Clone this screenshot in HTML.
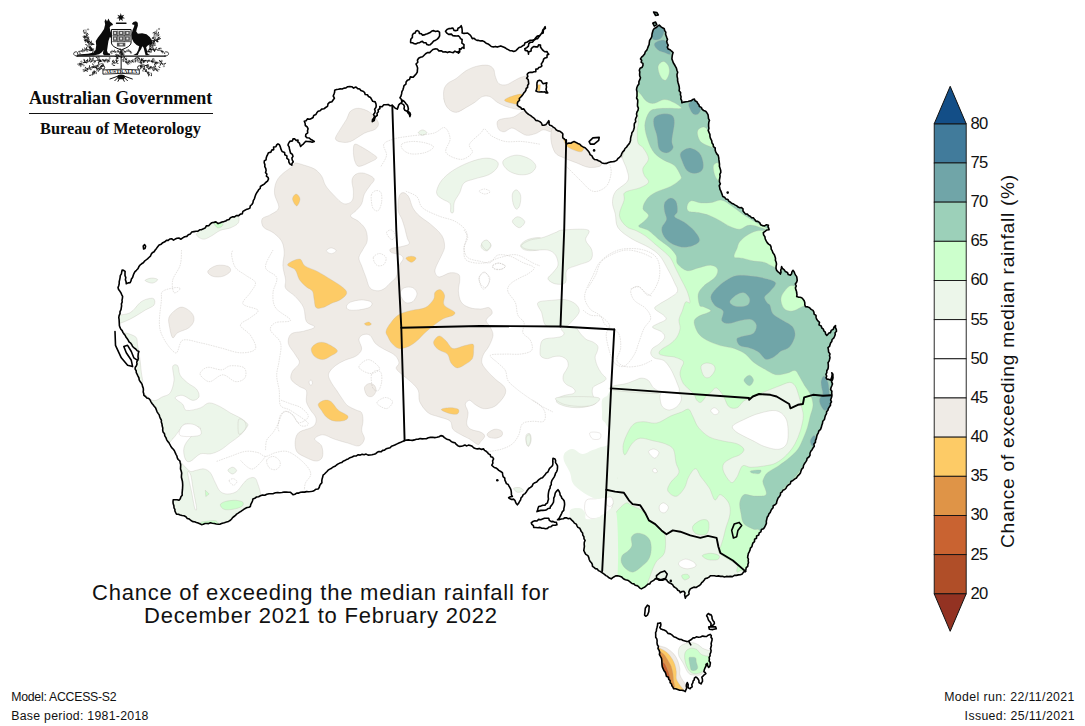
<!DOCTYPE html>
<html lang="en"><head><meta charset="utf-8"><title>Chance of exceeding the median rainfall</title>
<style>
html,body{margin:0;padding:0;background:#fff;}
body{width:1085px;height:726px;position:relative;overflow:hidden;font-family:"Liberation Sans",sans-serif;color:#111;}
.t{position:absolute;white-space:nowrap;line-height:1;color:#111;font-family:"Liberation Sans",sans-serif;}
svg{position:absolute;left:0;top:0;}
</style></head><body>
<svg width="1085" height="726" viewBox="0 0 1085 726">
<defs><clipPath id="land">
<polygon points="157.7,246.7 159.1,245.0 161.2,244.2 162.8,242.7 164.8,241.8 166.4,240.4 168.2,240.4 169.8,239.0 171.6,238.7 173.5,240.1 175.2,239.1 177.0,238.3 178.9,238.0 181.0,239.2 182.7,237.9 184.6,236.8 186.8,236.4 188.3,234.7 190.4,233.9 191.8,232.0 194.0,231.6 196.0,231.2 198.0,231.1 199.7,229.8 201.7,229.6 203.5,228.8 205.3,227.9 206.3,225.9 208.7,225.7 210.1,224.2 211.6,222.8 213.8,222.4 215.9,221.9 218.1,223.6 220.3,222.8 222.0,222.0 223.9,221.6 225.7,221.0 227.2,219.9 229.1,219.4 230.4,217.8 232.3,216.9 234.6,216.9 236.3,215.5 238.7,215.6 240.4,214.1 242.3,213.7 242.9,211.4 244.5,210.5 246.1,209.6 247.9,209.1 249.9,208.1 250.3,205.8 251.9,204.5 252.9,202.8 253.3,200.6 254.4,198.8 255.0,196.7 255.7,194.7 256.7,192.8 257.8,191.3 258.7,189.7 260.2,188.5 260.4,186.5 262.3,185.2 264.2,184.1 265.7,182.5 267.5,181.2 268.5,179.0 268.0,177.3 266.4,176.1 266.9,174.0 265.5,172.7 266.1,170.6 265.8,168.6 264.8,166.7 264.9,164.6 264.2,162.7 264.3,160.9 266.1,159.8 266.2,158.0 266.7,156.4 267.6,154.6 268.5,152.7 271.0,152.1 271.7,150.1 273.7,149.6 273.6,147.0 275.9,146.8 276.6,145.0 278.0,143.9 279.4,144.7 280.0,146.1 280.5,147.6 281.2,149.7 282.1,151.5 284.6,152.4 284.8,154.8 286.9,155.9 286.9,158.4 288.7,159.7 288.9,162.1 289.8,163.9 291.8,165.2 292.0,163.4 293.3,161.8 292.2,159.9 291.9,158.0 293.0,156.4 292.4,154.4 290.5,153.0 290.0,151.0 289.5,149.0 289.1,146.9 288.0,145.1 288.7,143.1 289.8,141.4 292.4,140.9 293.0,138.9 294.8,138.9 296.2,140.6 298.0,140.1 297.9,142.0 299.5,143.2 300.0,144.8 300.6,146.4 301.8,145.2 303.3,144.1 304.4,142.8 305.6,141.4 307.8,141.5 310.0,141.6 312.1,142.2 314.3,141.4 312.6,140.3 310.8,139.5 309.3,138.0 307.1,137.8 305.6,136.4 305.8,134.3 307.7,132.9 307.5,130.7 308.1,128.8 307.2,126.9 305.3,125.5 305.1,123.3 304.3,121.3 306.1,120.7 307.4,118.9 309.7,119.3 311.4,118.5 313.1,117.5 313.7,115.4 315.8,114.6 316.8,112.8 318.1,111.3 320.1,110.7 321.7,109.1 323.9,108.8 325.6,107.5 327.5,106.4 328.0,103.8 329.5,102.4 331.9,101.8 333.1,100.0 334.4,98.2 333.2,96.0 334.0,94.1 334.6,92.2 334.7,90.2 336.5,89.5 338.4,89.3 340.2,88.9 342.2,89.0 344.0,88.1 346.0,87.9 347.7,86.7 349.7,86.5 351.8,86.7 353.6,88.1 356.0,87.0 357.7,88.6 359.7,89.0 360.9,90.6 362.9,91.2 364.5,92.3 365.2,94.5 367.4,94.8 368.5,96.5 370.5,97.5 371.6,99.4 372.7,101.3 375.2,101.9 376.0,104.0 376.2,105.8 375.9,107.6 374.6,109.2 375.2,111.1 374.8,112.8 373.5,114.4 374.5,116.5 373.6,118.2 372.5,119.7 372.3,121.6 374.2,120.5 374.7,118.4 375.6,116.5 377.3,115.3 377.0,113.3 378.4,111.8 378.1,109.9 379.9,108.5 379.8,106.5 382.1,106.7 383.8,104.7 386.1,104.8 388.2,104.5 390.2,105.8 392.3,105.3 393.8,106.8 395.3,108.3 397.3,109.1 398.1,107.1 398.6,105.1 400.0,103.6 401.9,102.4 402.4,100.3 404.0,101.2 405.1,102.5 406.2,103.9 407.4,105.3 408.0,107.1 408.4,109.0 407.7,111.1 409.8,112.6 410.5,114.5 409.9,116.6 409.4,114.4 408.0,112.9 407.0,111.2 404.9,110.3 404.0,108.6 404.4,106.4 403.6,104.6 401.4,103.4 401.8,101.2 401.3,99.3 399.9,97.8 401.0,96.0 401.6,93.9 401.9,91.7 402.9,89.8 403.5,87.8 404.0,85.7 405.9,84.2 406.1,82.0 407.4,80.2 409.5,79.5 410.3,76.9 413.2,77.2 414.6,75.6 416.1,74.0 417.3,72.1 417.4,70.1 417.6,68.1 417.0,66.1 416.0,64.0 417.8,62.2 417.4,60.2 418.6,58.3 420.5,57.3 422.6,56.7 424.1,55.2 425.6,53.7 427.4,52.6 429.7,52.6 431.3,51.0 432.9,49.5 434.9,48.9 437.2,49.0 438.9,50.9 441.2,50.7 443.1,52.0 445.5,51.7 447.5,52.6 449.3,51.8 451.3,52.3 453.2,52.7 454.9,51.1 457.0,52.2 458.8,51.4 458.4,53.3 459.7,52.0 459.7,50.4 459.4,48.7 460.9,49.3 462.3,47.4 464.0,48.3 463.9,46.5 464.0,44.6 461.9,43.2 462.0,41.4 462.1,39.5 460.5,38.6 459.7,37.0 458.4,35.8 456.6,36.0 454.7,35.9 452.9,35.8 451.4,34.1 448.6,34.4 446.9,33.2 445.5,31.2 447.0,29.5 448.8,28.6 451.1,28.4 452.9,28.0 454.0,30.4 455.7,30.6 457.5,30.3 458.0,28.2 460.0,27.2 461.2,25.7 461.8,27.5 462.1,29.3 462.2,31.2 462.1,33.0 464.0,33.4 465.8,33.2 467.6,33.0 469.0,34.2 470.5,35.4 471.4,36.9 472.3,38.6 474.1,38.2 475.5,39.6 477.0,40.4 478.7,40.4 480.6,40.9 482.7,40.9 484.5,41.8 486.1,43.2 488.1,43.9 489.7,45.2 491.3,46.5 493.5,46.9 495.3,46.4 497.2,47.1 499.0,46.4 500.8,45.9 502.7,46.7 504.6,47.5 506.4,48.7 508.2,49.6 509.9,50.7 511.9,50.7 513.7,51.5 515.8,50.7 517.4,49.1 519.0,47.5 521.1,46.9 522.6,45.8 524.3,45.0 525.0,42.8 526.9,42.3 528.5,41.3 530.2,40.3 532.5,40.2 534.4,39.4 535.9,37.6 537.3,36.1 539.6,35.5 541.1,34.0 542.3,32.1 542.8,30.0 544.1,28.4 545.1,26.6 545.4,28.4 543.5,29.6 543.3,31.3 543.2,33.0 541.2,33.8 540.0,35.4 538.8,36.9 537.7,38.6 535.6,39.0 533.9,40.3 532.6,42.1 530.3,42.3 528.8,43.7 528.4,46.2 526.8,47.6 524.8,48.7 525.2,50.4 527.5,50.9 528.3,52.4 528.5,54.2 528.6,52.0 531.1,50.9 531.2,48.7 532.5,47.4 533.9,46.5 535.9,46.9 537.7,46.9 538.6,44.9 540.5,45.0 540.4,46.8 541.3,48.2 542.3,49.6 543.6,50.9 545.0,51.8 546.9,51.5 547.7,53.0 548.8,54.2 547.1,55.0 547.0,57.4 545.1,57.9 543.6,59.2 543.2,61.0 542.3,62.5 541.3,63.9 541.9,65.9 540.5,67.1 538.8,67.6 537.7,69.0 535.9,69.1 535.8,71.6 534.0,71.8 532.2,72.4 530.3,72.2 528.5,72.7 527.2,74.3 527.8,76.5 526.6,78.2 528.2,79.7 528.5,81.9 528.7,83.8 527.6,85.5 527.6,87.4 526.2,88.5 525.9,90.3 525.0,91.7 523.9,92.9 522.9,94.5 521.8,95.9 520.6,97.2 519.3,98.5 519.5,100.4 518.0,101.6 517.4,103.1 517.4,105.4 519.3,106.8 520.8,107.5 521.7,109.1 523.8,108.9 524.8,110.5 526.0,112.1 527.4,113.5 529.0,114.6 530.7,115.7 532.2,116.9 533.6,117.8 534.8,119.0 535.8,120.4 537.7,120.6 539.8,121.6 541.4,123.0 542.3,125.2 544.0,125.1 545.7,124.8 546.9,123.4 547.9,122.0 548.8,120.6 549.2,122.1 548.9,123.8 549.7,125.2 551.7,125.8 553.2,127.1 554.9,128.1 556.1,129.8 557.9,130.9 560.0,131.3 561.7,132.6 562.9,134.0 562.7,136.0 562.8,137.8 564.4,139.0 565.7,140.4 565.9,142.5 567.2,143.8 568.9,143.1 570.8,143.3 572.4,142.3 574.1,141.6 576.0,142.4 577.9,143.5 579.8,144.3 581.3,145.9 583.1,146.9 585.1,147.7 586.6,149.2 588.0,150.8 589.3,152.5 590.1,154.6 592.0,155.9 592.9,157.9 594.5,159.5 596.7,159.7 598.5,160.8 600.4,161.6 602.1,163.0 604.2,163.5 606.4,163.4 608.4,162.5 610.4,161.9 612.6,161.7 614.7,161.4 616.7,160.4 617.8,158.7 619.5,157.3 621.0,155.8 621.7,153.7 622.7,151.9 624.2,150.4 625.0,148.5 626.6,147.2 627.6,145.5 628.9,144.1 629.9,142.3 630.5,140.4 630.6,138.4 631.0,136.5 631.6,134.7 631.9,132.8 633.1,131.1 633.8,129.2 634.3,127.4 634.2,125.3 634.4,123.4 635.7,121.7 635.4,119.6 636.0,117.8 636.9,116.0 636.5,113.9 637.0,112.0 638.0,110.3 638.4,108.2 637.5,106.2 637.5,104.2 637.7,102.1 637.7,100.0 636.6,98.0 637.0,96.0 637.0,93.9 637.0,91.8 636.5,89.8 636.8,87.7 637.6,85.8 638.9,84.0 638.9,81.7 639.8,79.7 640.5,77.7 639.7,75.9 639.6,74.0 639.8,72.0 639.3,70.2 640.1,68.2 642.2,67.2 643.0,65.2 642.9,63.4 641.2,62.3 641.7,60.2 640.5,58.9 641.6,57.1 643.3,55.6 644.6,53.9 645.3,51.7 646.8,50.1 647.6,48.3 648.2,46.4 649.1,44.6 649.3,42.6 649.6,40.4 650.9,38.5 651.8,36.5 652.0,34.3 652.5,32.2 653.1,30.1 654.3,28.4 656.2,27.6 657.6,26.2 659.3,25.1 660.8,26.6 662.5,27.8 664.3,28.8 664.7,30.6 665.8,32.2 665.6,34.2 666.2,35.9 666.8,37.6 667.5,39.4 666.7,41.4 667.2,43.3 668.2,45.1 667.3,47.1 668.1,48.9 670.1,49.7 671.6,51.2 673.1,52.6 672.4,54.7 672.1,56.8 671.9,58.9 672.6,60.8 673.3,62.8 674.4,64.5 675.4,66.3 676.4,68.1 676.9,70.2 677.7,72.2 677.0,74.4 677.1,76.5 677.6,78.6 677.6,80.7 678.1,82.7 678.7,84.7 679.2,86.7 679.4,88.7 679.1,90.8 680.6,92.6 680.4,94.8 681.1,96.7 680.8,98.8 681.7,100.7 681.9,102.8 683.9,102.1 686.0,101.8 688.1,101.5 689.7,101.0 691.4,100.6 692.8,99.5 694.4,99.0 695.0,100.8 696.9,101.7 697.7,103.4 698.9,104.7 699.4,106.5 701.3,107.4 702.2,109.4 703.7,110.5 705.7,111.2 706.9,112.8 708.0,114.6 708.3,116.5 708.5,118.6 709.5,120.3 708.8,122.3 708.6,124.3 708.6,126.3 708.9,128.4 708.2,130.4 709.0,132.4 709.9,134.4 710.0,136.6 710.6,138.7 711.7,140.7 712.0,142.9 713.2,144.5 713.4,146.7 715.2,148.0 715.2,150.2 715.9,152.1 716.8,153.9 718.2,155.4 718.7,157.6 718.9,159.7 719.2,161.9 719.5,164.1 719.4,166.3 720.1,168.4 720.7,170.5 720.8,172.4 719.8,174.3 720.1,176.2 719.8,178.1 719.4,180.0 719.5,182.0 720.4,183.8 719.2,185.7 719.7,187.6 720.0,189.4 720.9,191.1 721.5,192.9 722.2,194.6 722.7,196.4 724.6,197.2 725.8,198.9 727.9,199.5 729.0,201.4 730.6,202.3 732.0,203.5 733.7,204.1 735.3,205.1 736.8,205.9 738.1,207.1 739.7,207.7 741.5,207.6 743.0,208.9 743.0,211.0 744.2,212.4 745.3,213.9 747.3,214.1 748.6,215.6 750.2,216.3 751.6,217.7 753.5,217.9 754.7,219.6 755.9,221.1 757.8,221.4 759.7,222.6 760.7,224.8 762.8,225.7 764.7,225.9 766.5,224.7 768.4,225.2 768.0,226.8 768.7,228.2 769.1,229.7 766.8,230.0 765.1,231.4 763.3,232.7 763.6,234.9 764.9,236.8 765.3,239.0 766.2,240.9 767.2,242.6 768.6,244.1 770.4,245.2 771.1,247.1 771.2,249.1 772.3,250.9 772.9,252.8 774.2,254.4 774.9,256.3 775.5,258.2 775.4,260.3 776.2,262.2 776.5,264.2 776.1,266.3 776.0,268.3 776.6,270.3 777.8,271.6 779.2,272.7 780.4,274.1 781.0,272.2 780.7,270.2 781.3,268.4 781.6,266.5 782.5,268.5 784.3,269.8 785.4,271.6 787.4,272.4 788.3,274.6 790.4,275.3 791.6,273.8 791.9,271.9 792.9,270.3 794.1,271.8 794.8,273.5 795.6,275.1 796.7,276.6 797.0,278.5 797.2,280.4 796.6,282.3 795.3,284.0 796.3,286.0 795.4,287.9 795.8,289.6 796.5,291.3 796.7,293.0 797.0,294.8 796.7,296.6 798.3,297.1 800.0,297.3 801.7,297.7 802.9,299.1 804.2,300.8 804.8,302.7 804.8,304.8 805.5,306.7 807.7,306.9 809.6,307.8 811.1,309.4 813.0,310.4 813.9,312.1 814.1,314.1 816.0,315.4 816.1,317.4 816.7,319.2 817.9,320.9 819.5,322.3 819.0,324.9 821.2,326.0 821.8,328.0 823.4,329.1 823.8,330.9 825.3,332.1 825.6,334.1 826.8,335.5 827.9,334.3 828.9,333.0 830.5,332.6 831.2,330.4 833.3,329.3 834.0,327.1 835.5,325.6 835.4,327.6 836.3,329.4 836.5,331.3 835.1,332.7 835.2,334.8 834.5,336.5 833.7,338.2 832.1,339.5 831.8,341.4 830.7,342.8 830.1,344.6 829.5,346.4 828.0,347.6 828.4,349.8 828.6,352.0 830.0,353.9 829.5,355.6 830.0,357.6 829.6,359.3 829.1,361.1 828.0,362.7 828.3,364.7 828.3,366.8 828.0,368.8 826.8,370.7 826.8,372.7 825.9,374.3 826.7,376.1 826.0,377.7 827.1,379.2 829.0,379.4 830.5,380.2 831.3,378.4 831.8,376.6 832.2,374.7 831.8,372.7 832.9,374.2 832.9,376.0 833.0,377.7 832.5,379.7 831.5,381.6 832.5,383.9 831.8,385.8 831.0,387.7 830.6,389.5 831.9,391.2 831.7,393.0 831.9,394.7 831.8,396.5 831.2,398.2 830.6,399.9 831.5,401.9 830.4,403.5 830.5,405.3 829.4,406.8 828.4,408.4 827.9,410.3 826.6,411.7 826.5,413.7 825.5,415.3 824.9,417.4 824.4,419.5 822.8,421.2 822.5,423.4 821.8,425.3 821.3,427.4 820.6,429.3 818.9,430.8 818.3,432.8 817.3,434.6 816.7,436.6 816.3,438.6 815.5,440.4 815.4,442.4 813.9,444.0 814.3,446.3 813.0,447.9 812.1,449.7 810.8,451.3 810.0,453.2 810.0,455.4 808.9,457.0 807.1,458.4 806.7,460.4 805.6,462.1 804.4,463.8 803.5,465.5 803.2,467.6 801.7,469.1 801.0,471.0 800.4,473.0 799.1,474.7 797.6,476.1 796.4,478.0 794.5,479.1 792.9,480.5 790.9,481.5 790.3,483.9 788.3,485.0 786.8,486.5 786.0,488.2 784.7,489.5 782.9,490.2 782.1,491.8 780.6,492.8 780.4,494.8 779.5,496.5 778.1,498.0 777.4,499.8 776.8,501.6 776.4,503.5 775.1,504.8 773.2,505.7 773.1,507.8 771.8,509.1 770.9,510.7 770.2,512.5 768.9,513.9 768.3,515.7 767.2,517.3 766.8,519.1 766.3,521.2 766.4,523.4 765.5,525.4 764.6,527.2 763.5,528.8 761.4,529.6 760.9,531.8 759.2,532.9 758.8,534.9 756.6,535.9 756.5,538.2 754.6,539.3 754.5,541.6 753.0,542.9 752.3,544.8 751.9,546.7 750.4,548.1 750.0,550.1 749.2,551.8 748.3,553.6 748.0,555.5 747.6,557.3 748.4,559.0 748.2,560.8 748.5,562.6 747.9,564.4 747.8,566.3 746.2,567.7 745.9,569.6 745.5,571.4 743.5,572.1 742.3,573.9 740.4,574.7 738.4,574.9 736.4,575.4 734.4,575.4 732.5,576.6 730.4,576.4 728.4,576.6 726.4,576.4 724.4,577.0 722.4,576.3 720.4,576.4 718.4,575.9 716.4,576.2 714.4,575.7 712.4,575.7 710.4,575.7 709.0,577.1 707.3,578.1 705.3,578.5 704.1,580.2 703.0,581.6 701.7,582.7 700.7,584.3 699.4,585.5 697.8,586.4 696.1,587.5 693.9,587.1 692.1,588.0 690.3,588.9 689.4,590.5 688.8,592.1 689.1,594.0 687.7,595.3 686.1,596.4 685.3,598.2 685.0,596.5 684.6,594.9 685.0,593.0 684.0,591.4 682.0,591.5 680.3,592.7 679.5,591.0 677.8,590.2 676.8,588.7 675.3,587.7 673.6,586.5 672.6,584.6 670.9,583.5 669.0,582.7 667.5,581.4 666.5,579.7 664.5,579.3 662.7,580.2 660.8,580.3 658.9,580.1 657.1,578.9 655.2,578.9 653.9,580.3 652.3,581.1 650.7,582.1 649.8,583.9 647.7,584.3 646.4,585.7 644.9,587.0 643.1,587.9 641.4,588.9 639.8,588.1 638.6,586.7 637.1,585.6 635.2,585.2 633.9,583.9 632.0,583.5 630.6,582.3 629.1,581.2 627.6,580.2 625.4,579.8 623.4,578.8 621.8,577.1 619.7,576.3 617.6,575.7 615.7,575.9 614.2,576.7 612.7,577.6 611.3,578.9 610.0,578.2 608.6,577.6 607.6,576.4 605.9,575.6 604.5,574.4 603.1,573.4 601.6,572.3 600.1,571.4 598.4,570.6 597.3,569.0 595.4,568.6 594.0,567.4 592.5,566.4 592.3,564.4 591.4,562.7 590.0,561.2 589.2,559.5 588.8,557.6 587.9,555.6 585.8,554.4 584.7,552.5 583.8,550.4 584.1,548.4 584.4,546.4 584.2,544.3 584.3,542.3 585.1,540.4 584.0,538.8 583.9,536.7 582.8,535.1 582.6,533.1 581.3,531.6 580.6,529.9 579.8,528.3 577.9,527.4 577.0,525.8 576.3,524.1 574.4,523.1 573.1,521.3 571.5,519.9 570.0,518.3 568.3,518.7 566.7,517.9 565.0,517.8 563.3,518.8 561.3,519.0 559.5,519.6 557.5,519.8 559.1,518.4 560.0,516.6 560.9,515.0 561.7,513.3 562.4,511.6 563.8,510.3 563.9,508.4 564.3,506.6 564.6,504.7 564.5,502.8 564.2,501.0 563.2,499.5 561.8,498.2 561.3,496.5 560.1,495.0 559.9,493.0 559.1,491.3 558.0,489.7 557.1,490.6 556.3,491.5 555.3,492.9 554.9,494.6 554.6,496.3 553.8,497.8 553.7,499.9 553.5,502.1 552.5,504.0 551.5,505.4 550.4,506.6 550.0,508.3 548.1,508.5 546.7,509.7 545.0,510.3 542.9,510.4 540.9,510.4 538.9,510.9 537.0,511.6 537.7,509.9 538.0,508.2 538.7,506.5 540.8,506.1 542.8,505.3 545.0,505.3 546.0,503.8 547.5,502.8 547.9,500.9 548.5,499.1 548.2,497.1 548.2,495.3 548.4,493.4 548.7,491.5 549.2,489.7 550.1,488.1 550.2,486.2 551.3,484.6 551.2,482.7 551.8,480.7 552.9,478.9 554.1,477.1 555.0,475.2 555.5,473.3 556.7,471.6 557.3,469.7 557.5,467.7 557.5,465.8 556.6,464.1 555.5,462.6 555.6,460.6 555.0,458.9 553.0,458.2 552.8,460.0 552.8,461.9 552.9,463.8 552.5,465.7 551.1,467.0 549.6,468.4 548.7,470.2 547.9,472.0 546.1,473.1 545.1,474.8 543.7,476.2 542.5,477.7 540.7,478.3 539.2,479.3 537.9,480.6 536.7,482.0 534.9,482.7 533.1,483.9 532.2,486.0 530.5,487.3 528.7,488.5 527.4,490.2 526.3,492.0 525.1,493.6 523.2,494.6 522.4,496.5 521.0,497.9 520.6,499.9 519.5,501.5 518.6,503.3 517.4,504.8 516.2,503.5 515.5,501.9 514.9,500.3 513.5,499.1 511.6,499.5 510.1,498.7 508.6,497.8 510.4,496.8 512.4,496.5 511.4,494.9 511.4,493.0 511.2,491.2 510.8,489.4 509.9,487.7 509.0,486.2 508.2,484.5 506.4,483.6 505.7,481.9 504.9,480.2 504.8,478.2 503.1,476.6 502.7,474.7 502.4,472.7 500.7,471.5 498.8,470.4 497.3,468.9 496.0,468.0 494.3,467.5 493.0,466.4 491.8,465.2 492.9,463.2 492.6,460.9 493.6,458.9 492.7,457.3 490.8,456.7 490.2,454.7 488.6,453.9 487.5,452.5 486.2,451.3 484.5,450.4 483.6,448.9 481.5,449.4 479.4,448.6 477.3,448.9 475.4,448.5 473.6,447.7 472.2,446.3 470.4,445.5 468.5,445.1 466.8,445.9 464.9,445.1 463.2,445.8 461.5,446.3 459.7,446.4 457.8,445.7 456.3,444.4 455.0,442.7 452.9,442.4 451.2,441.5 449.7,440.1 447.8,439.6 446.0,438.7 444.4,437.6 442.9,436.1 440.9,435.6 439.0,436.8 436.9,437.3 434.7,437.6 432.5,437.3 430.4,437.4 428.3,437.7 426.3,438.7 424.2,438.8 422.1,438.9 420.1,438.5 418.2,439.3 416.3,439.2 414.4,439.9 412.4,440.4 410.5,440.2 408.5,439.9 406.5,440.1 404.6,440.6 402.7,441.4 400.8,442.3 398.9,443.0 397.1,443.9 395.3,444.8 393.5,445.6 391.5,446.2 390.1,447.8 388.1,448.2 386.1,448.8 384.5,450.1 382.6,450.4 381.1,451.8 379.0,451.5 377.2,452.3 375.7,453.7 373.9,454.3 372.0,454.7 370.0,455.0 368.1,455.1 366.1,454.1 364.1,454.7 362.2,454.3 360.2,455.1 358.2,454.7 356.4,455.9 354.1,456.0 352.1,457.0 350.0,457.7 348.2,458.9 346.4,459.6 344.8,460.6 343.1,461.2 341.7,462.6 339.8,463.1 338.2,463.9 336.5,465.0 335.0,466.3 333.1,467.0 331.6,468.2 329.8,469.1 328.1,470.2 327.0,471.5 325.7,472.8 324.5,474.0 323.1,475.2 322.7,477.1 322.1,478.9 321.8,480.8 321.9,482.7 320.6,484.1 319.7,485.7 319.2,487.5 318.1,489.0 316.1,489.2 314.4,490.4 312.6,491.2 310.6,491.5 308.6,491.7 306.6,491.6 304.6,492.1 302.5,492.0 300.6,492.3 298.7,493.1 296.7,493.1 294.9,494.2 293.0,494.8 291.8,493.5 290.5,492.3 288.4,492.3 286.2,492.1 284.1,492.0 281.9,492.5 279.8,492.7 277.6,492.6 275.5,492.8 273.4,493.6 271.2,493.7 269.0,493.7 266.8,494.2 264.8,495.3 262.5,495.0 260.4,495.8 258.6,496.7 256.5,497.0 254.8,498.3 252.9,499.0 252.5,501.0 251.6,502.8 250.7,504.6 250.4,506.5 248.9,507.2 247.2,507.5 245.6,508.2 244.1,509.1 242.7,510.2 241.2,511.2 239.6,512.1 238.2,513.1 236.6,514.1 235.5,515.4 234.0,516.5 232.6,517.6 231.6,519.0 230.4,520.3 228.5,521.4 226.4,522.1 224.4,522.7 222.3,523.2 220.3,524.1 218.3,524.2 216.3,524.0 214.3,523.5 212.3,523.3 210.3,522.8 208.6,523.6 206.8,523.5 205.0,523.5 203.3,524.2 201.5,524.6 199.8,523.8 198.1,523.1 196.4,522.5 194.6,521.8 192.8,521.6 191.0,520.5 189.3,519.1 187.3,518.4 185.9,516.7 184.0,515.8 182.1,515.5 180.2,515.0 178.4,514.2 176.5,514.1 175.7,512.6 174.9,511.0 174.9,509.3 174.0,507.8 173.9,505.8 173.2,503.8 173.0,501.8 173.2,499.8 175.1,499.8 177.1,499.7 179.0,500.3 180.3,498.8 180.9,496.8 182.2,495.3 182.1,493.2 182.3,491.2 182.5,489.2 182.6,487.2 182.7,485.2 182.6,483.2 182.4,481.2 181.9,479.2 181.4,477.3 181.5,475.2 181.7,473.1 181.2,471.0 180.5,469.0 180.6,466.9 180.7,464.7 180.2,462.7 179.8,460.8 178.2,459.5 177.3,457.9 176.9,456.0 176.0,454.3 175.2,452.6 174.4,450.8 173.3,449.3 171.9,447.9 170.8,446.2 169.9,444.5 169.0,442.8 167.7,441.4 166.6,439.6 165.9,437.6 164.8,435.9 164.5,433.8 163.1,432.1 162.7,430.1 162.8,428.0 162.2,426.1 162.0,424.1 161.3,422.1 161.4,420.1 160.4,418.5 159.7,416.7 159.2,414.9 158.1,413.4 157.1,411.8 156.4,410.0 155.7,408.1 154.4,406.6 153.3,405.0 152.0,403.5 151.0,401.8 150.1,400.0 148.8,398.5 146.8,398.0 145.5,396.5 143.9,395.4 143.7,393.6 143.2,391.9 143.4,390.1 143.3,388.3 142.6,386.6 142.2,384.7 141.3,383.0 140.1,381.5 139.2,379.8 138.9,377.9 138.0,376.1 137.2,374.4 136.3,372.7 136.2,370.7 135.1,369.1 135.3,367.2 136.4,365.7 137.0,363.9 136.7,362.0 137.6,360.3 138.3,358.6 138.0,356.8 138.1,355.0 138.3,353.2 138.9,351.5 137.0,350.6 135.7,349.0 134.1,347.9 132.6,346.5 131.8,344.7 130.7,343.1 129.0,341.9 128.2,340.1 127.1,338.5 125.9,337.0 125.1,335.2 123.9,333.9 122.9,332.4 122.2,330.6 120.9,329.3 120.1,327.7 119.4,325.8 119.3,323.7 119.2,321.7 119.1,319.7 118.8,317.7 119.1,315.6 120.0,313.7 120.0,311.6 121.0,309.7 121.3,307.7 121.6,305.8 121.4,303.9 122.2,302.0 122.0,300.1 122.4,298.3 122.6,296.4 121.7,294.6 120.9,292.8 119.8,291.1 118.6,289.6 118.0,287.6 118.7,285.7 119.2,283.7 119.2,281.6 119.7,279.6 120.1,277.6 120.3,275.6 121.4,273.9 121.7,272.0 122.1,270.1 123.7,270.4 125.1,271.3 125.0,273.4 125.0,275.5 125.8,277.6 125.4,279.7 126.1,281.8 126.3,283.8 128.1,282.9 130.1,282.6 131.0,280.9 131.4,279.0 132.6,277.4 133.2,275.6 133.8,273.8 134.8,271.8 136.4,270.3 137.9,268.8 138.8,266.8 140.1,265.0 141.6,263.8 143.3,262.8 144.5,261.2 146.0,260.0 147.5,258.8 148.9,257.5 150.4,256.2 151.2,254.3 152.3,252.7 154.1,251.7 155.2,250.0 156.5,248.4"/>
<polygon points="410.6,41.4 410.8,39.2 412.4,37.4 412.4,35.1 413.3,33.6 415.1,33.1 415.8,31.3 417.4,30.6 418.9,31.4 419.4,33.4 421.4,33.7 422.4,35.1 424.1,34.9 425.7,34.2 427.4,33.8 429.0,33.0 430.6,32.2 431.9,31.0 433.7,30.6 435.5,31.5 437.7,31.0 439.5,32.1 439.6,34.0 439.6,35.9 438.7,37.6 437.3,39.1 435.7,40.2 433.7,40.9 432.4,42.6 431.3,43.6 430.2,44.7 428.7,45.1 426.9,44.5 425.9,42.7 423.7,42.8 422.4,41.4 420.8,41.8 419.3,42.8 417.6,43.0 416.1,43.9 414.3,43.7 412.5,42.8 410.6,42.6"/>
<polygon points="535.9,91.1 536.6,89.2 537.0,87.1 536.9,85.0 537.0,82.9 537.7,81.0 539.5,80.3 541.4,81.0 542.1,82.5 543.2,83.7 545.1,83.2 546.9,82.8 546.2,84.9 546.5,87.1 546.0,89.3 546.6,91.3 547.8,92.9 546.2,93.0 544.8,91.9 543.2,92.0 541.4,91.7 539.5,92.0 537.7,91.7"/>
<polygon points="589.1,141.6 592.9,137.9 599.2,137.4 598.7,140.4 594.1,144.1 590.4,144.1"/>
<polygon points="653.6,12.0 656.8,12.5 658.3,15.0 655.6,15.5"/>
<polygon points="652.8,23.1 655.6,22.1 656.8,24.6 654.3,26.1"/>
<polygon points="531.2,522.8 532.9,521.5 534.9,520.8 537.0,521.0 538.6,519.4 540.7,519.8 542.5,519.1 544.5,518.3 546.6,518.2 548.7,518.3 549.4,520.4 551.2,521.6 553.0,521.4 554.6,522.3 556.3,522.3 556.7,523.6 557.0,524.8 555.5,525.1 554.0,525.2 552.5,525.3 551.0,526.7 548.9,527.0 547.5,528.4 545.5,528.7 543.7,528.2 541.8,528.3 540.0,527.4 537.9,527.7 535.8,527.5 533.7,527.4 533.4,525.6 531.9,524.4"/>
<polygon points="644.6,615.2 645.3,608.3 647.4,605.2 649.2,606.2 648.8,611.7 647.4,615.2 645.7,616.3"/>
<polygon points="706.6,615.8 707.4,614.4 708.7,613.5 709.5,614.6 710.8,614.5 711.9,616.4 712.1,618.6 712.9,620.5 714.2,622.0 714.4,623.6 713.5,624.8 712.2,625.5 710.8,625.5 711.1,623.6 710.1,622.0 708.7,620.5 708.0,618.6 707.5,617.1"/>
<polygon points="708.7,626.9 715.6,626.9 716.3,628.7 712.8,629.6 709.4,629.2"/>
<polygon points="655.7,634.4 655.6,632.6 656.4,631.0 656.5,629.2 657.0,627.5 657.5,625.5 657.7,623.4 659.1,623.2 660.5,622.7 660.9,624.4 660.7,626.0 659.8,627.5 660.9,629.0 662.5,629.6 664.1,630.0 665.5,630.7 666.7,631.7 668.1,633.4 670.4,633.9 672.2,635.1 673.8,636.7 675.9,637.4 677.7,638.6 679.5,639.4 681.5,639.5 683.2,640.6 685.0,641.1 686.8,641.6 688.7,641.3 690.1,640.2 691.7,639.3 692.9,637.9 694.7,637.9 696.4,636.8 698.4,637.2 700.5,637.0 702.5,636.1 704.5,636.4 706.6,636.5 708.2,635.2 710.1,634.4 711.3,635.5 711.0,637.4 712.1,638.6 712.0,640.3 711.5,642.0 711.1,643.7 711.4,645.5 711.0,647.1 710.5,648.8 711.1,650.6 710.8,652.3 710.0,654.0 710.1,655.8 709.1,657.4 709.4,659.2 709.1,661.1 710.4,662.8 710.1,664.7 709.8,666.3 708.7,667.5 707.6,665.6 707.3,663.4 706.0,664.4 706.0,666.2 705.2,667.5 704.4,669.5 703.9,671.6 705.1,672.5 705.9,673.7 704.9,674.4 703.9,675.1 703.0,676.2 701.8,677.1 702.4,679.2 702.5,681.3 701.7,682.6 701.1,684.0 700.1,683.2 699.0,682.6 698.9,680.4 697.7,678.5 696.8,677.6 695.6,677.1 694.4,678.2 694.2,679.9 693.1,681.0 692.9,682.6 691.8,684.6 692.2,686.8 691.0,687.6 690.1,688.8 688.7,688.1 688.0,686.8 688.2,684.6 687.3,682.6 686.5,684.4 686.3,686.2 686.7,688.2 685.9,689.8 685.3,691.6 683.7,690.6 681.8,690.2 679.7,690.3 677.7,689.5 675.7,688.7 673.6,688.8 673.0,687.2 671.9,685.7 671.5,684.0 670.1,682.7 670.1,680.6 668.7,679.2 668.4,677.3 666.4,676.3 666.0,674.4 665.4,672.4 664.0,670.8 663.2,668.9 662.3,666.9 662.0,664.8 661.9,662.7 661.8,660.5 661.5,658.4 660.5,656.5 659.4,654.5 659.7,652.3 659.1,650.3 658.0,648.5 658.4,646.4 657.3,644.7 657.0,642.7 657.1,640.7 656.8,638.9 655.7,637.2 655.7,635.8"/>
<polygon points="143.2,246.0 144.6,244.6 145.6,246.2 145.0,248.6 143.6,249.0"/>
</clipPath></defs>
<g clip-path="url(#land)" stroke="#b9b2aa" stroke-opacity="0.45" stroke-width="0.6">
<path d="M624.2,150.4 C624.6,152.3 621.8,154.1 622.2,157.3 C622.7,160.6 626.0,165.9 626.9,169.8 C627.8,173.7 629.7,177.1 627.7,180.8 C625.8,184.5 617.8,188.2 615.3,191.9 C612.8,195.6 612.5,199.3 612.5,202.9 C612.5,206.6 614.4,209.9 615.3,214.0 C616.2,218.2 615.3,223.7 618.1,227.8 C620.8,232.0 626.8,235.7 631.9,238.9 C637.0,242.1 643.9,244.4 648.5,247.2 C653.1,250.0 656.3,251.8 659.5,255.5 C662.8,259.2 665.3,264.7 667.8,269.3 C670.4,273.9 673.1,279.4 674.7,283.1 C676.4,286.8 678.3,289.0 677.5,291.4 C676.8,293.8 673.2,295.5 670.2,297.6 C667.1,299.8 661.7,302.4 659.2,304.2 C656.6,306.1 654.0,306.8 654.8,308.7 C655.5,310.5 661.7,313.4 663.6,315.3 C665.4,317.1 666.9,318.2 665.8,319.7 C664.7,321.1 659.2,322.8 657.0,324.1 C654.8,325.4 651.8,326.1 652.6,327.4 C653.3,328.7 659.4,330.1 661.4,331.8 C663.4,333.4 665.1,335.3 664.7,337.3 C664.3,339.3 661.2,342.1 659.2,343.9 C657.2,345.7 654.0,346.7 652.6,348.3 C651.2,350.0 650.4,352.2 650.8,353.8 C651.2,355.5 652.6,357.1 654.8,358.2 C656.9,359.3 661.0,358.8 663.6,360.4 C666.2,362.1 668.4,365.4 670.2,368.2 C672.0,370.9 673.1,373.7 674.6,377.0 C676.1,380.3 677.9,385.2 679.0,388.0 C680.1,390.7 677.7,391.5 681.2,393.5 C684.7,395.5 666.9,398.9 700.0,400.0 C733.1,401.1 850.0,466.7 880.0,400.0 C910.0,333.3 923.3,66.7 880.0,0.0 C836.7,-66.7 663.3,-24.3 620.0,0.0 C576.7,24.3 619.3,120.9 620.0,146.0 C620.7,171.1 623.9,148.5 624.2,150.4Z" fill="#ecf6ea"/>
<polygon points="611.1,388.0 749.0,397.5 760.0,392.0 800.0,392.0 880.0,392.0 880.0,603.0 600.0,603.0 602.2,571.0 606.3,490.0" fill="#ecf6ea" stroke="none"/>
<path d="M612.9,390.2 C605.5,389.0 610.7,387.3 612.9,386.2 C615.1,385.1 622.4,384.6 626.1,383.6 C629.8,382.6 632.4,381.2 634.9,380.3 C637.5,379.4 639.3,378.1 641.5,378.1 C643.7,378.1 646.3,378.8 648.2,380.3 C650.0,381.7 651.1,384.7 652.6,386.9 C654.0,389.1 663.6,392.9 657.0,393.5 C650.4,394.0 620.2,391.4 612.9,390.2Z" fill="#ecf6ea"/>
<path d="M540.0,353.1 C539.9,350.5 540.3,344.4 541.3,342.0 C542.4,339.6 544.2,339.3 546.2,338.6 C548.1,337.9 550.5,338.3 553.1,337.9 C555.6,337.6 559.5,337.3 561.3,336.5 C563.2,335.7 564.1,334.2 564.1,333.1 C564.1,331.9 561.3,330.7 561.3,329.6 C561.3,328.6 561.8,327.2 564.1,326.9 C566.4,326.5 572.3,326.4 575.1,327.6 C577.9,328.7 578.8,331.8 580.6,333.8 C582.4,335.7 584.0,337.9 586.1,339.3 C588.2,340.7 591.1,340.9 593.0,342.0 C595.0,343.2 597.1,344.6 597.8,346.2 C598.5,347.8 597.6,349.8 597.1,351.7 C596.7,353.5 595.1,354.9 595.1,357.2 C595.1,359.5 596.1,362.8 597.1,365.5 C598.2,368.1 599.8,370.8 601.3,373.0 C602.8,375.2 605.9,377.0 606.1,378.5 C606.3,380.0 604.1,381.0 602.6,382.0 C601.2,383.0 598.7,383.8 597.1,384.7 C595.5,385.7 593.8,386.1 593.0,387.5 C592.2,388.9 592.1,391.2 592.3,393.0 C592.5,394.8 593.7,396.9 594.4,398.5 C595.1,400.1 596.9,401.5 596.4,402.6 C596.0,403.8 594.0,404.6 591.6,405.4 C589.2,406.2 585.2,407.1 582.0,407.5 C578.8,407.8 575.6,407.8 572.3,407.5 C569.1,407.1 565.3,406.3 562.7,405.4 C560.1,404.5 557.2,403.2 556.5,402.0 C555.8,400.7 557.1,399.0 558.6,397.8 C560.1,396.7 563.0,395.8 565.5,395.1 C567.9,394.4 571.4,394.4 573.0,393.7 C574.6,393.0 575.2,392.0 575.1,390.9 C575.0,389.9 573.7,388.5 572.3,387.5 C571.0,386.5 568.3,385.9 566.8,384.7 C565.3,383.6 564.0,382.2 563.4,380.6 C562.8,379.0 562.9,376.8 563.4,375.1 C563.8,373.4 565.3,371.9 566.1,370.3 C566.9,368.7 568.1,367.2 568.2,365.5 C568.3,363.7 568.0,361.4 566.8,359.9 C565.7,358.5 563.4,357.1 561.3,356.5 C559.3,355.9 556.7,356.2 554.4,356.5 C552.1,356.8 549.6,358.5 547.5,358.6 C545.5,358.7 543.3,358.1 542.0,357.2 C540.8,356.3 540.1,355.6 540.0,353.1Z" fill="#ecf6ea"/>
<path d="M612.0,388.2 C611.8,383.5 610.5,389.9 609.5,391.6 C608.5,393.3 607.1,396.2 606.1,398.5 C605.1,400.8 604.0,401.8 603.3,405.4 C602.7,409.0 601.1,417.6 602.4,420.0 C603.6,422.4 609.3,425.3 610.9,420.0 C612.5,414.7 612.2,392.9 612.0,388.2Z" fill="#ecf6ea" stroke="none"/>
<path d="M630.0,60.0 C631.3,79.2 636.8,103.6 638.0,115.3 C639.2,127.0 637.3,125.8 637.3,130.4 C637.3,135.0 637.1,140.0 638.0,142.9 C639.0,145.8 641.2,145.0 642.9,147.6 C644.7,150.3 648.5,155.3 648.5,158.7 C648.5,162.2 643.6,165.6 642.9,168.4 C642.3,171.2 643.4,173.0 644.3,175.3 C645.3,177.6 649.2,180.1 648.5,182.2 C647.8,184.3 644.1,186.0 640.2,187.7 C636.3,189.4 627.6,190.4 625.0,192.4 C622.3,194.5 625.1,196.4 624.1,200.2 C623.2,204.0 619.1,211.0 619.4,215.4 C619.8,219.8 623.6,223.9 626.4,226.5 C629.1,229.0 632.8,229.0 636.0,230.6 C639.3,232.2 642.5,233.8 645.7,236.1 C648.9,238.4 652.4,241.9 655.4,244.4 C658.4,247.0 661.2,249.0 663.7,251.3 C666.2,253.6 668.5,255.3 670.6,258.2 C672.7,261.2 674.3,265.6 676.1,269.3 C678.0,273.0 679.8,276.7 681.7,280.4 C683.5,284.1 685.8,287.7 687.2,291.4 C688.6,295.1 690.2,300.7 690.0,302.5 C689.7,304.3 686.9,300.6 685.6,302.0 C684.3,303.4 683.4,307.9 682.3,310.9 C681.2,313.8 679.4,316.7 679.0,319.7 C678.6,322.6 680.5,325.5 680.1,328.5 C679.7,331.4 678.5,334.7 676.8,337.3 C675.2,339.9 672.8,341.9 670.2,343.9 C667.6,345.9 663.2,347.8 661.4,349.4 C659.5,351.1 658.4,352.7 659.2,353.8 C659.9,354.9 663.2,355.5 665.8,356.0 C668.4,356.6 671.7,356.2 674.6,357.1 C677.5,358.1 682.3,359.7 683.4,361.5 C684.5,363.4 681.8,366.0 681.2,368.2 C680.7,370.4 679.7,372.2 680.1,374.8 C680.5,377.3 681.8,381.0 683.4,383.6 C685.1,386.2 688.2,388.4 690.0,390.2 C691.9,392.0 693.3,392.9 694.4,394.6 C695.5,396.3 695.5,398.8 696.6,400.1 C697.7,401.4 699.4,403.0 701.0,402.3 C702.7,401.6 704.9,397.3 706.6,395.7 C708.2,394.1 709.1,393.9 710.7,392.6 C712.3,391.3 714.1,387.5 716.2,387.9 C718.3,388.4 721.1,392.3 723.1,395.4 C725.2,398.5 726.4,404.4 728.7,406.5 C731.0,408.5 734.4,408.8 737.0,407.8 C739.5,406.9 741.1,402.8 743.9,400.9 C746.6,399.1 750.1,398.3 753.5,396.8 C757.0,395.3 760.5,393.5 764.6,391.8 C768.8,390.0 774.3,387.8 778.4,386.3 C782.6,384.7 786.7,382.5 789.5,382.4 C792.3,382.3 793.5,383.8 795.0,385.7 C796.5,387.6 797.3,390.8 798.3,394.0 C799.4,397.2 800.3,401.4 801.1,405.1 C801.9,408.8 803.4,412.0 803.3,416.1 C803.2,420.3 801.9,425.3 800.6,430.0 C799.2,434.6 797.3,439.6 795.0,443.8 C792.7,447.9 790.0,451.6 786.7,454.8 C783.5,458.1 779.4,461.3 775.7,463.1 C772.0,465.0 768.8,465.2 764.6,465.9 C760.5,466.6 754.5,467.3 750.8,467.3 C747.1,467.3 744.8,464.3 742.5,465.9 C740.2,467.5 738.8,474.2 737.0,477.0 C735.1,479.7 733.6,483.3 731.4,482.5 C729.2,481.7 725.0,475.1 723.7,472.0 C722.4,468.8 722.4,466.0 723.7,463.7 C725.0,461.4 728.8,459.6 731.4,458.2 C734.1,456.7 737.6,456.3 739.7,454.8 C741.8,453.4 744.3,451.2 743.9,449.3 C743.4,447.5 740.4,445.2 737.0,443.8 C733.5,442.4 727.7,442.2 723.1,441.0 C718.5,439.9 713.5,439.2 709.3,436.9 C705.2,434.6 701.0,430.6 698.2,427.2 C695.5,423.7 694.3,419.1 692.7,416.1 C691.1,413.1 690.4,409.9 688.6,409.2 C686.7,408.5 684.7,410.8 681.7,412.0 C678.7,413.1 674.7,414.3 670.6,416.1 C666.5,418.0 661.4,422.1 656.8,423.0 C652.2,424.0 646.9,421.4 642.9,421.7 C639.0,421.9 636.0,422.1 633.3,424.4 C630.5,426.7 628.1,431.8 626.4,435.5 C624.7,439.2 623.3,443.3 623.0,446.5 C622.8,449.8 623.5,455.3 625.0,454.8 C626.5,454.4 629.4,446.5 631.9,443.8 C634.4,441.0 636.5,438.7 640.2,438.2 C643.9,437.8 649.9,440.1 654.0,441.0 C658.2,441.9 661.8,442.4 665.1,443.8 C668.3,445.2 671.5,446.1 673.4,449.3 C675.2,452.5 675.2,459.2 676.1,463.1 C677.1,467.1 679.8,469.6 678.9,472.8 C678.0,476.0 672.4,479.5 670.6,482.5 C668.8,485.5 666.9,488.5 667.8,490.8 C668.8,493.1 673.4,496.8 676.1,496.3 C678.9,495.9 682.4,491.2 684.4,488.0 C686.5,484.8 686.7,480.2 688.6,477.0 C690.4,473.7 693.4,468.7 695.5,468.7 C697.6,468.7 698.7,473.7 701.0,477.0 C703.3,480.2 707.0,484.2 709.3,488.0 C711.6,491.8 713.0,498.8 714.8,499.9 C716.7,501.0 718.1,494.1 720.4,494.7 C722.7,495.2 727.1,499.7 728.7,502.9 C730.3,506.2 730.5,509.9 730.0,514.0 C729.6,518.2 727.1,523.7 725.9,527.8 C724.7,532.0 724.1,535.7 723.1,538.9 C722.2,542.1 721.1,544.9 720.4,547.2 C719.7,549.5 717.6,550.6 719.0,552.7 C720.4,554.8 725.7,557.6 728.7,559.6 C731.7,561.7 735.6,563.1 737.0,565.2 C738.3,567.2 735.8,571.0 737.0,572.1 C738.1,573.1 740.0,568.5 743.9,571.5 C747.7,574.5 734.0,586.9 760.0,590.0 C786.0,593.1 876.7,688.3 900.0,590.0 C923.3,491.7 945.0,98.3 900.0,0.0 C855.0,-98.3 675.0,-10.0 630.0,0.0 C585.0,10.0 628.7,40.8 630.0,60.0Z" fill="#ccffcc"/>
<path d="M613.9,516.8 C615.3,512.2 617.4,510.8 619.4,508.5 C621.5,506.2 624.3,503.4 626.4,502.9 C628.4,502.5 629.1,504.3 631.9,505.7 C634.7,507.1 640.2,508.9 642.9,511.2 C645.7,513.5 645.7,516.5 648.5,519.5 C651.2,522.5 656.8,526.5 659.5,529.2 C662.3,532.0 664.2,532.2 665.1,536.1 C665.9,540.0 665.9,548.6 664.5,552.7 C663.1,556.9 658.8,558.2 656.8,561.0 C654.8,563.8 654.0,566.1 652.6,569.3 C651.2,572.5 650.3,576.2 648.5,580.4 C646.6,584.5 647.6,592.8 641.6,594.2 C635.6,595.6 617.6,593.3 612.5,588.7 C607.5,584.1 611.4,572.5 611.2,566.5 C610.9,560.6 611.2,557.8 611.2,552.7 C611.2,547.6 610.7,542.1 611.2,536.1 C611.6,530.1 612.5,521.4 613.9,516.8Z" fill="#ccffcc"/>
<path d="M609.8,476.7 C610.2,475.6 612.6,474.4 613.9,474.7 C615.2,475.1 618.0,477.5 617.5,478.6 C617.1,479.7 612.4,481.7 611.2,481.4 C609.9,481.1 609.3,477.8 609.8,476.7Z" fill="#ccffcc"/>
<path d="M692.7,526.5 C693.6,524.2 698.5,521.0 701.0,520.1 C703.5,519.2 706.6,519.4 707.9,520.9 C709.2,522.4 709.2,526.9 708.8,529.2 C708.3,531.5 707.4,534.1 705.2,534.7 C702.9,535.4 697.6,534.7 695.5,533.4 C693.4,532.0 691.8,528.7 692.7,526.5Z" fill="#ccffcc"/>
<path d="M702.4,555.5 C702.9,554.4 707.9,553.3 710.7,553.3 C713.5,553.3 717.8,554.4 719.0,555.5 C720.1,556.5 719.4,558.9 717.6,559.6 C715.8,560.3 710.5,560.3 707.9,559.6 C705.4,558.9 701.9,556.5 702.4,555.5Z" fill="#ccffcc"/>
<path d="M681.7,575.4 C682.1,574.5 685.9,573.9 687.2,574.3 C688.5,574.7 689.9,576.7 689.4,577.6 C688.9,578.5 685.7,580.2 684.4,579.8 C683.1,579.4 681.2,576.3 681.7,575.4Z" fill="#ccffcc"/>
<path d="M701.0,366.4 C701.5,364.2 704.5,363.3 706.5,363.0 C708.6,362.8 712.1,363.7 713.5,365.0 C714.8,366.2 715.5,368.4 714.8,370.5 C714.1,372.6 711.2,376.5 709.3,377.4 C707.5,378.3 705.2,377.9 703.8,376.0 C702.4,374.2 700.6,368.5 701.0,366.4Z" fill="#ecf6ea"/>
<path d="M732.8,425.8 C734.4,423.7 740.9,421.0 745.3,418.9 C749.6,416.8 754.0,414.7 759.1,413.4 C764.1,412.0 771.3,409.9 775.7,410.6 C780.0,411.3 783.3,414.3 785.3,417.5 C787.4,420.7 787.9,425.6 788.1,430.0 C788.3,434.3 788.3,440.6 786.7,443.8 C785.1,447.0 782.1,448.8 778.4,449.3 C774.7,449.8 768.8,447.9 764.6,446.5 C760.5,445.2 757.2,442.9 753.5,441.0 C749.9,439.2 745.5,437.1 742.5,435.5 C739.5,433.9 737.2,432.9 735.6,431.3 C734.0,429.7 731.2,427.9 732.8,425.8Z" fill="#ffffff"/>
<path d="M710.7,410.6 C710.7,409.4 713.5,407.6 714.8,407.8 C716.2,408.1 719.0,410.8 719.0,412.0 C719.0,413.1 716.2,415.0 714.8,414.7 C713.5,414.5 710.7,411.8 710.7,410.6Z" fill="#ffffff"/>
<path d="M660.3,394.6 C660.8,393.1 661.6,391.6 663.6,391.3 C665.6,391.0 669.6,392.3 672.4,392.8 C675.2,393.4 678.6,393.4 680.1,394.6 C681.6,395.8 681.8,398.1 681.2,400.1 C680.7,402.1 678.8,405.1 676.8,406.7 C674.8,408.4 671.5,410.0 669.1,410.0 C666.7,410.0 663.9,408.4 662.5,406.7 C661.0,405.1 660.6,402.1 660.3,400.1 C659.9,398.1 659.7,396.1 660.3,394.6Z" fill="#ffffff"/>
<path d="M678.9,562.4 C679.8,561.2 683.3,559.1 685.8,559.1 C688.3,559.1 692.5,561.2 694.1,562.4 C695.7,563.6 696.6,565.5 695.5,566.5 C694.3,567.6 689.7,568.8 687.2,568.8 C684.7,568.8 681.7,567.6 680.3,566.5 C678.9,565.5 678.0,563.6 678.9,562.4Z" fill="#ffffff"/>
<path d="M659.5,505.7 C660.1,504.3 662.2,502.7 663.7,502.9 C665.2,503.2 668.2,505.5 668.4,507.1 C668.6,508.7 666.5,511.9 665.1,512.6 C663.7,513.3 661.0,512.4 660.1,511.2 C659.2,510.1 658.9,507.1 659.5,505.7Z" fill="#ffffff"/>
<path d="M648.5,451.8 C648.4,450.3 652.3,448.9 654.0,449.0 C655.8,449.2 658.9,451.1 659.0,452.6 C659.1,454.1 656.3,458.3 654.6,458.2 C652.8,458.0 648.6,453.3 648.5,451.8Z" fill="#ffffff"/>
<path d="M652.6,469.8 C652.9,469.1 654.6,468.0 655.4,468.4 C656.2,468.8 657.6,471.3 657.3,472.0 C657.1,472.7 654.8,472.9 654.0,472.5 C653.2,472.2 652.4,470.5 652.6,469.8Z" fill="#ffffff"/>
<path d="M586.3,500.2 C588.1,498.1 592.7,499.3 595.9,498.8 C599.2,498.3 602.9,497.2 605.6,497.4 C608.4,497.6 611.6,498.3 612.5,500.2 C613.5,502.0 613.0,505.7 611.2,508.5 C609.3,511.2 604.9,515.2 601.5,516.8 C598.0,518.4 593.2,519.1 590.4,518.2 C587.6,517.2 585.6,514.2 584.9,511.2 C584.2,508.2 584.4,502.3 586.3,500.2Z" fill="#ffffff"/>
<path d="M630.0,85.0 C631.1,100.0 635.0,88.7 636.8,90.2 C638.5,91.8 638.8,92.1 640.5,94.0 C642.2,95.9 644.5,100.0 646.8,101.5 C649.1,103.1 651.4,103.6 654.3,103.3 C657.2,103.0 661.0,99.6 664.3,99.5 C667.7,99.4 671.5,101.3 674.4,102.8 C677.2,104.2 682.2,107.4 681.4,108.3 C680.5,109.2 673.4,108.2 669.3,108.3 C665.3,108.4 660.2,108.2 656.8,108.8 C653.5,109.4 651.3,109.3 649.3,112.1 C647.3,114.8 645.0,120.6 644.8,125.3 C644.6,130.1 646.4,135.8 648.0,140.4 C649.6,145.0 651.6,149.6 654.3,152.9 C657.0,156.3 661.0,158.4 664.3,160.4 C667.7,162.5 671.6,162.9 674.4,165.5 C677.1,168.0 679.6,173.2 680.6,175.5 C681.6,177.8 681.9,177.6 680.3,179.4 C678.6,181.3 674.7,184.2 670.6,186.4 C666.5,188.5 659.3,190.4 655.4,192.4 C651.5,194.5 649.2,196.1 647.1,198.8 C645.0,201.5 642.7,205.7 642.9,208.5 C643.2,211.2 648.5,213.1 648.5,215.4 C648.5,217.7 644.6,220.5 642.9,222.3 C641.3,224.1 637.9,225.1 638.8,226.5 C639.7,227.8 645.3,228.5 648.5,230.6 C651.7,232.7 654.7,236.1 658.2,238.9 C661.6,241.7 666.2,244.4 669.2,247.2 C672.2,250.0 674.7,252.7 676.1,255.5 C677.5,258.2 675.7,261.2 677.5,263.8 C679.4,266.3 683.7,270.0 687.2,270.7 C690.6,271.4 694.3,268.8 698.2,267.9 C702.2,267.0 707.5,264.9 710.7,265.2 C713.9,265.4 716.9,267.2 717.6,269.3 C718.3,271.4 717.1,274.8 714.8,277.6 C712.5,280.4 706.5,283.1 703.8,285.9 C701.0,288.7 698.9,291.0 698.2,294.2 C697.6,297.4 698.7,303.1 699.6,305.3 C700.6,307.4 701.9,305.9 703.8,306.9 C705.6,307.9 711.6,309.4 710.7,311.1 C709.8,312.7 701.0,314.7 698.2,316.6 C695.5,318.4 694.1,319.4 694.1,322.1 C694.1,324.9 696.2,330.2 698.2,333.2 C700.3,336.2 702.9,338.0 706.5,340.1 C710.2,342.2 715.8,344.2 720.4,345.6 C725.0,347.0 730.0,347.0 734.2,348.4 C738.3,349.8 742.0,351.6 745.3,353.9 C748.5,356.2 750.3,359.7 753.5,362.2 C756.8,364.7 760.9,367.1 764.6,369.1 C768.3,371.2 772.0,374.0 775.7,374.7 C779.4,375.3 783.5,374.0 786.7,373.3 C790.0,372.6 792.9,370.0 795.0,370.5 C797.1,371.0 797.6,373.5 799.2,376.0 C800.8,378.6 802.9,382.7 804.7,385.7 C806.5,388.7 808.8,390.8 810.2,394.0 C811.6,397.2 813.0,401.4 813.0,405.1 C813.0,408.8 811.2,412.4 810.2,416.1 C809.3,419.8 808.6,423.5 807.5,427.2 C806.3,430.9 804.9,434.6 803.3,438.2 C801.7,441.9 800.1,446.1 797.8,449.3 C795.5,452.5 792.7,454.8 789.5,457.6 C786.3,460.4 782.1,463.4 778.4,465.9 C774.7,468.4 769.9,470.5 767.4,472.8 C764.8,475.1 763.9,477.9 763.2,479.7 C762.5,481.5 762.8,481.1 763.2,483.6 C763.7,486.1 767.6,492.6 766.0,494.7 C764.4,496.7 757.2,496.0 753.5,496.0 C749.9,496.0 746.2,493.5 743.9,494.7 C741.6,495.8 740.2,499.7 739.7,502.9 C739.3,506.2 740.4,510.6 741.1,514.0 C741.8,517.5 741.8,521.2 743.9,523.7 C745.9,526.2 750.8,527.8 753.5,529.2 C756.3,530.6 757.7,526.9 760.5,532.0 C763.2,537.1 746.7,555.3 770.0,560.0 C793.3,564.7 878.3,653.3 900.0,560.0 C921.7,466.7 945.0,93.3 900.0,0.0 C855.0,-93.3 675.0,-14.2 630.0,0.0 C585.0,14.2 628.9,70.0 630.0,85.0Z" fill="#9cd0b9"/>
<path d="M631.3,537.5 C632.0,535.4 633.9,533.8 636.0,533.4 C638.2,532.9 642.0,533.6 644.3,534.7 C646.6,535.9 648.7,537.7 649.9,540.3 C651.0,542.8 651.5,546.7 651.2,550.0 C651.0,553.2 650.1,556.9 648.5,559.6 C646.9,562.4 644.1,564.5 641.6,566.5 C639.0,568.6 635.8,571.6 633.3,572.1 C630.7,572.5 628.3,570.9 626.4,569.3 C624.4,567.7 622.1,564.7 621.4,562.4 C620.7,560.1 621.2,557.3 622.2,555.5 C623.3,553.6 626.1,552.9 627.7,551.3 C629.4,549.7 631.3,548.1 631.9,545.8 C632.5,543.5 630.6,539.6 631.3,537.5Z" fill="#9cd0b9"/>
<path d="M743.9,380.2 C743.9,378.4 747.8,375.2 749.4,375.2 C751.0,375.2 753.5,378.4 753.5,380.2 C753.5,381.9 751.0,385.7 749.4,385.7 C747.8,385.7 743.9,381.9 743.9,380.2Z" fill="#9cd0b9"/>
<path d="M750.8,470.9 C752.2,470.4 759.1,469.6 760.5,470.0 C761.8,470.5 760.5,473.1 759.1,473.6 C757.7,474.1 753.5,473.5 752.2,473.1 C750.8,472.6 749.4,471.4 750.8,470.9Z" fill="#9cd0b9"/>
<path d="M698.2,129.7 C699.3,128.3 701.9,126.7 703.8,126.9 C705.6,127.1 707.5,129.0 709.3,131.1 C711.2,133.1 713.9,136.6 714.8,139.4 C715.8,142.1 715.8,146.5 714.8,147.6 C713.9,148.8 711.6,147.2 709.3,146.3 C707.0,145.3 702.9,144.0 701.0,142.1 C699.1,140.3 698.2,137.3 697.7,135.2 C697.2,133.1 697.2,131.1 698.2,129.7Z" fill="#ccffcc"/>
<path d="M713.5,165.6 C714.1,163.7 717.4,161.4 719.0,163.7 C720.6,166.0 723.1,176.5 723.1,179.4 C723.1,182.4 720.4,182.1 719.0,181.4 C717.6,180.7 715.8,177.9 714.8,175.3 C713.9,172.7 712.8,167.6 713.5,165.6Z" fill="#ccffcc"/>
<path d="M687.2,205.7 C687.6,204.0 689.0,201.2 691.3,200.7 C693.6,200.3 697.6,202.7 701.0,202.9 C704.5,203.2 708.6,202.9 712.1,202.4 C715.5,201.9 718.5,199.6 721.8,200.2 C725.0,200.7 728.0,203.4 731.4,205.7 C734.9,208.0 738.8,211.5 742.5,214.0 C746.2,216.5 748.9,218.2 753.5,220.9 C758.2,223.7 770.6,229.9 770.1,230.6 C769.7,231.3 755.9,225.3 750.8,225.1 C745.7,224.8 743.2,229.0 739.7,229.2 C736.3,229.4 733.3,227.8 730.0,226.5 C726.8,225.1 723.8,222.8 720.4,220.9 C716.9,219.1 713.0,216.8 709.3,215.4 C705.6,214.0 701.7,213.3 698.2,212.6 C694.8,211.9 690.4,212.4 688.6,211.2 C686.7,210.1 686.7,207.5 687.2,205.7Z" fill="#ccffcc"/>
<path d="M739.7,241.7 C741.6,239.4 744.8,236.6 748.0,234.7 C751.2,232.9 755.4,230.8 759.1,230.6 C762.8,230.4 766.5,230.1 770.1,233.4 C773.8,236.6 778.9,244.0 781.2,250.0 C783.5,255.9 785.3,266.5 784.0,269.3 C782.6,272.1 776.1,267.7 772.9,266.5 C769.7,265.4 767.8,263.3 764.6,262.4 C761.4,261.5 757.2,261.7 753.5,261.0 C749.9,260.3 745.7,258.9 742.5,258.2 C739.3,257.6 735.1,258.5 734.2,256.9 C733.3,255.3 736.0,251.1 737.0,248.6 C737.9,246.0 737.9,244.0 739.7,241.7Z" fill="#ccffcc"/>
<path d="M781.0,298.0 C781.5,294.7 784.8,290.7 786.7,288.6 C788.6,286.5 790.0,285.3 792.2,285.5 C794.4,285.7 796.7,287.6 800.0,290.0 C803.3,292.4 810.7,297.7 812.0,300.0 C813.3,302.3 809.9,302.8 808.0,304.0 C806.1,305.2 803.1,306.3 800.5,307.5 C797.9,308.7 795.0,310.9 792.2,311.1 C789.5,311.3 785.9,310.7 784.0,308.5 C782.1,306.3 780.5,301.3 781.0,298.0Z" fill="#ccffcc"/>
<path d="M658.1,66.4 C658.5,63.9 661.4,61.6 663.1,61.4 C664.7,61.2 667.0,63.3 668.1,65.2 C669.1,67.1 669.8,70.2 669.3,72.7 C668.9,75.2 667.0,79.6 665.6,80.2 C664.1,80.8 661.8,78.8 660.6,76.5 C659.3,74.2 657.6,68.9 658.1,66.4Z" fill="#ccffcc"/>
<path d="M815.8,446.5 C814.4,447.2 812.3,451.6 810.2,454.8 C808.2,458.1 805.9,462.2 803.3,465.9 C800.8,469.6 797.8,473.7 795.0,477.0 C792.3,480.2 789.3,482.5 786.7,485.3 C784.2,488.0 780.0,491.5 779.8,493.5 C779.6,495.6 782.8,498.6 785.3,497.7 C787.9,496.8 791.1,492.9 795.0,488.0 C798.9,483.2 804.9,474.9 808.8,468.7 C812.8,462.4 817.4,454.4 818.5,450.7 C819.7,447.0 817.1,445.9 815.8,446.5Z" fill="#ccffcc"/>
<path d="M653.1,30.1 C654.3,28.0 657.4,25.3 659.3,25.1 C661.2,24.9 663.9,26.7 664.3,28.8 C664.7,30.9 663.3,35.7 661.8,37.6 C660.4,39.5 657.2,40.1 655.6,40.1 C653.9,40.1 652.2,39.3 651.8,37.6 C651.4,35.9 651.8,32.2 653.1,30.1Z" fill="#70a5a8"/>
<path d="M654.3,43.9 C654.9,42.2 659.7,40.3 661.8,40.1 C663.9,39.9 665.4,40.3 666.8,42.6 C668.3,44.9 671.0,52.2 670.6,53.9 C670.2,55.6 666.4,53.3 664.3,52.6 C662.2,52.0 659.7,51.6 658.1,50.1 C656.4,48.7 653.7,45.5 654.3,43.9Z" fill="#70a5a8"/>
<path d="M688.9,103.3 C689.7,101.9 692.5,99.0 694.4,99.8 C696.4,100.5 700.1,105.4 700.7,107.8 C701.3,110.2 699.4,113.0 698.2,114.1 C696.9,115.1 694.6,115.1 693.2,114.1 C691.7,113.0 690.1,109.6 689.4,107.8 C688.7,106.0 688.1,104.6 688.9,103.3Z" fill="#70a5a8"/>
<path d="M654.3,117.8 C655.6,115.9 658.9,114.5 661.8,114.1 C664.7,113.6 669.8,113.9 671.9,115.3 C673.9,116.8 674.4,118.7 674.4,122.8 C674.4,127.0 672.1,136.2 671.9,140.4 C671.6,144.6 673.9,145.8 673.1,147.9 C672.3,150.0 669.1,152.7 666.8,152.9 C664.5,153.1 661.0,152.1 659.3,149.2 C657.6,146.2 657.7,139.3 656.8,135.4 C655.9,131.4 654.2,128.3 653.8,125.3 C653.4,122.4 653.0,119.7 654.3,117.8Z" fill="#70a5a8"/>
<path d="M680.6,152.9 C681.9,150.8 686.3,147.9 689.4,147.9 C692.5,147.9 697.1,150.4 699.4,152.9 C701.7,155.4 702.8,160.0 703.2,162.9 C703.6,165.9 703.4,168.7 701.9,170.5 C700.5,172.2 696.9,173.5 694.4,173.5 C691.9,173.5 689.0,172.6 686.9,170.5 C684.8,168.3 682.9,163.4 681.9,160.4 C680.8,157.5 679.4,155.0 680.6,152.9Z" fill="#70a5a8"/>
<path d="M664.5,202.9 C665.5,200.7 668.7,198.2 670.6,198.0 C672.5,197.7 675.0,199.4 676.1,201.6 C677.3,203.8 677.7,208.7 677.5,211.2 C677.3,213.8 673.6,214.9 674.7,216.8 C675.9,218.6 681.2,220.0 684.4,222.3 C687.6,224.6 691.6,227.6 694.1,230.6 C696.6,233.6 699.9,237.7 699.6,240.3 C699.4,242.8 695.7,244.7 692.7,245.8 C689.7,247.0 685.3,247.6 681.7,247.2 C678.0,246.7 673.6,244.9 670.6,243.0 C667.6,241.2 665.2,238.7 663.7,236.1 C662.2,233.6 661.3,230.6 661.8,227.8 C662.2,225.1 666.0,222.3 666.5,219.5 C666.9,216.8 664.8,214.0 664.5,211.2 C664.2,208.5 663.5,205.2 664.5,202.9Z" fill="#70a5a8"/>
<path d="M710.7,297.0 C710.9,294.2 713.7,291.4 716.2,288.6 C718.7,285.8 722.5,282.6 725.9,280.4 C729.3,278.2 732.3,276.1 736.9,275.4 C741.5,274.7 748.4,275.6 753.5,276.2 C758.6,276.8 763.7,277.9 767.4,279.0 C771.1,280.1 775.2,281.0 775.7,283.1 C776.2,285.2 772.0,289.1 770.1,291.4 C768.2,293.7 765.1,295.0 764.6,296.9 C764.1,298.8 766.5,301.6 767.4,303.0 C768.3,304.4 769.2,303.7 770.1,305.5 C771.0,307.3 771.0,311.5 772.9,313.8 C774.8,316.1 778.0,317.3 781.2,319.4 C784.4,321.5 789.9,323.6 792.2,326.3 C794.5,329.1 795.5,332.4 795.0,335.9 C794.5,339.3 791.8,344.5 789.5,347.0 C787.2,349.5 783.7,349.5 781.2,351.1 C778.7,352.7 776.8,355.3 774.3,356.7 C771.8,358.1 768.5,360.1 766.0,359.4 C763.5,358.7 761.5,354.3 759.0,352.5 C756.5,350.7 754.0,349.5 750.8,348.4 C747.6,347.2 742.0,347.2 739.7,345.6 C737.4,344.0 736.2,340.3 736.9,338.7 C737.6,337.1 741.1,336.8 743.9,335.9 C746.7,335.0 751.4,335.0 753.5,333.2 C755.6,331.4 756.8,327.2 756.3,324.9 C755.8,322.6 753.6,320.1 750.8,319.4 C748.0,318.7 743.4,320.0 739.7,320.7 C736.0,321.4 731.6,323.5 728.6,323.5 C725.6,323.5 722.6,322.8 721.7,320.7 C720.8,318.6 724.2,313.6 723.1,311.1 C722.0,308.6 716.9,307.9 714.8,305.5 C712.7,303.1 710.5,299.8 710.7,297.0Z" fill="#70a5a8"/>
<path d="M730.0,301.1 C730.7,299.4 734.6,296.1 736.9,294.7 C739.2,293.3 741.8,292.2 743.9,292.8 C746.0,293.4 748.7,296.3 749.4,298.3 C750.1,300.3 749.6,303.3 748.0,304.7 C746.4,306.1 742.2,306.5 739.7,306.6 C737.2,306.7 734.4,306.1 732.8,305.2 C731.2,304.3 729.3,302.9 730.0,301.1Z" fill="#9cd0b9"/>
<path d="M821.3,380.2 C821.8,378.6 822.9,375.6 824.1,376.0 C825.2,376.5 827.3,380.0 828.2,382.9 C829.1,385.9 828.9,391.9 829.6,394.0 C830.3,396.1 832.1,393.5 832.4,395.4 C832.6,397.2 832.1,402.5 831.0,405.1 C829.8,407.6 827.1,410.4 825.4,410.6 C823.8,410.8 822.3,408.3 821.3,406.5 C820.3,404.6 819.1,401.6 819.4,399.5 C819.6,397.5 822.4,396.3 822.7,394.0 C823.0,391.7 821.5,388.0 821.3,385.7 C821.1,383.4 820.8,381.8 821.3,380.2Z" fill="#70a5a8"/>
<path d="M810.2,441.0 C810.4,439.2 812.9,435.9 813.8,435.5 C814.7,435.0 815.9,436.4 815.8,438.2 C815.6,440.1 813.9,446.1 813.0,446.5 C812.1,447.0 810.1,442.9 810.2,441.0Z" fill="#70a5a8"/>
<path d="M295.3,163.0 C293.5,163.3 294.8,164.4 292.5,166.4 C290.2,168.3 284.2,171.9 281.5,174.7 C278.7,177.4 277.1,179.7 275.9,182.9 C274.8,186.2 274.1,189.9 274.6,194.0 C275.0,198.2 279.4,204.4 278.7,207.8 C278.0,211.3 273.2,212.9 270.4,214.7 C267.6,216.6 263.3,216.8 262.1,218.9 C261.0,221.0 261.7,224.9 263.5,227.2 C265.3,229.5 270.2,230.4 273.2,232.7 C276.2,235.0 279.6,237.8 281.5,241.0 C283.3,244.2 284.0,247.9 284.2,252.1 C284.5,256.2 282.6,261.3 282.9,265.9 C283.1,270.5 285.2,276.0 285.6,279.7 C286.1,283.5 284.0,285.5 285.6,288.3 C287.2,291.1 292.3,293.4 295.3,296.6 C298.3,299.8 301.8,303.5 303.6,307.6 C305.4,311.8 304.5,318.2 306.4,321.5 C308.2,324.7 315.1,325.4 314.7,327.0 C314.2,328.6 307.5,330.0 303.6,331.2 C299.7,332.3 293.7,331.8 291.2,333.9 C288.6,336.0 287.7,340.1 288.4,343.6 C289.1,347.1 293.5,351.4 295.3,354.7 C297.1,357.9 299.9,360.2 299.4,362.9 C299.0,365.7 293.9,368.5 292.5,371.2 C291.2,374.0 290.0,377.0 291.2,379.5 C292.3,382.1 296.9,384.6 299.4,386.5 C302.0,388.3 305.2,388.1 306.4,390.6 C307.5,393.1 305.7,398.4 306.4,401.7 C307.1,404.9 308.9,407.2 310.5,410.0 C312.1,412.7 315.6,415.5 316.0,418.2 C316.5,421.0 316.0,424.2 313.3,426.5 C310.5,428.8 302.4,429.8 299.4,432.1 C296.5,434.4 295.8,437.1 295.3,440.4 C294.8,443.6 295.1,448.7 296.7,451.4 C298.3,454.2 301.8,455.3 305.0,457.0 C308.2,458.6 313.1,461.1 316.0,461.1 C318.9,461.1 321.5,459.5 322.4,457.0 C323.3,454.4 322.9,448.9 321.6,445.9 C320.3,442.9 314.4,440.8 314.7,439.0 C314.9,437.1 319.7,434.8 322.9,434.8 C326.2,434.8 329.9,437.6 334.0,439.0 C338.2,440.4 343.7,442.0 347.8,443.1 C352.0,444.3 356.1,446.6 358.9,445.9 C361.7,445.2 364.0,441.5 364.4,439.0 C364.9,436.5 361.9,433.7 361.7,430.7 C361.4,427.7 363.0,424.0 363.0,421.0 C363.0,418.0 362.8,414.6 361.7,412.7 C360.5,410.9 358.4,411.1 356.1,410.0 C353.8,408.8 350.1,407.6 347.8,405.8 C345.5,404.0 344.1,401.4 342.3,398.9 C340.5,396.4 338.6,393.4 336.8,390.6 C334.9,387.8 332.6,385.1 331.2,382.3 C329.9,379.5 327.8,376.8 328.5,374.0 C329.2,371.2 332.6,368.0 335.4,365.7 C338.2,363.4 341.6,361.8 345.1,360.2 C348.5,358.6 353.4,357.9 356.1,356.0 C358.9,354.2 361.2,351.9 361.7,349.1 C362.1,346.4 358.7,341.8 358.9,339.4 C359.1,337.1 361.2,335.4 363.0,334.7 C364.9,334.1 367.9,333.8 370.0,335.3 C372.0,336.8 373.2,341.3 375.5,343.6 C377.8,345.9 380.6,347.2 383.8,349.1 C387.0,351.1 392.3,352.9 394.8,355.2 C397.4,357.5 398.8,360.7 399.0,362.9 C399.2,365.2 395.5,366.4 396.2,368.5 C396.9,370.6 400.6,373.1 403.1,375.4 C405.7,377.7 408.9,379.8 411.4,382.3 C414.0,384.8 417.0,387.4 418.3,390.6 C419.7,393.8 418.1,398.0 419.7,401.7 C421.3,405.3 424.8,410.2 428.0,412.7 C431.2,415.3 435.4,415.5 439.1,416.9 C442.8,418.2 447.8,418.9 450.1,421.0 C452.4,423.1 451.1,427.0 452.9,429.3 C454.7,431.6 458.4,433.2 461.2,434.8 C464.0,436.5 466.7,437.4 469.5,439.0 C472.3,440.6 475.9,444.1 477.8,444.5 C479.6,445.0 479.4,443.1 480.6,441.8 C481.7,440.4 484.7,437.8 484.7,436.2 C484.7,434.6 482.9,433.2 480.6,432.1 C478.2,430.9 473.2,430.7 470.9,429.3 C468.6,427.9 467.2,426.5 466.7,423.8 C466.3,421.0 468.3,415.9 468.1,412.7 C467.9,409.5 465.1,406.5 465.3,404.4 C465.6,402.4 467.9,400.3 469.5,400.3 C471.1,400.3 472.7,403.0 475.0,404.4 C477.3,405.8 480.3,408.1 483.3,408.6 C486.3,409.0 490.2,408.3 493.0,407.2 C495.8,406.0 497.8,404.0 499.9,401.7 C502.0,399.4 504.7,395.9 505.4,393.4 C506.1,390.8 505.7,388.8 504.1,386.5 C502.4,384.1 498.5,382.1 495.8,379.5 C493.0,377.0 489.8,374.0 487.5,371.2 C485.2,368.5 482.6,365.7 481.9,362.9 C481.2,360.2 482.2,357.4 483.3,354.7 C484.5,351.9 487.2,349.6 488.8,346.4 C490.5,343.1 492.8,338.5 493.0,335.3 C493.2,332.1 491.4,329.5 490.2,327.0 C489.1,324.5 485.8,322.4 486.1,320.1 C486.4,317.8 491.7,315.3 492.2,313.2 C492.6,311.1 490.8,308.3 488.8,307.6 C486.9,307.0 483.8,309.0 480.6,309.0 C477.3,309.0 472.7,308.8 469.5,307.6 C466.3,306.5 463.0,304.9 461.2,302.1 C459.4,299.4 458.7,294.7 458.4,291.1 C458.2,287.4 459.8,282.8 459.8,280.0 C459.8,277.2 460.0,275.4 458.4,274.2 C456.8,273.0 453.4,272.4 450.1,272.8 C446.9,273.3 441.6,277.2 439.1,277.0 C436.5,276.7 435.2,273.7 434.9,271.4 C434.7,269.1 436.5,265.9 437.7,263.1 C438.8,260.4 440.7,257.6 441.8,254.8 C443.0,252.1 444.6,249.8 444.6,246.5 C444.6,243.3 444.1,239.2 441.8,235.5 C439.5,231.8 434.5,227.6 430.8,224.4 C427.1,221.2 422.7,218.9 419.7,216.1 C416.7,213.4 414.7,211.1 412.8,207.8 C411.0,204.6 410.3,199.3 408.7,196.8 C407.1,194.2 404.7,192.6 403.1,192.6 C401.5,192.6 399.8,193.8 399.0,196.8 C398.2,199.8 397.7,206.9 398.2,210.6 C398.6,214.3 400.7,216.1 401.8,218.9 C402.8,221.7 403.6,224.0 404.5,227.2 C405.4,230.4 406.5,235.5 407.3,238.2 C408.1,241.0 410.1,242.4 409.2,243.8 C408.3,245.2 404.8,245.7 401.8,246.5 C398.7,247.4 392.4,247.7 390.7,248.8 C389.0,249.8 389.9,251.6 391.5,252.6 C393.1,253.6 398.4,253.8 400.4,254.8 C402.3,255.9 403.4,257.1 403.1,259.0 C402.9,260.8 400.1,262.9 399.0,265.9 C397.8,268.9 397.6,274.2 396.2,277.0 C394.8,279.7 392.5,280.6 390.7,282.5 C388.8,284.3 387.2,286.6 385.2,288.0 C383.1,289.4 380.8,290.8 378.2,290.8 C375.7,290.8 372.0,290.3 370.0,288.0 C367.9,285.7 367.2,280.6 365.8,277.0 C364.4,273.3 362.8,269.1 361.7,265.9 C360.5,262.7 358.7,260.4 358.9,257.6 C359.1,254.8 361.7,252.1 363.0,249.3 C364.4,246.5 366.7,244.2 367.2,241.0 C367.6,237.8 367.2,233.2 365.8,230.0 C364.4,226.7 361.4,224.0 358.9,221.7 C356.4,219.4 351.1,218.0 350.6,216.1 C350.1,214.3 354.3,212.7 356.1,210.6 C358.0,208.5 360.3,206.5 361.7,203.7 C363.0,200.9 363.0,197.0 364.4,194.0 C365.8,191.0 368.3,188.2 370.0,185.7 C371.6,183.2 375.0,180.9 374.1,178.8 C373.2,176.7 367.4,174.1 364.4,173.3 C361.4,172.5 358.2,172.9 356.1,174.1 C354.1,175.3 352.4,177.3 352.0,180.2 C351.5,183.0 353.4,187.8 353.4,191.2 C353.4,194.7 353.6,198.8 352.0,200.9 C350.4,203.0 346.7,204.6 343.7,203.7 C340.7,202.8 337.0,198.4 334.0,195.4 C331.0,192.4 327.8,188.9 325.7,185.7 C323.6,182.5 323.4,178.8 321.6,176.0 C319.7,173.3 317.6,171.0 314.7,169.1 C311.7,167.3 306.8,166.0 303.6,165.0 C300.4,164.0 297.1,162.8 295.3,163.0Z" fill="#efebe6"/>
<path d="M346.5,306.3 C346.7,305.0 348.1,303.2 350.6,302.1 C353.1,301.1 358.2,299.9 361.7,299.9 C365.1,299.9 370.0,300.9 371.3,302.1 C372.7,303.3 372.0,305.8 370.0,307.1 C367.9,308.4 362.4,309.4 358.9,309.9 C355.4,310.3 351.3,310.5 349.2,309.9 C347.1,309.3 346.2,307.6 346.5,306.3Z" fill="#ffffff"/>
<path d="M400.4,292.4 C400.8,290.7 402.4,288.5 404.5,287.7 C406.6,287.0 410.7,286.7 412.8,287.7 C414.9,288.8 417.0,291.5 417.0,293.8 C417.0,296.1 414.7,300.1 412.8,301.6 C411.0,303.0 407.7,303.3 405.9,302.7 C404.1,302.1 402.7,299.7 401.8,298.0 C400.8,296.3 399.9,294.1 400.4,292.4Z" fill="#ffffff"/>
<path d="M309.1,381.8 C309.3,380.9 310.8,379.8 311.3,380.1 C311.9,380.4 312.6,382.9 312.4,383.7 C312.3,384.5 310.8,385.4 310.2,385.1 C309.7,384.7 308.9,382.6 309.1,381.8Z" fill="#ffffff"/>
<path d="M326.3,250.7 C326.3,249.7 329.6,247.9 331.2,247.9 C332.9,247.9 336.2,249.7 336.2,250.7 C336.2,251.7 332.9,253.7 331.2,253.7 C329.6,253.7 326.3,251.7 326.3,250.7Z" fill="#ffffff"/>
<path d="M364.4,387.8 C364.7,385.9 367.0,384.1 368.6,383.7 C370.2,383.2 372.9,383.9 374.1,385.1 C375.3,386.2 376.3,388.8 376.0,390.6 C375.8,392.4 374.2,395.3 372.7,396.1 C371.2,397.0 368.6,397.0 367.2,395.6 C365.8,394.2 364.2,389.8 364.4,387.8Z" fill="#efebe6"/>
<path d="M487.5,433.5 C488.4,432.2 492.1,429.8 494.4,429.3 C496.7,428.8 500.0,429.7 501.3,430.7 C502.6,431.7 503.0,434.1 502.1,435.4 C501.2,436.6 498.0,437.9 495.8,438.2 C493.5,438.4 490.2,437.8 488.8,437.1 C487.5,436.3 486.5,434.7 487.5,433.5Z" fill="#efebe6"/>
<path d="M335.4,138.7 C335.2,136.8 337.7,133.6 339.5,130.4 C341.4,127.2 344.6,122.6 346.5,119.4 C348.3,116.1 348.5,112.9 350.6,111.1 C352.7,109.2 355.7,108.1 358.9,108.3 C362.1,108.5 366.7,110.1 370.0,112.4 C373.2,114.7 377.3,119.4 378.2,122.1 C379.2,124.9 377.8,127.2 375.5,129.0 C373.2,130.9 368.6,131.1 364.4,133.2 C360.3,135.3 354.5,140.0 350.6,141.5 C346.7,142.9 343.5,142.5 340.9,142.0 C338.4,141.6 335.6,140.6 335.4,138.7Z" fill="#efebe6"/>
<path d="M354.7,144.2 C356.1,143.5 358.7,145.4 361.7,147.0 C364.7,148.6 370.2,152.1 372.7,153.9 C375.3,155.8 377.3,156.7 376.9,158.1 C376.4,159.4 372.9,160.8 370.0,162.2 C367.0,163.6 361.4,166.6 358.9,166.4 C356.4,166.1 355.7,163.4 354.7,160.8 C353.8,158.3 353.4,153.9 353.4,151.2 C353.4,148.4 353.4,144.9 354.7,144.2Z" fill="#efebe6"/>
<path d="M444.6,97.2 C447.4,94.9 466.3,95.4 469.5,97.2 C472.7,99.1 466.7,106.0 464.0,108.3 C461.2,110.6 456.1,112.9 452.9,111.1 C449.7,109.2 441.8,99.5 444.6,97.2Z" fill="#efebe6"/>
<path d="M207.8,271.3 C208.4,269.5 213.2,266.4 216.6,265.5 C219.9,264.7 225.6,265.3 227.9,266.3 C230.2,267.3 231.2,269.6 230.4,271.3 C229.5,273.0 225.8,275.5 222.8,276.3 C219.9,277.2 215.3,277.2 212.8,276.3 C210.3,275.5 207.2,273.1 207.8,271.3Z" fill="#efebe6"/>
<path d="M168.9,317.7 C169.9,314.8 172.9,311.9 175.2,310.2 C177.5,308.4 180.0,306.7 182.7,307.2 C185.4,307.6 189.6,310.5 191.5,312.7 C193.4,314.8 194.4,317.7 194.0,320.2 C193.6,322.7 191.7,325.6 189.0,327.7 C186.3,329.8 180.4,331.1 177.7,332.7 C175.0,334.4 174.0,338.6 172.7,337.7 C171.4,336.9 170.3,331.1 169.7,327.7 C169.1,324.4 168.0,320.6 168.9,317.7Z" fill="#efebe6"/>
<path d="M443.7,91.1 C444.1,88.0 445.2,85.9 447.4,83.7 C449.5,81.6 453.5,80.4 456.6,78.2 C459.7,76.1 462.4,72.8 465.8,70.8 C469.2,68.8 473.2,67.1 476.9,66.2 C480.6,65.3 485.2,64.8 487.9,65.3 C490.7,65.8 492.2,67.1 493.5,69.0 C494.7,70.8 494.4,73.9 495.3,76.4 C496.2,78.8 497.1,82.4 499.0,83.7 C500.8,85.1 503.9,85.1 506.4,84.7 C508.8,84.2 511.3,82.2 513.7,81.0 C516.2,79.7 518.6,78.0 521.1,77.3 C523.6,76.5 526.6,75.3 528.5,76.4 C530.3,77.4 532.8,80.7 532.2,83.7 C531.6,86.8 526.6,91.0 524.8,94.8 C522.9,98.6 521.7,104.3 521.1,106.8 C520.5,109.2 522.3,109.2 521.1,109.5 C519.9,109.8 516.5,109.2 513.7,108.6 C511.0,108.0 507.3,106.9 504.5,105.9 C501.8,104.8 499.6,103.7 497.1,102.2 C494.7,100.6 492.2,97.6 489.8,96.6 C487.3,95.7 484.9,95.7 482.4,96.6 C479.9,97.6 477.8,100.3 475.0,102.2 C472.3,104.0 468.9,106.0 465.8,107.7 C462.7,109.4 459.4,112.0 456.6,112.3 C453.8,112.6 451.2,111.2 449.2,109.5 C447.2,107.8 445.5,105.2 444.6,102.2 C443.7,99.1 443.2,94.2 443.7,91.1Z" fill="#efebe6"/>
<path d="M498.1,120.6 C499.0,119.7 500.1,119.4 502.7,118.8 C505.3,118.1 510.7,118.0 513.7,116.9 C516.8,115.8 519.0,113.2 521.1,112.3 C523.3,111.4 524.2,110.6 526.6,111.4 C529.1,112.2 532.5,114.5 535.9,116.9 C539.2,119.4 543.8,124.0 546.9,126.1 C550.0,128.3 553.7,128.9 554.3,129.8 C554.9,130.7 552.4,131.7 550.6,131.7 C548.8,131.7 545.7,129.5 543.2,129.8 C540.8,130.1 538.6,132.6 535.9,133.5 C533.1,134.4 529.4,135.7 526.6,135.3 C523.9,135.0 521.7,132.9 519.3,131.7 C516.8,130.4 514.3,128.0 511.9,128.0 C509.4,128.0 506.7,131.4 504.5,131.7 C502.4,132.0 500.2,131.0 499.0,129.8 C497.8,128.6 497.3,125.8 497.1,124.3 C497.0,122.7 497.1,121.5 498.1,120.6Z" fill="#efebe6"/>
<path d="M553.0,128.0 C555.3,126.3 561.3,128.3 565.0,130.0 C568.7,131.7 571.4,135.0 575.0,138.0 C578.6,141.0 582.8,144.7 586.6,148.0 C590.4,151.3 595.5,155.1 597.9,158.0 C600.3,160.9 602.5,163.8 601.0,165.4 C599.5,167.0 593.2,167.8 589.1,167.4 C585.0,167.0 580.8,164.5 576.6,162.9 C572.4,161.3 567.5,159.6 564.0,157.9 C560.5,156.2 557.5,155.9 555.3,152.9 C553.1,149.9 551.4,144.2 551.0,140.0 C550.6,135.8 550.7,129.7 553.0,128.0Z" fill="#efebe6"/>
<path d="M504.5,100.3 C504.5,99.2 508.0,97.6 511.0,96.6 C513.9,95.7 520.8,93.3 522.0,94.4 C523.3,95.6 520.2,102.2 518.3,103.6 C516.5,105.1 513.3,103.6 511.0,103.1 C508.7,102.5 504.5,101.4 504.5,100.3Z" fill="#fdcb66"/>
<path d="M564.0,135.0 C565.6,134.2 571.7,137.5 575.0,139.0 C578.3,140.5 582.9,141.9 584.0,144.0 C585.1,146.1 583.7,150.8 581.6,151.6 C579.5,152.4 574.3,150.3 571.6,149.1 C568.9,147.8 566.6,146.4 565.3,144.1 C564.0,141.8 562.4,135.8 564.0,135.0Z" fill="#fdcb66"/>
<polygon points="537.3,84.7 540.5,84.7 539.9,91.1 537.7,91.1" fill="#fdcb66"/>
<path d="M292.5,199.0 C292.4,197.0 294.9,194.0 296.1,194.0 C297.4,194.0 299.9,197.0 300.0,199.0 C300.1,201.0 297.9,205.9 296.7,205.9 C295.4,205.9 292.6,201.0 292.5,199.0Z" fill="#fdcb66"/>
<path d="M287.6,264.5 C288.2,262.7 296.5,258.8 299.4,259.0 C302.4,259.2 302.0,263.8 305.0,265.9 C308.0,268.0 313.0,269.1 317.4,271.4 C321.8,273.7 327.0,277.1 331.2,279.7 C335.5,282.4 340.3,285.2 342.9,287.5 C345.4,289.7 347.1,291.3 346.7,293.3 C346.4,295.3 343.5,297.6 340.9,299.4 C338.3,301.1 334.2,302.1 331.2,303.5 C328.2,304.9 325.5,307.0 322.9,307.6 C320.4,308.3 317.5,309.0 316.0,307.6 C314.6,306.3 314.7,302.1 314.1,299.4 C313.5,296.6 313.7,293.1 312.4,291.1 C311.2,289.0 308.5,288.8 306.4,286.9 C304.2,285.0 301.3,282.5 299.4,279.7 C297.6,276.9 297.3,272.6 295.3,270.0 C293.3,267.5 286.9,266.4 287.6,264.5Z" fill="#fdcb66"/>
<path d="M405.9,258.2 C405.9,257.1 409.7,256.2 411.4,256.2 C413.1,256.2 416.1,257.1 416.1,258.2 C416.1,259.2 413.1,262.3 411.4,262.3 C409.7,262.3 405.9,259.2 405.9,258.2Z" fill="#fdcb66"/>
<path d="M311.3,348.6 C311.9,346.4 315.0,344.0 317.4,343.0 C319.8,342.1 322.4,341.8 325.7,343.0 C329.0,344.3 336.5,348.3 337.3,350.5 C338.2,352.7 333.2,354.5 330.7,356.0 C328.2,357.6 325.2,359.6 322.4,359.6 C319.6,359.6 315.9,357.9 314.1,356.0 C312.3,354.2 310.8,350.7 311.3,348.6Z" fill="#fdcb66"/>
<path d="M318.2,404.4 C318.7,402.7 322.2,400.7 324.3,400.3 C326.5,399.8 328.9,400.0 331.2,401.7 C333.5,403.3 335.4,407.6 338.2,410.0 C340.9,412.4 346.8,414.3 347.8,416.0 C348.9,417.8 346.8,419.6 344.5,420.5 C342.2,421.3 337.1,421.6 334.0,421.0 C331.0,420.4 328.3,418.6 326.3,416.9 C324.2,415.1 322.9,412.6 321.6,410.5 C320.2,408.4 317.8,406.1 318.2,404.4Z" fill="#fdcb66"/>
<path d="M386.0,331.2 C386.5,328.8 388.5,325.6 390.7,322.9 C392.9,320.1 395.5,316.6 399.0,314.6 C402.4,312.5 407.1,311.6 411.4,310.4 C415.8,309.3 421.6,309.5 425.3,307.6 C428.9,305.8 431.9,301.9 433.5,299.4 C435.2,296.8 433.8,294.1 434.9,292.4 C436.1,290.8 438.8,289.2 440.5,289.7 C442.1,290.1 444.0,292.7 444.6,295.2 C445.2,297.7 442.4,302.1 444.1,304.9 C445.7,307.6 452.8,310.0 454.3,311.8 C455.8,313.5 454.7,314.2 452.9,315.4 C451.1,316.5 446.5,317.0 443.2,318.7 C440.0,320.4 436.5,323.3 433.5,325.6 C430.6,327.9 428.0,330.0 425.3,332.5 C422.5,335.1 419.7,338.5 417.0,340.8 C414.2,343.1 411.7,345.1 408.7,346.4 C405.7,347.6 401.8,349.0 399.0,348.6 C396.2,348.1 393.9,345.6 392.1,343.6 C390.2,341.6 388.9,338.8 387.9,336.7 C386.9,334.6 385.5,333.5 386.0,331.2Z" fill="#fdcb66"/>
<path d="M433.5,342.2 C433.8,340.0 437.0,336.1 439.1,335.9 C441.2,335.6 443.7,338.7 446.0,340.8 C448.3,342.9 449.9,347.7 452.9,348.6 C455.9,349.4 460.6,346.5 464.0,345.8 C467.3,345.1 471.2,343.4 472.8,344.1 C474.4,344.9 473.7,348.1 473.6,350.5 C473.5,352.9 473.6,356.5 472.3,358.8 C470.9,361.1 467.9,362.8 465.3,364.3 C462.8,365.9 459.5,368.2 457.1,367.9 C454.6,367.6 452.3,364.7 450.7,362.4 C449.1,360.1 449.5,356.3 447.4,354.1 C445.2,351.9 440.0,351.1 437.7,349.1 C435.4,347.1 433.3,344.4 433.5,342.2Z" fill="#fdcb66"/>
<path d="M441.3,409.4 C441.5,408.5 447.3,407.7 450.1,407.7 C453.0,407.7 457.3,408.3 458.4,409.4 C459.6,410.5 458.7,413.5 457.1,414.1 C455.4,414.7 451.4,414.1 448.8,413.3 C446.1,412.5 441.1,410.3 441.3,409.4Z" fill="#fdcb66"/>
<path d="M364.4,323.7 C364.6,323.1 367.4,321.9 368.6,322.0 C369.7,322.1 371.5,323.6 371.3,324.2 C371.2,324.8 368.9,325.7 367.7,325.6 C366.6,325.5 364.3,324.3 364.4,323.7Z" fill="#fdcb66"/>
<path d="M436.9,189.9 C437.6,187.3 439.2,183.4 441.8,180.2 C444.5,177.0 448.3,173.5 452.9,170.5 C457.5,167.5 464.0,164.3 469.5,162.2 C475.0,160.1 481.5,158.2 486.1,158.1 C490.7,157.9 495.3,159.8 497.1,161.4 C499.0,163.0 498.5,165.5 497.1,167.7 C495.8,170.0 492.5,172.8 488.8,174.7 C485.2,176.5 479.2,177.4 475.0,178.8 C470.9,180.2 466.5,180.6 464.0,182.9 C461.4,185.3 461.4,189.4 459.8,192.6 C458.2,195.9 455.3,199.1 454.3,202.3 C453.2,205.5 454.1,210.4 453.5,212.0 C452.9,213.6 451.2,213.4 450.7,212.0 C450.1,210.6 451.4,205.8 450.1,203.7 C448.9,201.6 445.3,200.9 443.2,199.5 C441.2,198.2 438.8,197.0 437.7,195.4 C436.6,193.8 436.2,192.4 436.9,189.9Z" fill="#ecf6ea"/>
<path d="M502.7,162.2 C502.9,159.9 506.8,157.8 509.6,156.7 C512.4,155.5 515.8,154.8 519.3,155.3 C522.7,155.8 527.6,157.6 530.3,159.4 C533.1,161.3 535.9,164.1 535.9,166.4 C535.9,168.7 533.1,171.9 530.3,173.3 C527.6,174.7 522.9,175.1 519.3,174.7 C515.6,174.2 511.0,172.6 508.2,170.5 C505.4,168.4 502.4,164.5 502.7,162.2Z" fill="#ecf6ea"/>
<path d="M512.4,194.0 C512.9,191.7 515.1,189.6 516.5,189.9 C517.9,190.1 520.1,192.9 520.6,195.4 C521.2,197.9 520.5,202.8 519.8,205.1 C519.1,207.4 517.6,209.4 516.5,209.2 C515.4,209.0 513.9,206.2 513.2,203.7 C512.5,201.2 511.8,196.3 512.4,194.0Z" fill="#ecf6ea"/>
<path d="M512.4,221.7 C512.1,219.8 515.8,216.7 517.9,216.7 C520.0,216.7 524.6,219.8 524.8,221.7 C525.0,223.5 521.3,227.7 519.3,227.7 C517.2,227.7 512.6,223.5 512.4,221.7Z" fill="#ecf6ea"/>
<path d="M481.1,245.2 C481.7,243.7 484.4,240.5 486.1,240.5 C487.7,240.5 490.8,243.5 491.1,245.2 C491.3,246.9 488.8,250.0 487.5,250.7 C486.1,251.4 483.8,250.2 482.8,249.3 C481.7,248.4 480.6,246.6 481.1,245.2Z" fill="#ecf6ea"/>
<path d="M520.6,245.2 C521.3,243.5 524.3,240.9 527.6,239.6 C530.8,238.4 537.2,237.0 540.0,237.7 C542.8,238.4 544.1,241.8 544.1,243.8 C544.1,245.7 542.3,248.2 540.0,249.3 C537.7,250.5 533.1,250.7 530.3,250.7 C527.6,250.7 525.0,250.2 523.4,249.3 C521.8,248.4 520.0,246.8 520.6,245.2Z" fill="#ecf6ea"/>
<path d="M418.3,132.6 C418.3,131.7 421.1,129.9 422.5,129.9 C423.9,129.9 426.9,131.7 426.9,132.6 C426.9,133.5 423.9,135.4 422.5,135.4 C421.1,135.4 418.3,133.5 418.3,132.6Z" fill="#ecf6ea"/>
<path d="M521.6,245.0 C522.5,243.6 526.9,241.3 530.4,240.0 C534.0,238.8 538.8,238.8 542.9,237.5 C547.1,236.3 552.1,233.8 555.5,232.5 C558.8,231.3 557.6,230.4 563.0,230.0 C568.4,229.6 584.3,228.3 588.1,230.0 C591.8,231.7 584.9,236.7 585.6,240.0 C586.2,243.4 591.0,246.7 591.8,250.1 C592.7,253.4 592.9,257.6 590.6,260.1 C588.3,262.6 582.0,263.4 578.0,265.1 C574.1,266.8 568.9,267.2 566.8,270.1 C564.7,273.0 567.4,280.3 565.5,282.6 C563.6,284.9 558.4,284.5 555.5,283.9 C552.6,283.3 548.4,280.8 548.0,278.9 C547.5,277.0 551.3,274.9 553.0,272.6 C554.6,270.3 557.6,268.0 558.0,265.1 C558.4,262.2 557.2,257.6 555.5,255.1 C553.8,252.6 551.3,250.9 548.0,250.1 C544.6,249.2 539.2,250.3 535.4,250.1 C531.7,249.8 527.7,249.6 525.4,248.8 C523.1,248.0 520.8,246.5 521.6,245.0Z" fill="#ecf6ea"/>
<path d="M537.9,302.7 C539.8,300.6 548.4,300.7 553.0,300.2 C557.6,299.7 561.8,299.1 565.5,299.7 C569.3,300.3 573.2,302.0 575.5,304.0 C577.8,305.9 579.7,308.8 579.3,311.5 C578.9,314.2 575.3,317.7 573.0,320.2 C570.7,322.8 568.4,325.5 565.5,326.5 C562.6,327.6 558.8,326.7 555.5,326.5 C552.1,326.3 547.8,327.6 545.5,325.3 C543.2,323.0 542.9,316.5 541.7,312.7 C540.4,309.0 536.1,304.8 537.9,302.7Z" fill="#ecf6ea"/>
<path d="M481.5,243.8 C481.5,242.1 485.0,239.8 486.5,240.0 C488.1,240.2 490.8,243.4 490.8,245.0 C490.8,246.7 488.1,250.3 486.5,250.1 C485.0,249.8 481.5,245.5 481.5,243.8Z" fill="#ecf6ea"/>
<path d="M196.5,234.1 C196.9,232.0 202.8,228.6 205.3,226.6 C207.8,224.6 209.1,223.0 211.6,222.3 C214.1,221.6 217.2,223.2 220.3,222.3 C223.5,221.5 227.4,218.5 230.4,217.3 C233.3,216.2 236.5,214.4 237.9,215.3 C239.2,216.2 239.6,220.7 238.4,222.8 C237.1,224.9 233.4,226.6 230.4,227.9 C227.4,229.1 223.7,228.9 220.3,230.4 C217.0,231.8 213.2,235.2 210.3,236.6 C207.4,238.1 205.1,239.6 202.8,239.1 C200.5,238.7 196.1,236.2 196.5,234.1Z" fill="#ecf6ea"/>
<path d="M214.1,222.8 C214.5,221.8 218.9,221.4 220.3,221.8 C221.8,222.3 223.3,224.3 222.8,225.3 C222.4,226.3 219.3,228.3 217.8,227.9 C216.4,227.4 213.6,223.8 214.1,222.8Z" fill="#ccffcc"/>
<path d="M145.1,280.6 C144.9,279.7 149.3,278.2 151.4,278.1 C153.5,277.9 157.5,278.7 157.7,279.6 C157.9,280.4 154.7,282.9 152.6,283.1 C150.6,283.3 145.3,281.4 145.1,280.6Z" fill="#ecf6ea"/>
<path d="M115.0,316.4 C117.5,314.6 125.9,315.0 130.1,312.7 C134.3,310.4 137.2,304.9 140.1,302.6 C143.0,300.3 145.3,299.5 147.6,298.9 C149.9,298.3 152.9,297.8 153.9,298.9 C154.9,299.9 155.4,303.3 153.9,305.2 C152.4,307.0 148.3,308.3 145.1,310.2 C142.0,312.0 138.4,314.6 135.1,316.4 C131.8,318.3 128.4,320.2 125.1,321.4 C121.7,322.7 116.7,324.8 115.0,324.0 C113.4,323.1 112.5,318.3 115.0,316.4Z" fill="#ecf6ea"/>
<path d="M120.1,334.0 C121.7,330.8 132.2,334.6 135.1,336.5 C138.0,338.4 136.8,341.3 137.6,345.3 C138.4,349.2 139.5,355.7 140.1,360.3 C140.7,364.9 140.9,369.1 141.4,372.8 C141.8,376.6 143.2,380.8 142.6,382.9 C142.0,385.0 140.5,390.0 137.6,385.4 C134.7,380.8 128.0,363.9 125.1,355.3 C122.1,346.7 118.4,337.1 120.1,334.0Z" fill="#ecf6ea"/>
<path d="M172.7,366.6 C173.3,364.1 176.5,364.4 177.7,365.8 C179.0,367.3 178.5,372.5 180.2,375.3 C181.9,378.2 185.0,380.6 187.7,382.9 C190.5,385.2 194.6,386.8 196.5,389.1 C198.4,391.4 199.6,394.8 199.0,396.7 C198.4,398.5 195.5,400.6 192.8,400.4 C190.0,400.2 185.7,395.8 182.7,395.4 C179.8,395.0 175.2,396.4 175.2,397.9 C175.2,399.4 180.8,402.1 182.7,404.2 C184.6,406.3 183.6,409.8 186.5,410.4 C189.4,411.1 196.5,409.2 200.3,407.9 C204.0,406.7 205.7,403.1 209.1,402.9 C212.4,402.7 216.8,405.0 220.3,406.7 C223.9,408.4 227.0,411.1 230.4,412.9 C233.7,414.8 237.7,416.3 240.4,418.0 C243.1,419.6 245.5,421.6 246.7,423.0 C247.8,424.4 248.5,424.3 247.4,426.3 C246.4,428.3 243.2,432.4 240.4,435.1 C237.5,437.8 233.7,440.1 230.4,442.6 C227.0,445.1 223.7,448.3 220.3,450.1 C217.0,452.0 213.6,453.3 210.3,453.9 C207.0,454.5 203.6,452.6 200.3,453.9 C196.9,455.2 192.8,460.6 190.2,461.4 C187.7,462.3 186.3,461.2 185.2,458.9 C184.2,456.6 183.1,451.2 184.0,447.6 C184.8,444.1 187.5,440.7 190.2,437.6 C193.0,434.5 199.4,430.7 200.3,428.8 C201.1,426.9 197.8,427.2 195.3,426.3 C192.8,425.5 188.2,422.8 185.2,423.8 C182.3,424.9 179.8,430.1 177.7,432.6 C175.6,435.1 174.8,437.2 172.7,438.9 C170.6,440.5 169.8,444.9 165.2,442.6 C160.6,440.3 149.7,433.8 145.1,425.1 C140.5,416.4 136.4,394.5 137.6,390.4 C138.9,386.3 148.5,399.4 152.6,400.4 C156.8,401.5 159.7,397.9 162.7,396.7 C165.6,395.4 168.3,395.6 170.2,392.9 C172.1,390.2 173.5,384.7 174.0,380.4 C174.4,376.0 172.1,369.0 172.7,366.6Z" fill="#ecf6ea"/>
<path d="M182.7,425.5 C184.8,423.6 189.8,423.6 192.8,424.2 C195.7,424.9 199.2,427.4 200.3,429.2 C201.3,431.1 202.4,434.5 199.0,435.5 C195.7,436.6 182.9,437.2 180.2,435.5 C177.5,433.8 180.6,427.4 182.7,425.5Z" fill="#ffffff"/>
<path d="M175.2,460.2 C177.9,455.2 181.5,463.8 184.0,465.7 C186.5,467.6 188.2,470.7 190.2,471.4 C192.3,472.2 194.2,470.6 196.5,470.2 C198.8,469.8 201.7,468.5 204.0,468.9 C206.3,469.4 208.4,470.4 210.3,472.7 C212.2,475.0 213.6,479.6 215.3,482.7 C217.0,485.9 218.2,489.6 220.3,491.5 C222.4,493.4 225.1,494.0 227.9,494.0 C230.6,494.0 234.1,493.2 236.6,491.5 C239.1,489.8 241.0,486.1 242.9,484.0 C244.8,481.9 246.0,480.0 247.9,479.0 C249.8,477.9 252.6,477.1 254.2,477.7 C255.8,478.3 256.4,479.4 257.4,482.7 C258.5,486.1 261.6,493.2 260.4,497.8 C259.3,502.4 255.4,505.7 250.4,510.3 C245.4,514.9 238.7,522.0 230.4,525.3 C222.0,528.7 210.3,531.6 200.3,530.4 C190.2,529.1 175.6,523.7 170.2,517.8 C164.8,512.0 166.9,504.9 167.7,495.3 C168.5,485.7 172.5,465.1 175.2,460.2Z" fill="#ecf6ea"/>
<path d="M187.7,472.7 C187.6,470.0 189.8,472.3 190.8,475.2 C191.7,478.1 192.3,484.8 193.3,490.2 C194.2,495.7 196.3,504.8 196.5,507.8 C196.8,510.8 195.6,511.0 194.8,508.3 C193.9,505.6 192.7,497.4 191.5,491.5 C190.3,485.6 187.9,475.4 187.7,472.7Z" fill="#ffffff"/>
<path d="M220.3,504.8 C220.5,503.5 222.8,502.3 225.3,501.5 C227.9,500.8 232.4,500.2 235.4,500.3 C238.3,500.4 241.8,501.2 242.9,502.3 C243.9,503.3 243.3,505.4 241.6,506.5 C240.0,507.7 235.8,508.8 232.9,509.3 C229.9,509.8 226.2,510.1 224.1,509.3 C222.0,508.5 220.1,506.1 220.3,504.8Z" fill="#ccffcc"/>
<polygon points="205.3,490.2 209.1,494.0 205.8,496.5" fill="#ccffcc"/>
<path d="M200.3,522.8 C200.7,521.9 205.2,521.4 207.8,521.1 C210.4,520.7 214.1,520.1 215.8,520.8 C217.5,521.5 219.6,524.4 217.8,525.3 C216.1,526.3 208.2,527.0 205.3,526.6 C202.4,526.2 199.9,523.8 200.3,522.8Z" fill="#ccffcc"/>
<path d="M227.9,470.2 C227.9,469.1 231.4,467.1 232.9,467.2 C234.3,467.3 236.7,469.6 236.6,470.7 C236.5,471.8 233.8,474.0 232.4,474.0 C230.9,473.9 227.8,471.3 227.9,470.2Z" fill="#ecf6ea"/>
<path d="M565.0,452.6 C566.5,450.8 569.6,448.7 572.6,448.9 C575.5,449.1 579.2,453.7 582.6,453.9 C585.9,454.1 589.1,451.4 592.6,450.1 C596.2,448.9 599.9,446.8 603.9,446.4 C607.9,446.0 614.3,438.6 616.4,447.6 C618.5,456.6 618.3,491.9 616.4,500.3 C614.5,508.6 608.3,498.0 605.1,497.8 C602.0,497.6 600.1,499.2 597.6,499.0 C595.1,498.8 593.0,498.0 590.1,496.5 C587.2,495.1 583.0,492.5 580.1,490.2 C577.1,488.0 574.2,485.7 572.6,482.7 C570.9,479.8 571.5,476.5 570.0,472.7 C568.6,468.9 564.6,463.5 563.8,460.2 C562.9,456.8 563.6,454.5 565.0,452.6Z" fill="#ecf6ea" stroke="none"/>
<path d="M557.5,397.5 C551.7,398.5 559.2,402.3 562.5,403.8 C565.9,405.2 572.6,406.1 577.6,406.3 C582.6,406.5 589.3,406.5 592.6,405.0 C596.0,403.6 603.5,398.7 597.6,397.5 C591.8,396.2 563.4,396.4 557.5,397.5Z" fill="#ecf6ea"/>
<path d="M602.6,398.7 C604.5,396.0 612.2,393.5 613.9,398.7 C615.6,404.0 613.5,425.3 612.7,430.1 C611.8,434.9 609.9,428.4 608.9,427.6 C607.9,426.7 607.4,427.2 606.4,425.1 C605.4,423.0 603.3,419.4 602.6,415.0 C602.0,410.7 600.8,401.5 602.6,398.7Z" fill="#ecf6ea" stroke="none"/>
<path d="M570.0,510.3 C571.3,507.9 577.6,507.9 580.1,508.3 C582.6,508.7 584.0,511.0 585.1,512.8 C586.1,514.6 584.3,518.2 586.3,519.1 C588.4,519.9 594.7,518.7 597.6,517.8 C600.5,517.0 600.8,514.9 603.9,514.1 C607.0,513.2 614.3,500.9 616.4,512.8 C618.5,524.7 618.9,574.2 616.4,585.5 C613.9,596.8 605.1,583.0 601.4,580.5 C597.6,578.0 596.8,575.5 593.9,570.5 C590.9,565.5 585.9,556.9 583.8,550.4 C581.7,543.9 583.2,536.2 581.3,531.6 C579.4,527.0 574.4,526.4 572.6,522.8 C570.7,519.3 568.8,512.7 570.0,510.3Z" fill="#ecf6ea" stroke="none"/>
<path d="M513.6,488.2 C514.1,487.5 518.2,487.3 519.9,487.7 C521.6,488.2 524.1,490.0 523.7,490.8 C523.3,491.5 519.1,492.7 517.4,492.3 C515.7,491.8 513.2,489.0 513.6,488.2Z" fill="#ecf6ea"/>
<path d="M526.2,435.1 C526.8,433.6 529.1,433.0 529.9,433.8 C530.8,434.7 531.4,438.0 531.2,440.1 C531.0,442.2 529.5,446.0 528.7,446.4 C527.8,446.8 526.6,444.5 526.2,442.6 C525.8,440.7 525.5,436.6 526.2,435.1Z" fill="#ecf6ea"/>
<path d="M589.6,433.1 C590.0,432.0 593.3,432.0 595.1,432.1 C597.0,432.2 599.9,432.7 600.6,433.8 C601.4,435.0 601.0,438.0 599.6,438.9 C598.3,439.7 594.3,439.8 592.6,438.9 C590.9,437.9 589.2,434.2 589.6,433.1Z" fill="#ffffff"/>
<path d="M606.4,498.3 C607.2,497.1 610.3,496.5 611.4,497.3 C612.5,498.0 613.4,501.2 613.2,502.8 C613.0,504.3 611.3,506.3 610.2,506.5 C609.0,506.8 607.0,505.4 606.4,504.0 C605.8,502.7 605.6,499.4 606.4,498.3Z" fill="#ffffff"/>
<path d="M238.6,419.6 C239.5,417.6 242.9,419.9 244.1,421.0 C245.4,422.2 246.3,424.7 246.1,426.5 C245.9,428.4 244.0,430.9 242.8,432.1 C241.5,433.2 239.3,435.5 238.6,433.5 C237.9,431.4 237.7,421.7 238.6,419.6Z" fill="#ecf6ea"/>
<path d="M526.2,437.6 C526.5,435.8 529.1,434.1 529.8,434.8 C530.5,435.5 530.7,439.9 530.3,441.8 C530.0,443.6 528.2,446.6 527.6,445.9 C526.9,445.2 525.8,439.4 526.2,437.6Z" fill="#ecf6ea"/>
<path d="M654.3,641.3 C655.5,639.3 657.0,644.3 659.1,645.5 C661.2,646.6 664.3,646.8 666.7,648.2 C669.1,649.6 671.7,651.7 673.6,653.7 C675.4,655.8 676.7,658.1 677.7,660.6 C678.7,663.1 679.4,666.6 679.8,668.9 C680.1,671.2 679.3,672.5 679.8,674.4 C680.2,676.2 681.5,678.1 682.5,679.9 C683.6,681.7 685.0,683.1 686.0,685.4 C686.9,687.7 690.8,692.1 688.0,693.7 C685.3,695.3 675.5,701.0 669.4,695.0 C663.4,689.1 654.1,666.8 651.5,657.9 C649.0,648.9 653.0,643.4 654.3,641.3Z" fill="#efebe6"/>
<path d="M654.3,646.8 C655.7,645.1 659.1,648.0 661.2,648.9 C663.2,649.8 665.0,650.8 666.7,652.3 C668.4,653.8 670.1,655.8 671.5,657.9 C672.9,659.9 674.1,662.4 674.9,664.7 C675.7,667.0 676.1,669.3 676.3,671.6 C676.6,673.9 675.9,676.4 676.3,678.5 C676.8,680.6 677.8,681.7 679.1,684.0 C680.3,686.3 685.5,690.4 683.9,692.3 C682.3,694.1 674.6,700.6 669.4,695.0 C664.3,689.5 655.4,667.3 652.9,659.2 C650.4,651.2 652.9,648.6 654.3,646.8Z" fill="#fdcb66"/>
<path d="M654.3,649.6 C655.3,648.1 658.8,650.7 660.5,651.7 C662.2,652.6 663.4,653.6 664.6,655.1 C665.9,656.6 667.0,658.8 668.1,660.6 C669.1,662.4 670.3,664.0 671.1,666.1 C671.9,668.2 672.5,670.7 672.9,673.0 C673.3,675.3 673.2,676.9 673.6,679.9 C673.9,682.9 675.9,688.6 674.9,690.9 C674.0,693.2 671.5,698.7 668.1,693.7 C664.6,688.6 656.6,668.0 654.3,660.6 C652.0,653.3 653.3,651.1 654.3,649.6Z" fill="#df9447"/>
<path d="M655.7,659.2 C656.5,658.6 660.4,661.6 661.9,662.3 C663.4,662.9 663.7,662.3 664.6,663.4 C665.5,664.5 666.6,667.0 667.4,668.9 C668.2,670.7 668.9,672.4 669.4,674.4 C670.0,676.3 670.4,678.7 670.5,680.6 C670.7,682.4 671.1,685.1 670.1,685.4 C669.1,685.7 666.8,685.9 664.6,682.6 C662.4,679.4 658.5,670.0 657.0,666.1 C655.5,662.2 654.9,659.9 655.7,659.2Z" fill="#c96331"/>
<path d="M678.4,651.0 C678.6,649.2 679.2,647.4 680.5,646.1 C681.7,644.9 683.9,644.0 686.0,643.4 C688.0,642.8 690.8,642.5 692.9,642.7 C694.9,642.9 696.8,643.8 698.4,644.8 C700.0,645.7 700.9,647.3 702.5,648.2 C704.1,649.1 705.9,649.6 708.0,650.3 C710.1,651.0 714.0,650.8 714.9,652.3 C715.8,653.8 714.9,657.2 713.5,659.2 C712.1,661.3 708.2,662.7 706.6,664.7 C705.0,666.8 705.0,669.9 703.9,671.6 C702.7,673.3 701.3,674.5 699.7,675.1 C698.1,675.6 695.8,675.2 694.2,675.1 C692.6,675.0 691.2,675.0 690.1,674.4 C688.9,673.8 688.1,672.8 687.3,671.6 C686.5,670.5 686.1,669.1 685.3,667.5 C684.5,665.9 683.6,663.8 682.5,662.0 C681.5,660.1 679.8,658.3 679.1,656.5 C678.4,654.6 678.2,652.7 678.4,651.0Z" fill="#ecf6ea"/>
<path d="M684.6,655.1 C684.8,653.1 685.5,651.4 686.7,650.3 C687.8,649.1 689.8,648.3 691.5,648.2 C693.2,648.1 695.5,648.7 697.0,649.6 C698.5,650.5 699.0,652.7 700.4,653.7 C701.8,654.8 703.1,655.2 705.2,655.8 C707.4,656.4 712.8,655.7 713.5,657.2 C714.2,658.7 711.0,662.6 709.4,664.7 C707.8,666.9 705.5,668.9 703.9,670.2 C702.3,671.6 701.3,672.4 699.7,673.0 C698.1,673.6 695.8,673.9 694.2,673.7 C692.6,673.5 691.2,672.7 690.1,671.6 C688.9,670.6 688.1,669.1 687.3,667.5 C686.5,665.9 685.7,664.0 685.3,662.0 C684.8,659.9 684.4,657.0 684.6,655.1Z" fill="#ccffcc"/>
<path d="M689.0,657.9 C689.3,657.0 690.4,657.2 691.5,657.2 C692.6,657.2 694.8,657.0 695.6,657.9 C696.4,658.7 696.0,660.4 696.3,662.0 C696.6,663.6 697.8,666.1 697.7,667.5 C697.6,668.9 696.6,669.8 695.6,670.2 C694.6,670.7 692.4,670.9 691.5,670.2 C690.6,669.6 690.4,667.5 690.1,666.1 C689.8,664.7 689.6,663.4 689.4,662.0 C689.2,660.6 688.7,658.7 689.0,657.9Z" fill="#9cd0b9"/>
<path d="M584.7,295.3 C585.3,289.8 590.2,281.3 593.0,275.5 C595.7,269.7 596.8,264.9 601.2,260.6 C605.6,256.3 612.5,251.6 619.4,249.7 C626.3,247.9 636.2,248.2 642.5,249.7 C648.8,251.3 654.6,254.1 657.3,259.0 C660.1,263.8 660.4,272.7 659.0,278.8 C657.6,284.8 652.4,293.9 649.1,295.3 C645.8,296.7 642.2,287.9 639.2,287.0 C636.2,286.2 631.8,288.1 630.9,290.3 C630.1,292.5 631.8,297.2 634.2,300.2 C636.7,303.3 643.0,305.5 645.8,308.5 C648.5,311.5 651.0,315.1 650.7,318.4 C650.5,321.7 646.1,324.4 644.1,328.3 C642.2,332.1 640.8,337.1 639.2,341.5 C637.5,345.9 636.7,350.5 634.2,354.7 C631.8,358.8 627.6,364.8 624.3,366.2 C621.0,367.6 616.9,365.4 614.4,362.9 C612.0,360.4 610.9,356.0 609.5,351.4 C608.1,346.7 606.2,339.3 606.2,334.9 C606.2,330.5 610.6,328.3 609.5,325.0 C608.4,321.7 602.9,317.8 599.6,315.1 C596.3,312.3 592.2,311.8 589.7,308.5 C587.2,305.2 584.2,300.8 584.7,295.3Z" fill="none" stroke="#a9a199" stroke-opacity="0.5" stroke-width="0.6" stroke-dasharray="1.6 0.9"/>
<path d="M566.6,166.6 C568.8,168.8 575.4,175.7 579.8,179.8 C584.2,183.9 588.6,190.2 593.0,191.3 C597.4,192.4 603.2,189.4 606.2,186.4 C609.2,183.4 610.6,177.0 611.1,173.2 C611.7,169.3 609.8,164.9 609.5,163.3" fill="none" stroke="#a9a199" stroke-opacity="0.5" stroke-width="0.6" stroke-dasharray="1.6 0.9"/>
<path d="M181.5,250.0 C181.3,252.5 181.7,260.0 180.2,265.0 C178.8,270.1 173.7,275.5 172.7,280.1 C171.7,284.7 172.7,291.2 174.0,292.6 C175.2,294.1 180.0,289.7 180.2,288.9 C180.4,288.0 178.1,287.2 175.2,287.6 C172.3,288.0 165.0,289.3 162.7,291.4 C160.4,293.5 161.8,293.7 161.4,300.1 C161.0,306.6 157.9,321.4 160.2,330.2 C162.5,339.0 171.4,351.1 175.2,352.8 C179.0,354.5 178.5,341.9 182.7,340.2 C186.9,338.6 194.0,341.5 200.3,342.8 C206.5,344.0 213.6,346.1 220.3,347.8 C227.0,349.4 234.5,352.6 240.4,352.8 C246.2,353.0 253.8,351.9 255.4,349.0 C257.1,346.1 252.9,339.2 250.4,335.2 C247.9,331.3 240.4,328.1 240.4,325.2 C240.4,322.3 247.5,320.2 250.4,317.7 C253.3,315.2 259.2,312.5 257.9,310.2 C256.7,307.9 244.1,306.8 242.9,303.9 C241.6,301.0 248.3,296.2 250.4,292.6 C252.5,289.1 256.3,285.5 255.4,282.6 C254.6,279.7 248.7,277.6 245.4,275.1 C242.1,272.6 237.7,270.9 235.4,267.5 C233.1,264.2 232.0,257.9 231.6,255.0 C231.2,252.1 232.7,250.8 232.9,250.0" fill="none" stroke="#a9a199" stroke-opacity="0.5" stroke-width="0.6" stroke-dasharray="1.6 0.9"/>
<path d="M273.0,250.0 C271.7,252.9 264.8,263.0 265.5,267.5 C266.1,272.1 275.5,273.4 276.7,277.6 C278.0,281.8 273.2,287.6 273.0,292.6 C272.8,297.6 272.6,303.1 275.5,307.7 C278.4,312.3 290.5,317.7 290.5,320.2 C290.5,322.7 278.8,321.0 275.5,322.7 C272.1,324.4 269.6,326.9 270.5,330.2 C271.3,333.6 279.0,337.7 280.5,342.8 C282.0,347.8 279.9,354.9 279.2,360.3 C278.6,365.7 276.7,370.3 276.7,375.3 C276.7,380.4 278.6,385.4 279.2,390.4 C279.9,395.4 278.6,402.1 280.5,405.4 C282.4,408.8 285.9,407.5 290.5,410.4 C295.1,413.4 306.4,420.5 308.1,423.0 C309.7,425.5 303.5,427.2 300.6,425.5 C297.6,423.8 293.5,415.0 290.5,412.9 C287.6,410.9 285.1,410.9 283.0,412.9 C280.9,415.0 278.6,422.3 278.0,425.5 C277.4,428.7 279.0,430.9 279.2,432.0" fill="none" stroke="#a9a199" stroke-opacity="0.5" stroke-width="0.6" stroke-dasharray="1.6 0.9"/>
<path d="M200.3,372.8 C201.1,371.1 204.2,367.8 207.8,367.3 C211.3,366.8 217.8,370.1 221.6,369.8 C225.3,369.6 226.6,366.2 230.4,365.8 C234.1,365.5 241.7,365.8 244.1,367.8 C246.6,369.8 246.4,375.6 244.9,377.9 C243.4,380.2 239.1,382.1 235.4,381.6 C231.7,381.1 227.0,374.8 222.8,374.8 C218.7,374.8 213.6,381.1 210.3,381.6 C207.0,382.1 204.5,379.3 202.8,377.9 C201.1,376.4 199.4,374.6 200.3,372.8Z" fill="none" stroke="#a9a199" stroke-opacity="0.5" stroke-width="0.6" stroke-dasharray="1.6 0.9"/>
<path d="M371.3,375.4 C371.8,372.5 373.9,371.2 375.5,370.7 C377.1,370.2 380.0,370.7 381.0,372.6 C382.0,374.6 382.0,379.3 381.6,382.3 C381.1,385.3 379.7,389.7 378.2,390.6 C376.8,391.5 373.9,390.4 372.7,387.8 C371.6,385.3 370.9,378.2 371.3,375.4Z" fill="none" stroke="#a9a199" stroke-opacity="0.5" stroke-width="0.6" stroke-dasharray="1.6 0.9"/>
<path d="M358.9,367.1 C358.7,364.8 365.1,359.4 368.6,359.6 C372.0,359.9 379.4,366.2 379.6,368.5 C379.9,370.8 373.4,373.7 370.0,373.5 C366.5,373.2 359.1,369.4 358.9,367.1Z" fill="none" stroke="#a9a199" stroke-opacity="0.5" stroke-width="0.6" stroke-dasharray="1.6 0.9"/>
<path d="M376.9,403.0 C376.6,401.2 382.5,397.7 385.2,397.5 C387.8,397.3 392.4,399.8 392.6,401.7 C392.9,403.5 389.2,408.3 386.5,408.6 C383.9,408.8 377.1,404.9 376.9,403.0Z" fill="none" stroke="#a9a199" stroke-opacity="0.5" stroke-width="0.6" stroke-dasharray="1.6 0.9"/>
<path d="M371.3,195.4 C371.8,192.5 373.9,191.2 375.5,190.7 C377.1,190.2 380.0,190.7 381.0,192.6 C382.0,194.6 382.0,199.3 381.6,202.3 C381.1,205.3 379.7,209.7 378.2,210.6 C376.8,211.5 373.9,210.4 372.7,207.8 C371.6,205.3 370.9,198.2 371.3,195.4Z" fill="none" stroke="#a9a199" stroke-opacity="0.5" stroke-width="0.6" stroke-dasharray="1.6 0.9"/>
<path d="M386.5,232.7 C386.5,231.1 390.0,229.5 391.5,230.0 C393.0,230.4 395.4,233.9 395.4,235.5 C395.4,237.1 393.0,240.1 391.5,239.6 C390.0,239.2 386.5,234.3 386.5,232.7Z" fill="none" stroke="#a9a199" stroke-opacity="0.5" stroke-width="0.6" stroke-dasharray="1.6 0.9"/>
<path d="M373.3,257.6 C373.7,255.6 377.5,253.5 379.6,253.5 C381.8,253.5 385.3,255.8 386.0,257.6 C386.7,259.4 385.3,263.2 383.8,264.5 C382.3,265.8 378.6,266.5 376.9,265.3 C375.1,264.2 372.8,259.6 373.3,257.6Z" fill="none" stroke="#a9a199" stroke-opacity="0.5" stroke-width="0.6" stroke-dasharray="1.6 0.9"/>
<path d="M401.8,144.2 C403.1,142.9 407.5,141.7 411.4,141.5 C415.3,141.2 421.6,141.9 425.3,142.9 C428.9,143.8 433.5,145.4 433.5,147.0 C433.5,148.6 428.9,151.4 425.3,152.5 C421.6,153.7 415.1,154.4 411.4,153.9 C407.7,153.5 404.7,151.4 403.1,149.8 C401.5,148.2 400.4,145.6 401.8,144.2Z" fill="none" stroke="#a9a199" stroke-opacity="0.5" stroke-width="0.6" stroke-dasharray="1.6 0.9"/>
<path d="M381.0,166.4 C381.9,164.5 386.1,159.0 386.5,155.3 C387.0,151.6 382.4,147.0 383.8,144.2 C385.2,141.5 390.2,140.1 394.8,138.7 C399.4,137.3 405.0,136.9 411.4,135.9 C417.9,135.0 428.0,134.6 433.5,133.2 C439.1,131.8 441.8,126.7 444.6,127.6 C447.4,128.6 449.9,134.6 450.1,138.7 C450.4,142.9 444.1,149.1 446.0,152.5 C447.8,156.0 456.8,159.4 461.2,159.4 C465.6,159.4 470.9,155.1 472.3,152.5 C473.6,150.0 468.1,147.5 469.5,144.2 C470.9,141.0 478.0,135.7 480.6,133.2 C483.1,130.6 482.9,128.6 484.7,129.0 C486.5,129.5 488.2,133.9 491.6,135.9 C495.1,138.0 500.4,140.6 505.4,141.5 C510.5,142.4 516.3,141.0 522.0,141.5 C527.8,141.9 537.0,143.8 540.0,144.2" fill="none" stroke="#a9a199" stroke-opacity="0.5" stroke-width="0.6" stroke-dasharray="1.6 0.9"/>
<path d="M405.9,191.2 C407.7,192.2 414.2,194.0 417.0,196.8 C419.7,199.5 418.8,204.6 422.5,207.8 C426.2,211.1 433.5,213.8 439.1,216.1 C444.6,218.4 451.1,218.9 455.7,221.7 C460.3,224.4 465.3,228.1 466.7,232.7 C468.1,237.3 464.0,244.7 464.0,249.3 C464.0,253.9 463.5,258.1 466.7,260.4 C470.0,262.7 477.8,263.6 483.3,263.1 C488.8,262.7 494.4,259.0 499.9,257.6 C505.4,256.2 511.0,253.9 516.5,254.8 C522.0,255.8 529.2,261.3 533.1,263.1 C537.0,265.0 538.8,265.4 540.0,265.9" fill="none" stroke="#a9a199" stroke-opacity="0.5" stroke-width="0.6" stroke-dasharray="1.6 0.9"/>
<path d="M479.2,191.2 C479.2,190.4 482.9,188.9 484.7,189.0 C486.5,189.1 490.2,191.0 490.2,191.8 C490.2,192.6 486.5,194.1 484.7,194.0 C482.9,193.9 479.2,192.1 479.2,191.2Z" fill="none" stroke="#a9a199" stroke-opacity="0.5" stroke-width="0.6" stroke-dasharray="1.6 0.9"/>
<path d="M493.0,265.9 C493.7,265.0 496.5,263.1 498.5,263.1 C500.6,263.1 505.0,264.9 505.4,265.9 C505.9,266.9 503.1,268.8 501.3,269.2 C499.4,269.7 495.8,269.2 494.4,268.7 C493.0,268.1 492.3,266.8 493.0,265.9Z" fill="none" stroke="#a9a199" stroke-opacity="0.5" stroke-width="0.6" stroke-dasharray="1.6 0.9"/>
<path d="M479.2,277.0 C479.8,274.8 483.0,271.5 484.7,272.0 C486.4,272.4 489.2,277.1 489.4,279.7 C489.6,282.3 487.5,286.6 486.1,287.5 C484.7,288.3 482.3,286.5 481.1,284.7 C480.0,282.9 478.6,279.1 479.2,277.0Z" fill="none" stroke="#a9a199" stroke-opacity="0.5" stroke-width="0.6" stroke-dasharray="1.6 0.9"/>
<path d="M464.0,230.0 C464.6,231.3 467.7,234.6 467.7,237.5 C467.7,240.4 464.0,244.2 464.0,247.5 C464.0,250.9 465.0,255.3 467.7,257.6 C470.5,259.9 476.5,260.5 480.3,261.3 C484.0,262.2 487.4,263.6 490.3,262.6 C493.2,261.5 494.5,256.1 497.8,255.1 C501.2,254.0 506.2,255.1 510.4,256.3 C514.5,257.6 518.9,260.7 522.9,262.6 C526.9,264.5 533.3,265.7 534.2,267.6 C535.0,269.5 530.2,272.2 527.9,273.9 C525.6,275.5 523.3,276.0 520.4,277.6 C517.5,279.3 512.4,281.6 510.4,283.9 C508.3,286.2 507.0,288.3 507.9,291.4 C508.7,294.6 513.7,298.7 515.4,302.7 C517.0,306.7 516.4,311.9 517.9,315.2 C519.3,318.6 523.3,319.8 524.1,322.8 C525.0,325.7 521.8,329.9 522.9,332.8 C523.9,335.7 529.0,337.4 530.4,340.3 C531.9,343.2 533.3,348.0 531.7,350.3 C530.0,352.6 524.8,353.5 520.4,354.1 C516.0,354.7 510.4,353.9 505.3,354.1 C500.3,354.3 491.6,353.9 490.3,355.3 C489.1,356.8 495.3,360.4 497.8,362.9 C500.3,365.4 503.7,367.5 505.3,370.4 C507.0,373.3 506.2,377.5 507.9,380.4 C509.5,383.3 512.4,385.4 515.4,387.9 C518.3,390.4 521.2,392.5 525.4,395.5 C529.6,398.4 535.8,402.7 540.4,405.5 C545.0,408.2 550.9,410.9 553.0,412.0" fill="none" stroke="#a9a199" stroke-opacity="0.5" stroke-width="0.6" stroke-dasharray="1.6 0.9"/>
<path d="M479.0,278.9 C479.2,276.2 482.2,272.8 484.0,272.6 C485.8,272.4 489.2,275.5 489.8,277.6 C490.4,279.7 489.0,283.3 487.8,285.2 C486.6,287.0 484.2,290.0 482.8,288.9 C481.3,287.9 478.8,281.6 479.0,278.9Z" fill="none" stroke="#a9a199" stroke-opacity="0.5" stroke-width="0.6" stroke-dasharray="1.6 0.9"/>
<path d="M492.8,265.1 C493.6,264.1 497.0,262.9 499.1,263.1 C501.2,263.3 505.1,265.3 505.3,266.4 C505.6,267.4 502.2,269.2 500.3,269.6 C498.5,270.0 495.3,269.6 494.1,268.9 C492.8,268.1 492.0,266.1 492.8,265.1Z" fill="none" stroke="#a9a199" stroke-opacity="0.5" stroke-width="0.6" stroke-dasharray="1.6 0.9"/>
<path d="M588.1,287.7 C589.3,285.6 593.5,279.3 595.6,275.1 C597.7,270.9 598.1,265.9 600.6,262.6 C603.1,259.2 606.5,257.2 610.6,255.1 C614.8,253.0 620.7,250.5 625.7,250.1 C630.7,249.6 636.3,251.3 640.7,252.6 C645.1,253.8 650.1,256.7 652.0,257.6" fill="none" stroke="#a9a199" stroke-opacity="0.5" stroke-width="0.6" stroke-dasharray="1.6 0.9"/>
<path d="M583.1,310.2 C584.3,311.1 587.7,314.2 590.6,315.2 C593.5,316.3 598.1,314.8 600.6,316.5 C603.1,318.2 602.7,322.5 605.6,325.3 C608.5,328.0 615.6,329.0 618.2,332.8 C620.7,336.5 620.9,343.2 620.7,347.8 C620.5,352.4 616.1,357.2 616.9,360.4 C617.7,363.5 621.7,365.8 625.7,366.6 C629.6,367.5 636.3,366.4 640.7,365.4 C645.1,364.3 650.1,361.2 652.0,360.4" fill="none" stroke="#a9a199" stroke-opacity="0.5" stroke-width="0.6" stroke-dasharray="1.6 0.9"/>
<path d="M630.7,288.9 C631.9,288.5 635.7,285.8 638.2,286.4 C640.7,287.0 643.4,291.0 645.7,292.7 C648.0,294.3 651.0,295.8 652.0,296.4" fill="none" stroke="#a9a199" stroke-opacity="0.5" stroke-width="0.6" stroke-dasharray="1.6 0.9"/>
<path d="M477.3,452.6 C479.4,452.4 485.6,452.0 489.8,451.4 C494.0,450.8 498.6,450.1 502.4,448.9 C506.1,447.6 509.7,446.2 512.4,443.9 C515.1,441.6 517.0,438.4 518.7,435.1 C520.3,431.8 520.1,426.1 522.4,423.8 C524.7,421.5 528.9,421.7 532.4,421.3 C536.0,420.9 541.6,422.8 543.7,421.3 C545.8,419.8 545.6,415.3 545.0,412.5 C544.4,409.8 542.1,407.1 540.0,405.0 C537.9,402.9 533.7,400.8 532.4,400.0" fill="none" stroke="#a9a199" stroke-opacity="0.5" stroke-width="0.6" stroke-dasharray="1.6 0.9"/>
<path d="M216.6,461.4 C218.9,460.6 225.6,458.1 230.4,456.4 C235.2,454.7 240.8,452.0 245.4,451.4 C250.0,450.8 254.6,451.8 257.9,452.6 C261.3,453.5 262.5,456.4 265.5,456.4 C268.4,456.4 271.9,453.5 275.5,452.6 C279.0,451.8 283.0,450.6 286.8,451.4 C290.5,452.2 294.5,454.9 298.0,457.7 C301.6,460.4 306.0,464.8 308.1,467.7 C310.2,470.6 311.0,472.7 310.6,475.2 C310.2,477.7 306.6,480.2 305.6,482.7 C304.5,485.2 304.5,489.0 304.3,490.2" fill="none" stroke="#a9a199" stroke-opacity="0.5" stroke-width="0.6" stroke-dasharray="1.6 0.9"/>
<path d="M265.5,456.4 C264.6,457.5 262.5,460.6 260.4,462.7 C258.4,464.8 255.2,468.3 252.9,468.9 C250.6,469.6 248.7,467.9 246.7,466.4 C244.6,465.0 241.4,461.2 240.4,460.2" fill="none" stroke="#a9a199" stroke-opacity="0.5" stroke-width="0.6" stroke-dasharray="1.6 0.9"/>
<path d="M266.7,460.2 C267.3,458.3 270.9,456.4 273.0,456.4 C275.1,456.4 278.1,458.6 279.2,460.2 C280.4,461.7 280.6,464.1 280.0,465.7 C279.4,467.3 277.3,469.4 275.5,469.7 C273.7,470.0 270.7,469.3 269.2,467.7 C267.8,466.1 266.1,462.0 266.7,460.2Z" fill="none" stroke="#a9a199" stroke-opacity="0.5" stroke-width="0.6" stroke-dasharray="1.6 0.9"/>
<path d="M229.1,480.7 C229.1,479.6 232.1,478.5 233.4,478.7 C234.7,478.9 236.9,480.6 236.9,481.7 C236.9,482.8 234.7,485.4 233.4,485.2 C232.1,485.1 229.1,481.8 229.1,480.7Z" fill="none" stroke="#a9a199" stroke-opacity="0.5" stroke-width="0.6" stroke-dasharray="1.6 0.9"/>
<path d="M265.5,450.1 C265.7,448.5 265.5,443.0 266.7,440.1 C268.0,437.2 271.1,435.3 273.0,432.6 C274.9,429.9 276.7,426.7 278.0,423.8 C279.2,420.9 279.2,417.1 280.5,415.0 C281.8,413.0 283.4,411.3 285.5,411.3 C287.6,411.3 290.9,413.2 293.0,415.0 C295.1,416.9 296.0,421.7 298.0,422.6 C300.1,423.4 303.9,421.3 305.6,420.1 C307.2,418.8 308.9,417.1 308.1,415.0 C307.2,413.0 303.5,409.4 300.6,407.5 C297.6,405.6 293.9,405.0 290.5,403.8 C287.2,402.5 282.2,400.6 280.5,400.0" fill="none" stroke="#a9a199" stroke-opacity="0.5" stroke-width="0.6" stroke-dasharray="1.6 0.9"/>
</g>
<g fill="none" stroke="#000" stroke-width="1.9" stroke-linejoin="round" stroke-linecap="round">
<polyline points="392.3,105.5 396.3,230.0 401.3,327.7 403.8,412.0 404.6,440.6"/>
<polyline points="401.3,327.7 480.0,326.0 560.5,326.5 614.3,329.5"/>
<polyline points="566.2,140.0 564.2,230.0 560.5,326.5"/>
<polyline points="614.3,329.5 611.1,388.4 606.3,490.0 602.2,571.0"/>
<polyline points="611.1,388.4 749.0,398.0 749.1,399.8 752.8,396.5 759.1,394.0 770.4,394.8 776.6,396.5 782.9,400.3 789.2,404.0 790.4,408.3 797.9,404.8 802.9,404.0 804.2,397.3 813.0,394.8 823.0,395.8 831.3,395.3"/>
<polyline points="606.3,489.8 615.1,491.6 623.9,492.8 628.9,500.3 632.6,504.1 640.2,505.3 645.2,512.9 648.9,520.4 655.2,524.1 661.5,530.4 666.5,534.2 672.8,530.4 680.3,531.7 690.3,535.4 700.3,537.9 707.9,535.9 716.6,537.9 718.4,546.7 720.4,553.0 732.9,560.5 745.5,571.4"/>
</g>
<g fill="none" stroke="#000" stroke-width="1.6" stroke-linejoin="round" stroke-linecap="round">
<polygon points="157.7,246.7 159.1,245.0 161.2,244.2 162.8,242.7 164.8,241.8 166.4,240.4 168.2,240.4 169.8,239.0 171.6,238.7 173.5,240.1 175.2,239.1 177.0,238.3 178.9,238.0 181.0,239.2 182.7,237.9 184.6,236.8 186.8,236.4 188.3,234.7 190.4,233.9 191.8,232.0 194.0,231.6 196.0,231.2 198.0,231.1 199.7,229.8 201.7,229.6 203.5,228.8 205.3,227.9 206.3,225.9 208.7,225.7 210.1,224.2 211.6,222.8 213.8,222.4 215.9,221.9 218.1,223.6 220.3,222.8 222.0,222.0 223.9,221.6 225.7,221.0 227.2,219.9 229.1,219.4 230.4,217.8 232.3,216.9 234.6,216.9 236.3,215.5 238.7,215.6 240.4,214.1 242.3,213.7 242.9,211.4 244.5,210.5 246.1,209.6 247.9,209.1 249.9,208.1 250.3,205.8 251.9,204.5 252.9,202.8 253.3,200.6 254.4,198.8 255.0,196.7 255.7,194.7 256.7,192.8 257.8,191.3 258.7,189.7 260.2,188.5 260.4,186.5 262.3,185.2 264.2,184.1 265.7,182.5 267.5,181.2 268.5,179.0 268.0,177.3 266.4,176.1 266.9,174.0 265.5,172.7 266.1,170.6 265.8,168.6 264.8,166.7 264.9,164.6 264.2,162.7 264.3,160.9 266.1,159.8 266.2,158.0 266.7,156.4 267.6,154.6 268.5,152.7 271.0,152.1 271.7,150.1 273.7,149.6 273.6,147.0 275.9,146.8 276.6,145.0 278.0,143.9 279.4,144.7 280.0,146.1 280.5,147.6 281.2,149.7 282.1,151.5 284.6,152.4 284.8,154.8 286.9,155.9 286.9,158.4 288.7,159.7 288.9,162.1 289.8,163.9 291.8,165.2 292.0,163.4 293.3,161.8 292.2,159.9 291.9,158.0 293.0,156.4 292.4,154.4 290.5,153.0 290.0,151.0 289.5,149.0 289.1,146.9 288.0,145.1 288.7,143.1 289.8,141.4 292.4,140.9 293.0,138.9 294.8,138.9 296.2,140.6 298.0,140.1 297.9,142.0 299.5,143.2 300.0,144.8 300.6,146.4 301.8,145.2 303.3,144.1 304.4,142.8 305.6,141.4 307.8,141.5 310.0,141.6 312.1,142.2 314.3,141.4 312.6,140.3 310.8,139.5 309.3,138.0 307.1,137.8 305.6,136.4 305.8,134.3 307.7,132.9 307.5,130.7 308.1,128.8 307.2,126.9 305.3,125.5 305.1,123.3 304.3,121.3 306.1,120.7 307.4,118.9 309.7,119.3 311.4,118.5 313.1,117.5 313.7,115.4 315.8,114.6 316.8,112.8 318.1,111.3 320.1,110.7 321.7,109.1 323.9,108.8 325.6,107.5 327.5,106.4 328.0,103.8 329.5,102.4 331.9,101.8 333.1,100.0 334.4,98.2 333.2,96.0 334.0,94.1 334.6,92.2 334.7,90.2 336.5,89.5 338.4,89.3 340.2,88.9 342.2,89.0 344.0,88.1 346.0,87.9 347.7,86.7 349.7,86.5 351.8,86.7 353.6,88.1 356.0,87.0 357.7,88.6 359.7,89.0 360.9,90.6 362.9,91.2 364.5,92.3 365.2,94.5 367.4,94.8 368.5,96.5 370.5,97.5 371.6,99.4 372.7,101.3 375.2,101.9 376.0,104.0 376.2,105.8 375.9,107.6 374.6,109.2 375.2,111.1 374.8,112.8 373.5,114.4 374.5,116.5 373.6,118.2 372.5,119.7 372.3,121.6 374.2,120.5 374.7,118.4 375.6,116.5 377.3,115.3 377.0,113.3 378.4,111.8 378.1,109.9 379.9,108.5 379.8,106.5 382.1,106.7 383.8,104.7 386.1,104.8 388.2,104.5 390.2,105.8 392.3,105.3 393.8,106.8 395.3,108.3 397.3,109.1 398.1,107.1 398.6,105.1 400.0,103.6 401.9,102.4 402.4,100.3 404.0,101.2 405.1,102.5 406.2,103.9 407.4,105.3 408.0,107.1 408.4,109.0 407.7,111.1 409.8,112.6 410.5,114.5 409.9,116.6 409.4,114.4 408.0,112.9 407.0,111.2 404.9,110.3 404.0,108.6 404.4,106.4 403.6,104.6 401.4,103.4 401.8,101.2 401.3,99.3 399.9,97.8 401.0,96.0 401.6,93.9 401.9,91.7 402.9,89.8 403.5,87.8 404.0,85.7 405.9,84.2 406.1,82.0 407.4,80.2 409.5,79.5 410.3,76.9 413.2,77.2 414.6,75.6 416.1,74.0 417.3,72.1 417.4,70.1 417.6,68.1 417.0,66.1 416.0,64.0 417.8,62.2 417.4,60.2 418.6,58.3 420.5,57.3 422.6,56.7 424.1,55.2 425.6,53.7 427.4,52.6 429.7,52.6 431.3,51.0 432.9,49.5 434.9,48.9 437.2,49.0 438.9,50.9 441.2,50.7 443.1,52.0 445.5,51.7 447.5,52.6 449.3,51.8 451.3,52.3 453.2,52.7 454.9,51.1 457.0,52.2 458.8,51.4 458.4,53.3 459.7,52.0 459.7,50.4 459.4,48.7 460.9,49.3 462.3,47.4 464.0,48.3 463.9,46.5 464.0,44.6 461.9,43.2 462.0,41.4 462.1,39.5 460.5,38.6 459.7,37.0 458.4,35.8 456.6,36.0 454.7,35.9 452.9,35.8 451.4,34.1 448.6,34.4 446.9,33.2 445.5,31.2 447.0,29.5 448.8,28.6 451.1,28.4 452.9,28.0 454.0,30.4 455.7,30.6 457.5,30.3 458.0,28.2 460.0,27.2 461.2,25.7 461.8,27.5 462.1,29.3 462.2,31.2 462.1,33.0 464.0,33.4 465.8,33.2 467.6,33.0 469.0,34.2 470.5,35.4 471.4,36.9 472.3,38.6 474.1,38.2 475.5,39.6 477.0,40.4 478.7,40.4 480.6,40.9 482.7,40.9 484.5,41.8 486.1,43.2 488.1,43.9 489.7,45.2 491.3,46.5 493.5,46.9 495.3,46.4 497.2,47.1 499.0,46.4 500.8,45.9 502.7,46.7 504.6,47.5 506.4,48.7 508.2,49.6 509.9,50.7 511.9,50.7 513.7,51.5 515.8,50.7 517.4,49.1 519.0,47.5 521.1,46.9 522.6,45.8 524.3,45.0 525.0,42.8 526.9,42.3 528.5,41.3 530.2,40.3 532.5,40.2 534.4,39.4 535.9,37.6 537.3,36.1 539.6,35.5 541.1,34.0 542.3,32.1 542.8,30.0 544.1,28.4 545.1,26.6 545.4,28.4 543.5,29.6 543.3,31.3 543.2,33.0 541.2,33.8 540.0,35.4 538.8,36.9 537.7,38.6 535.6,39.0 533.9,40.3 532.6,42.1 530.3,42.3 528.8,43.7 528.4,46.2 526.8,47.6 524.8,48.7 525.2,50.4 527.5,50.9 528.3,52.4 528.5,54.2 528.6,52.0 531.1,50.9 531.2,48.7 532.5,47.4 533.9,46.5 535.9,46.9 537.7,46.9 538.6,44.9 540.5,45.0 540.4,46.8 541.3,48.2 542.3,49.6 543.6,50.9 545.0,51.8 546.9,51.5 547.7,53.0 548.8,54.2 547.1,55.0 547.0,57.4 545.1,57.9 543.6,59.2 543.2,61.0 542.3,62.5 541.3,63.9 541.9,65.9 540.5,67.1 538.8,67.6 537.7,69.0 535.9,69.1 535.8,71.6 534.0,71.8 532.2,72.4 530.3,72.2 528.5,72.7 527.2,74.3 527.8,76.5 526.6,78.2 528.2,79.7 528.5,81.9 528.7,83.8 527.6,85.5 527.6,87.4 526.2,88.5 525.9,90.3 525.0,91.7 523.9,92.9 522.9,94.5 521.8,95.9 520.6,97.2 519.3,98.5 519.5,100.4 518.0,101.6 517.4,103.1 517.4,105.4 519.3,106.8 520.8,107.5 521.7,109.1 523.8,108.9 524.8,110.5 526.0,112.1 527.4,113.5 529.0,114.6 530.7,115.7 532.2,116.9 533.6,117.8 534.8,119.0 535.8,120.4 537.7,120.6 539.8,121.6 541.4,123.0 542.3,125.2 544.0,125.1 545.7,124.8 546.9,123.4 547.9,122.0 548.8,120.6 549.2,122.1 548.9,123.8 549.7,125.2 551.7,125.8 553.2,127.1 554.9,128.1 556.1,129.8 557.9,130.9 560.0,131.3 561.7,132.6 562.9,134.0 562.7,136.0 562.8,137.8 564.4,139.0 565.7,140.4 565.9,142.5 567.2,143.8 568.9,143.1 570.8,143.3 572.4,142.3 574.1,141.6 576.0,142.4 577.9,143.5 579.8,144.3 581.3,145.9 583.1,146.9 585.1,147.7 586.6,149.2 588.0,150.8 589.3,152.5 590.1,154.6 592.0,155.9 592.9,157.9 594.5,159.5 596.7,159.7 598.5,160.8 600.4,161.6 602.1,163.0 604.2,163.5 606.4,163.4 608.4,162.5 610.4,161.9 612.6,161.7 614.7,161.4 616.7,160.4 617.8,158.7 619.5,157.3 621.0,155.8 621.7,153.7 622.7,151.9 624.2,150.4 625.0,148.5 626.6,147.2 627.6,145.5 628.9,144.1 629.9,142.3 630.5,140.4 630.6,138.4 631.0,136.5 631.6,134.7 631.9,132.8 633.1,131.1 633.8,129.2 634.3,127.4 634.2,125.3 634.4,123.4 635.7,121.7 635.4,119.6 636.0,117.8 636.9,116.0 636.5,113.9 637.0,112.0 638.0,110.3 638.4,108.2 637.5,106.2 637.5,104.2 637.7,102.1 637.7,100.0 636.6,98.0 637.0,96.0 637.0,93.9 637.0,91.8 636.5,89.8 636.8,87.7 637.6,85.8 638.9,84.0 638.9,81.7 639.8,79.7 640.5,77.7 639.7,75.9 639.6,74.0 639.8,72.0 639.3,70.2 640.1,68.2 642.2,67.2 643.0,65.2 642.9,63.4 641.2,62.3 641.7,60.2 640.5,58.9 641.6,57.1 643.3,55.6 644.6,53.9 645.3,51.7 646.8,50.1 647.6,48.3 648.2,46.4 649.1,44.6 649.3,42.6 649.6,40.4 650.9,38.5 651.8,36.5 652.0,34.3 652.5,32.2 653.1,30.1 654.3,28.4 656.2,27.6 657.6,26.2 659.3,25.1 660.8,26.6 662.5,27.8 664.3,28.8 664.7,30.6 665.8,32.2 665.6,34.2 666.2,35.9 666.8,37.6 667.5,39.4 666.7,41.4 667.2,43.3 668.2,45.1 667.3,47.1 668.1,48.9 670.1,49.7 671.6,51.2 673.1,52.6 672.4,54.7 672.1,56.8 671.9,58.9 672.6,60.8 673.3,62.8 674.4,64.5 675.4,66.3 676.4,68.1 676.9,70.2 677.7,72.2 677.0,74.4 677.1,76.5 677.6,78.6 677.6,80.7 678.1,82.7 678.7,84.7 679.2,86.7 679.4,88.7 679.1,90.8 680.6,92.6 680.4,94.8 681.1,96.7 680.8,98.8 681.7,100.7 681.9,102.8 683.9,102.1 686.0,101.8 688.1,101.5 689.7,101.0 691.4,100.6 692.8,99.5 694.4,99.0 695.0,100.8 696.9,101.7 697.7,103.4 698.9,104.7 699.4,106.5 701.3,107.4 702.2,109.4 703.7,110.5 705.7,111.2 706.9,112.8 708.0,114.6 708.3,116.5 708.5,118.6 709.5,120.3 708.8,122.3 708.6,124.3 708.6,126.3 708.9,128.4 708.2,130.4 709.0,132.4 709.9,134.4 710.0,136.6 710.6,138.7 711.7,140.7 712.0,142.9 713.2,144.5 713.4,146.7 715.2,148.0 715.2,150.2 715.9,152.1 716.8,153.9 718.2,155.4 718.7,157.6 718.9,159.7 719.2,161.9 719.5,164.1 719.4,166.3 720.1,168.4 720.7,170.5 720.8,172.4 719.8,174.3 720.1,176.2 719.8,178.1 719.4,180.0 719.5,182.0 720.4,183.8 719.2,185.7 719.7,187.6 720.0,189.4 720.9,191.1 721.5,192.9 722.2,194.6 722.7,196.4 724.6,197.2 725.8,198.9 727.9,199.5 729.0,201.4 730.6,202.3 732.0,203.5 733.7,204.1 735.3,205.1 736.8,205.9 738.1,207.1 739.7,207.7 741.5,207.6 743.0,208.9 743.0,211.0 744.2,212.4 745.3,213.9 747.3,214.1 748.6,215.6 750.2,216.3 751.6,217.7 753.5,217.9 754.7,219.6 755.9,221.1 757.8,221.4 759.7,222.6 760.7,224.8 762.8,225.7 764.7,225.9 766.5,224.7 768.4,225.2 768.0,226.8 768.7,228.2 769.1,229.7 766.8,230.0 765.1,231.4 763.3,232.7 763.6,234.9 764.9,236.8 765.3,239.0 766.2,240.9 767.2,242.6 768.6,244.1 770.4,245.2 771.1,247.1 771.2,249.1 772.3,250.9 772.9,252.8 774.2,254.4 774.9,256.3 775.5,258.2 775.4,260.3 776.2,262.2 776.5,264.2 776.1,266.3 776.0,268.3 776.6,270.3 777.8,271.6 779.2,272.7 780.4,274.1 781.0,272.2 780.7,270.2 781.3,268.4 781.6,266.5 782.5,268.5 784.3,269.8 785.4,271.6 787.4,272.4 788.3,274.6 790.4,275.3 791.6,273.8 791.9,271.9 792.9,270.3 794.1,271.8 794.8,273.5 795.6,275.1 796.7,276.6 797.0,278.5 797.2,280.4 796.6,282.3 795.3,284.0 796.3,286.0 795.4,287.9 795.8,289.6 796.5,291.3 796.7,293.0 797.0,294.8 796.7,296.6 798.3,297.1 800.0,297.3 801.7,297.7 802.9,299.1 804.2,300.8 804.8,302.7 804.8,304.8 805.5,306.7 807.7,306.9 809.6,307.8 811.1,309.4 813.0,310.4 813.9,312.1 814.1,314.1 816.0,315.4 816.1,317.4 816.7,319.2 817.9,320.9 819.5,322.3 819.0,324.9 821.2,326.0 821.8,328.0 823.4,329.1 823.8,330.9 825.3,332.1 825.6,334.1 826.8,335.5 827.9,334.3 828.9,333.0 830.5,332.6 831.2,330.4 833.3,329.3 834.0,327.1 835.5,325.6 835.4,327.6 836.3,329.4 836.5,331.3 835.1,332.7 835.2,334.8 834.5,336.5 833.7,338.2 832.1,339.5 831.8,341.4 830.7,342.8 830.1,344.6 829.5,346.4 828.0,347.6 828.4,349.8 828.6,352.0 830.0,353.9 829.5,355.6 830.0,357.6 829.6,359.3 829.1,361.1 828.0,362.7 828.3,364.7 828.3,366.8 828.0,368.8 826.8,370.7 826.8,372.7 825.9,374.3 826.7,376.1 826.0,377.7 827.1,379.2 829.0,379.4 830.5,380.2 831.3,378.4 831.8,376.6 832.2,374.7 831.8,372.7 832.9,374.2 832.9,376.0 833.0,377.7 832.5,379.7 831.5,381.6 832.5,383.9 831.8,385.8 831.0,387.7 830.6,389.5 831.9,391.2 831.7,393.0 831.9,394.7 831.8,396.5 831.2,398.2 830.6,399.9 831.5,401.9 830.4,403.5 830.5,405.3 829.4,406.8 828.4,408.4 827.9,410.3 826.6,411.7 826.5,413.7 825.5,415.3 824.9,417.4 824.4,419.5 822.8,421.2 822.5,423.4 821.8,425.3 821.3,427.4 820.6,429.3 818.9,430.8 818.3,432.8 817.3,434.6 816.7,436.6 816.3,438.6 815.5,440.4 815.4,442.4 813.9,444.0 814.3,446.3 813.0,447.9 812.1,449.7 810.8,451.3 810.0,453.2 810.0,455.4 808.9,457.0 807.1,458.4 806.7,460.4 805.6,462.1 804.4,463.8 803.5,465.5 803.2,467.6 801.7,469.1 801.0,471.0 800.4,473.0 799.1,474.7 797.6,476.1 796.4,478.0 794.5,479.1 792.9,480.5 790.9,481.5 790.3,483.9 788.3,485.0 786.8,486.5 786.0,488.2 784.7,489.5 782.9,490.2 782.1,491.8 780.6,492.8 780.4,494.8 779.5,496.5 778.1,498.0 777.4,499.8 776.8,501.6 776.4,503.5 775.1,504.8 773.2,505.7 773.1,507.8 771.8,509.1 770.9,510.7 770.2,512.5 768.9,513.9 768.3,515.7 767.2,517.3 766.8,519.1 766.3,521.2 766.4,523.4 765.5,525.4 764.6,527.2 763.5,528.8 761.4,529.6 760.9,531.8 759.2,532.9 758.8,534.9 756.6,535.9 756.5,538.2 754.6,539.3 754.5,541.6 753.0,542.9 752.3,544.8 751.9,546.7 750.4,548.1 750.0,550.1 749.2,551.8 748.3,553.6 748.0,555.5 747.6,557.3 748.4,559.0 748.2,560.8 748.5,562.6 747.9,564.4 747.8,566.3 746.2,567.7 745.9,569.6 745.5,571.4 743.5,572.1 742.3,573.9 740.4,574.7 738.4,574.9 736.4,575.4 734.4,575.4 732.5,576.6 730.4,576.4 728.4,576.6 726.4,576.4 724.4,577.0 722.4,576.3 720.4,576.4 718.4,575.9 716.4,576.2 714.4,575.7 712.4,575.7 710.4,575.7 709.0,577.1 707.3,578.1 705.3,578.5 704.1,580.2 703.0,581.6 701.7,582.7 700.7,584.3 699.4,585.5 697.8,586.4 696.1,587.5 693.9,587.1 692.1,588.0 690.3,588.9 689.4,590.5 688.8,592.1 689.1,594.0 687.7,595.3 686.1,596.4 685.3,598.2 685.0,596.5 684.6,594.9 685.0,593.0 684.0,591.4 682.0,591.5 680.3,592.7 679.5,591.0 677.8,590.2 676.8,588.7 675.3,587.7 673.6,586.5 672.6,584.6 670.9,583.5 669.0,582.7 667.5,581.4 666.5,579.7 664.5,579.3 662.7,580.2 660.8,580.3 658.9,580.1 657.1,578.9 655.2,578.9 653.9,580.3 652.3,581.1 650.7,582.1 649.8,583.9 647.7,584.3 646.4,585.7 644.9,587.0 643.1,587.9 641.4,588.9 639.8,588.1 638.6,586.7 637.1,585.6 635.2,585.2 633.9,583.9 632.0,583.5 630.6,582.3 629.1,581.2 627.6,580.2 625.4,579.8 623.4,578.8 621.8,577.1 619.7,576.3 617.6,575.7 615.7,575.9 614.2,576.7 612.7,577.6 611.3,578.9 610.0,578.2 608.6,577.6 607.6,576.4 605.9,575.6 604.5,574.4 603.1,573.4 601.6,572.3 600.1,571.4 598.4,570.6 597.3,569.0 595.4,568.6 594.0,567.4 592.5,566.4 592.3,564.4 591.4,562.7 590.0,561.2 589.2,559.5 588.8,557.6 587.9,555.6 585.8,554.4 584.7,552.5 583.8,550.4 584.1,548.4 584.4,546.4 584.2,544.3 584.3,542.3 585.1,540.4 584.0,538.8 583.9,536.7 582.8,535.1 582.6,533.1 581.3,531.6 580.6,529.9 579.8,528.3 577.9,527.4 577.0,525.8 576.3,524.1 574.4,523.1 573.1,521.3 571.5,519.9 570.0,518.3 568.3,518.7 566.7,517.9 565.0,517.8 563.3,518.8 561.3,519.0 559.5,519.6 557.5,519.8 559.1,518.4 560.0,516.6 560.9,515.0 561.7,513.3 562.4,511.6 563.8,510.3 563.9,508.4 564.3,506.6 564.6,504.7 564.5,502.8 564.2,501.0 563.2,499.5 561.8,498.2 561.3,496.5 560.1,495.0 559.9,493.0 559.1,491.3 558.0,489.7 557.1,490.6 556.3,491.5 555.3,492.9 554.9,494.6 554.6,496.3 553.8,497.8 553.7,499.9 553.5,502.1 552.5,504.0 551.5,505.4 550.4,506.6 550.0,508.3 548.1,508.5 546.7,509.7 545.0,510.3 542.9,510.4 540.9,510.4 538.9,510.9 537.0,511.6 537.7,509.9 538.0,508.2 538.7,506.5 540.8,506.1 542.8,505.3 545.0,505.3 546.0,503.8 547.5,502.8 547.9,500.9 548.5,499.1 548.2,497.1 548.2,495.3 548.4,493.4 548.7,491.5 549.2,489.7 550.1,488.1 550.2,486.2 551.3,484.6 551.2,482.7 551.8,480.7 552.9,478.9 554.1,477.1 555.0,475.2 555.5,473.3 556.7,471.6 557.3,469.7 557.5,467.7 557.5,465.8 556.6,464.1 555.5,462.6 555.6,460.6 555.0,458.9 553.0,458.2 552.8,460.0 552.8,461.9 552.9,463.8 552.5,465.7 551.1,467.0 549.6,468.4 548.7,470.2 547.9,472.0 546.1,473.1 545.1,474.8 543.7,476.2 542.5,477.7 540.7,478.3 539.2,479.3 537.9,480.6 536.7,482.0 534.9,482.7 533.1,483.9 532.2,486.0 530.5,487.3 528.7,488.5 527.4,490.2 526.3,492.0 525.1,493.6 523.2,494.6 522.4,496.5 521.0,497.9 520.6,499.9 519.5,501.5 518.6,503.3 517.4,504.8 516.2,503.5 515.5,501.9 514.9,500.3 513.5,499.1 511.6,499.5 510.1,498.7 508.6,497.8 510.4,496.8 512.4,496.5 511.4,494.9 511.4,493.0 511.2,491.2 510.8,489.4 509.9,487.7 509.0,486.2 508.2,484.5 506.4,483.6 505.7,481.9 504.9,480.2 504.8,478.2 503.1,476.6 502.7,474.7 502.4,472.7 500.7,471.5 498.8,470.4 497.3,468.9 496.0,468.0 494.3,467.5 493.0,466.4 491.8,465.2 492.9,463.2 492.6,460.9 493.6,458.9 492.7,457.3 490.8,456.7 490.2,454.7 488.6,453.9 487.5,452.5 486.2,451.3 484.5,450.4 483.6,448.9 481.5,449.4 479.4,448.6 477.3,448.9 475.4,448.5 473.6,447.7 472.2,446.3 470.4,445.5 468.5,445.1 466.8,445.9 464.9,445.1 463.2,445.8 461.5,446.3 459.7,446.4 457.8,445.7 456.3,444.4 455.0,442.7 452.9,442.4 451.2,441.5 449.7,440.1 447.8,439.6 446.0,438.7 444.4,437.6 442.9,436.1 440.9,435.6 439.0,436.8 436.9,437.3 434.7,437.6 432.5,437.3 430.4,437.4 428.3,437.7 426.3,438.7 424.2,438.8 422.1,438.9 420.1,438.5 418.2,439.3 416.3,439.2 414.4,439.9 412.4,440.4 410.5,440.2 408.5,439.9 406.5,440.1 404.6,440.6 402.7,441.4 400.8,442.3 398.9,443.0 397.1,443.9 395.3,444.8 393.5,445.6 391.5,446.2 390.1,447.8 388.1,448.2 386.1,448.8 384.5,450.1 382.6,450.4 381.1,451.8 379.0,451.5 377.2,452.3 375.7,453.7 373.9,454.3 372.0,454.7 370.0,455.0 368.1,455.1 366.1,454.1 364.1,454.7 362.2,454.3 360.2,455.1 358.2,454.7 356.4,455.9 354.1,456.0 352.1,457.0 350.0,457.7 348.2,458.9 346.4,459.6 344.8,460.6 343.1,461.2 341.7,462.6 339.8,463.1 338.2,463.9 336.5,465.0 335.0,466.3 333.1,467.0 331.6,468.2 329.8,469.1 328.1,470.2 327.0,471.5 325.7,472.8 324.5,474.0 323.1,475.2 322.7,477.1 322.1,478.9 321.8,480.8 321.9,482.7 320.6,484.1 319.7,485.7 319.2,487.5 318.1,489.0 316.1,489.2 314.4,490.4 312.6,491.2 310.6,491.5 308.6,491.7 306.6,491.6 304.6,492.1 302.5,492.0 300.6,492.3 298.7,493.1 296.7,493.1 294.9,494.2 293.0,494.8 291.8,493.5 290.5,492.3 288.4,492.3 286.2,492.1 284.1,492.0 281.9,492.5 279.8,492.7 277.6,492.6 275.5,492.8 273.4,493.6 271.2,493.7 269.0,493.7 266.8,494.2 264.8,495.3 262.5,495.0 260.4,495.8 258.6,496.7 256.5,497.0 254.8,498.3 252.9,499.0 252.5,501.0 251.6,502.8 250.7,504.6 250.4,506.5 248.9,507.2 247.2,507.5 245.6,508.2 244.1,509.1 242.7,510.2 241.2,511.2 239.6,512.1 238.2,513.1 236.6,514.1 235.5,515.4 234.0,516.5 232.6,517.6 231.6,519.0 230.4,520.3 228.5,521.4 226.4,522.1 224.4,522.7 222.3,523.2 220.3,524.1 218.3,524.2 216.3,524.0 214.3,523.5 212.3,523.3 210.3,522.8 208.6,523.6 206.8,523.5 205.0,523.5 203.3,524.2 201.5,524.6 199.8,523.8 198.1,523.1 196.4,522.5 194.6,521.8 192.8,521.6 191.0,520.5 189.3,519.1 187.3,518.4 185.9,516.7 184.0,515.8 182.1,515.5 180.2,515.0 178.4,514.2 176.5,514.1 175.7,512.6 174.9,511.0 174.9,509.3 174.0,507.8 173.9,505.8 173.2,503.8 173.0,501.8 173.2,499.8 175.1,499.8 177.1,499.7 179.0,500.3 180.3,498.8 180.9,496.8 182.2,495.3 182.1,493.2 182.3,491.2 182.5,489.2 182.6,487.2 182.7,485.2 182.6,483.2 182.4,481.2 181.9,479.2 181.4,477.3 181.5,475.2 181.7,473.1 181.2,471.0 180.5,469.0 180.6,466.9 180.7,464.7 180.2,462.7 179.8,460.8 178.2,459.5 177.3,457.9 176.9,456.0 176.0,454.3 175.2,452.6 174.4,450.8 173.3,449.3 171.9,447.9 170.8,446.2 169.9,444.5 169.0,442.8 167.7,441.4 166.6,439.6 165.9,437.6 164.8,435.9 164.5,433.8 163.1,432.1 162.7,430.1 162.8,428.0 162.2,426.1 162.0,424.1 161.3,422.1 161.4,420.1 160.4,418.5 159.7,416.7 159.2,414.9 158.1,413.4 157.1,411.8 156.4,410.0 155.7,408.1 154.4,406.6 153.3,405.0 152.0,403.5 151.0,401.8 150.1,400.0 148.8,398.5 146.8,398.0 145.5,396.5 143.9,395.4 143.7,393.6 143.2,391.9 143.4,390.1 143.3,388.3 142.6,386.6 142.2,384.7 141.3,383.0 140.1,381.5 139.2,379.8 138.9,377.9 138.0,376.1 137.2,374.4 136.3,372.7 136.2,370.7 135.1,369.1 135.3,367.2 136.4,365.7 137.0,363.9 136.7,362.0 137.6,360.3 138.3,358.6 138.0,356.8 138.1,355.0 138.3,353.2 138.9,351.5 137.0,350.6 135.7,349.0 134.1,347.9 132.6,346.5 131.8,344.7 130.7,343.1 129.0,341.9 128.2,340.1 127.1,338.5 125.9,337.0 125.1,335.2 123.9,333.9 122.9,332.4 122.2,330.6 120.9,329.3 120.1,327.7 119.4,325.8 119.3,323.7 119.2,321.7 119.1,319.7 118.8,317.7 119.1,315.6 120.0,313.7 120.0,311.6 121.0,309.7 121.3,307.7 121.6,305.8 121.4,303.9 122.2,302.0 122.0,300.1 122.4,298.3 122.6,296.4 121.7,294.6 120.9,292.8 119.8,291.1 118.6,289.6 118.0,287.6 118.7,285.7 119.2,283.7 119.2,281.6 119.7,279.6 120.1,277.6 120.3,275.6 121.4,273.9 121.7,272.0 122.1,270.1 123.7,270.4 125.1,271.3 125.0,273.4 125.0,275.5 125.8,277.6 125.4,279.7 126.1,281.8 126.3,283.8 128.1,282.9 130.1,282.6 131.0,280.9 131.4,279.0 132.6,277.4 133.2,275.6 133.8,273.8 134.8,271.8 136.4,270.3 137.9,268.8 138.8,266.8 140.1,265.0 141.6,263.8 143.3,262.8 144.5,261.2 146.0,260.0 147.5,258.8 148.9,257.5 150.4,256.2 151.2,254.3 152.3,252.7 154.1,251.7 155.2,250.0 156.5,248.4"/>
<polygon points="410.6,41.4 410.8,39.2 412.4,37.4 412.4,35.1 413.3,33.6 415.1,33.1 415.8,31.3 417.4,30.6 418.9,31.4 419.4,33.4 421.4,33.7 422.4,35.1 424.1,34.9 425.7,34.2 427.4,33.8 429.0,33.0 430.6,32.2 431.9,31.0 433.7,30.6 435.5,31.5 437.7,31.0 439.5,32.1 439.6,34.0 439.6,35.9 438.7,37.6 437.3,39.1 435.7,40.2 433.7,40.9 432.4,42.6 431.3,43.6 430.2,44.7 428.7,45.1 426.9,44.5 425.9,42.7 423.7,42.8 422.4,41.4 420.8,41.8 419.3,42.8 417.6,43.0 416.1,43.9 414.3,43.7 412.5,42.8 410.6,42.6"/>
<polygon points="535.9,91.1 536.6,89.2 537.0,87.1 536.9,85.0 537.0,82.9 537.7,81.0 539.5,80.3 541.4,81.0 542.1,82.5 543.2,83.7 545.1,83.2 546.9,82.8 546.2,84.9 546.5,87.1 546.0,89.3 546.6,91.3 547.8,92.9 546.2,93.0 544.8,91.9 543.2,92.0 541.4,91.7 539.5,92.0 537.7,91.7"/>
<polygon points="589.1,141.6 592.9,137.9 599.2,137.4 598.7,140.4 594.1,144.1 590.4,144.1"/>
<polygon points="653.6,12.0 656.8,12.5 658.3,15.0 655.6,15.5"/>
<polygon points="652.8,23.1 655.6,22.1 656.8,24.6 654.3,26.1"/>
<polygon points="531.2,522.8 532.9,521.5 534.9,520.8 537.0,521.0 538.6,519.4 540.7,519.8 542.5,519.1 544.5,518.3 546.6,518.2 548.7,518.3 549.4,520.4 551.2,521.6 553.0,521.4 554.6,522.3 556.3,522.3 556.7,523.6 557.0,524.8 555.5,525.1 554.0,525.2 552.5,525.3 551.0,526.7 548.9,527.0 547.5,528.4 545.5,528.7 543.7,528.2 541.8,528.3 540.0,527.4 537.9,527.7 535.8,527.5 533.7,527.4 533.4,525.6 531.9,524.4"/>
<polygon points="644.6,615.2 645.3,608.3 647.4,605.2 649.2,606.2 648.8,611.7 647.4,615.2 645.7,616.3"/>
<polygon points="706.6,615.8 707.4,614.4 708.7,613.5 709.5,614.6 710.8,614.5 711.9,616.4 712.1,618.6 712.9,620.5 714.2,622.0 714.4,623.6 713.5,624.8 712.2,625.5 710.8,625.5 711.1,623.6 710.1,622.0 708.7,620.5 708.0,618.6 707.5,617.1"/>
<polygon points="708.7,626.9 715.6,626.9 716.3,628.7 712.8,629.6 709.4,629.2"/>
<polygon points="655.7,634.4 655.6,632.6 656.4,631.0 656.5,629.2 657.0,627.5 657.5,625.5 657.7,623.4 659.1,623.2 660.5,622.7 660.9,624.4 660.7,626.0 659.8,627.5 660.9,629.0 662.5,629.6 664.1,630.0 665.5,630.7 666.7,631.7 668.1,633.4 670.4,633.9 672.2,635.1 673.8,636.7 675.9,637.4 677.7,638.6 679.5,639.4 681.5,639.5 683.2,640.6 685.0,641.1 686.8,641.6 688.7,641.3 690.1,640.2 691.7,639.3 692.9,637.9 694.7,637.9 696.4,636.8 698.4,637.2 700.5,637.0 702.5,636.1 704.5,636.4 706.6,636.5 708.2,635.2 710.1,634.4 711.3,635.5 711.0,637.4 712.1,638.6 712.0,640.3 711.5,642.0 711.1,643.7 711.4,645.5 711.0,647.1 710.5,648.8 711.1,650.6 710.8,652.3 710.0,654.0 710.1,655.8 709.1,657.4 709.4,659.2 709.1,661.1 710.4,662.8 710.1,664.7 709.8,666.3 708.7,667.5 707.6,665.6 707.3,663.4 706.0,664.4 706.0,666.2 705.2,667.5 704.4,669.5 703.9,671.6 705.1,672.5 705.9,673.7 704.9,674.4 703.9,675.1 703.0,676.2 701.8,677.1 702.4,679.2 702.5,681.3 701.7,682.6 701.1,684.0 700.1,683.2 699.0,682.6 698.9,680.4 697.7,678.5 696.8,677.6 695.6,677.1 694.4,678.2 694.2,679.9 693.1,681.0 692.9,682.6 691.8,684.6 692.2,686.8 691.0,687.6 690.1,688.8 688.7,688.1 688.0,686.8 688.2,684.6 687.3,682.6 686.5,684.4 686.3,686.2 686.7,688.2 685.9,689.8 685.3,691.6 683.7,690.6 681.8,690.2 679.7,690.3 677.7,689.5 675.7,688.7 673.6,688.8 673.0,687.2 671.9,685.7 671.5,684.0 670.1,682.7 670.1,680.6 668.7,679.2 668.4,677.3 666.4,676.3 666.0,674.4 665.4,672.4 664.0,670.8 663.2,668.9 662.3,666.9 662.0,664.8 661.9,662.7 661.8,660.5 661.5,658.4 660.5,656.5 659.4,654.5 659.7,652.3 659.1,650.3 658.0,648.5 658.4,646.4 657.3,644.7 657.0,642.7 657.1,640.7 656.8,638.9 655.7,637.2 655.7,635.8"/>
<polygon points="143.2,246.0 144.6,244.6 145.6,246.2 145.0,248.6 143.6,249.0"/>
<polyline points="656.5,575.7 660.2,572.6 664.7,570.9 667.2,573.9 665.7,578.2 660.7,579.7 656.5,578.2 656.5,575.7"/>
<polyline points="688.7,641.3 690.8,644.8"/>
<polyline points="731.7,530.4 734.2,524.1 739.2,522.4 741.7,525.4 737.9,530.4 736.7,536.7 733.4,537.9 731.7,530.4"/>
<polyline points="115.0,331.5 115.5,345.3 121.3,357.8 127.6,365.3 132.6,366.6 131.3,360.3 126.3,352.8 123.8,346.5 127.6,345.3 131.3,351.5 133.8,357.8 137.6,360.3"/>
</g>
<circle cx="594.1" cy="150.4" r="1.3" fill="#050505"/>
<circle cx="497.3" cy="480.2" r="1.3" fill="#050505"/>
<circle cx="670.8" cy="580.9" r="1.3" fill="#050505"/>
<circle cx="727.7" cy="192.6" r="1.3" fill="#050505"/>
<rect x="934.2" y="123.80" width="32.0" height="39.17" fill="#417b9b" stroke="#111" stroke-width="0.9"/>
<rect x="934.2" y="162.97" width="32.0" height="39.17" fill="#70a5a8" stroke="#111" stroke-width="0.9"/>
<rect x="934.2" y="202.13" width="32.0" height="39.17" fill="#9cd0b9" stroke="#111" stroke-width="0.9"/>
<rect x="934.2" y="241.30" width="32.0" height="39.17" fill="#ccffcc" stroke="#111" stroke-width="0.9"/>
<rect x="934.2" y="280.47" width="32.0" height="39.17" fill="#ecf6ea" stroke="#111" stroke-width="0.9"/>
<rect x="934.2" y="319.63" width="32.0" height="39.17" fill="#ffffff" stroke="#111" stroke-width="0.9"/>
<rect x="934.2" y="358.80" width="32.0" height="39.17" fill="#ffffff" stroke="#111" stroke-width="0.9"/>
<rect x="934.2" y="397.97" width="32.0" height="39.17" fill="#efebe6" stroke="#111" stroke-width="0.9"/>
<rect x="934.2" y="437.13" width="32.0" height="39.17" fill="#fdcb66" stroke="#111" stroke-width="0.9"/>
<rect x="934.2" y="476.30" width="32.0" height="39.17" fill="#df9447" stroke="#111" stroke-width="0.9"/>
<rect x="934.2" y="515.47" width="32.0" height="39.17" fill="#c96331" stroke="#111" stroke-width="0.9"/>
<rect x="934.2" y="554.63" width="32.0" height="39.17" fill="#b04e28" stroke="#111" stroke-width="0.9"/>
<polygon points="934.2,123.8 950.2,86.3 966.2,123.8" fill="#134e87" stroke="#111" stroke-width="1" stroke-linejoin="miter"/>
<polygon points="934.2,593.8 950.2,631.3 966.2,593.8" fill="#933222" stroke="#111" stroke-width="1" stroke-linejoin="miter"/>
<g transform="translate(66,8) scale(0.11025)" fill="#0b0b0b" stroke="none">
<polygon points="497.0,45.0 504.4,69.7 528.3,60.1 513.6,81.2 536.0,93.9 510.3,95.6 514.4,121.0 497.0,102.0 479.6,121.0 483.7,95.6 458.0,93.9 480.4,81.2 465.7,60.1 489.6,69.7"/>
<rect x="452" y="131" width="98" height="14" rx="6"/>
<path d="M360,100 L372,122 L385,95 L398,122 L420,140 L427,155 L406,162 L396,178 L400,200 L410,230 L432,262 L440,285 L428,292 L412,275 L398,262 L385,300 L378,345 L372,388 L380,408 L402,416 L398,428 L345,428 L334,416 L340,378 L328,400 L300,420 L250,431 L180,433 L100,432 L100,421 L200,415 L250,403 L268,380 L274,340 L270,300 L290,268 L320,230 L345,190 L355,150 L350,120 Z"/>
<path d="M598,143 L612,126 L635,121 L651,134 L652,160 L642,190 L637,214 L652,234 L690,229 L730,239 L760,264 L781,298 L787,326 L762,331 L742,341 L727,356 L736,390 L741,414 L762,426 L722,429 L714,400 L704,360 L692,348 L682,372 L662,402 L652,426 L610,426 L640,411 L655,381 L664,347 L640,336 L614,311 L599,281 L594,240 L604,200 L617,170 L620,152 L606,151 Z"/>
<path d="M412,195 L590,195 L590,318 Q585,352 500,380 Q415,352 412,318 Z" fill="#fff" stroke="#0b0b0b" stroke-width="9"/>
<rect x="425" y="207" width="40" height="40" fill="#222" opacity="0.78"/>
<rect x="437" y="217" width="16" height="18" fill="#fff" opacity="0.85"/>
<rect x="478" y="207" width="44" height="40" fill="#222" opacity="0.78"/>
<rect x="491" y="217" width="18" height="18" fill="#fff" opacity="0.85"/>
<rect x="535" y="207" width="44" height="40" fill="#222" opacity="0.78"/>
<rect x="548" y="217" width="18" height="18" fill="#fff" opacity="0.85"/>
<rect x="425" y="258" width="40" height="40" fill="#222" opacity="0.78"/>
<rect x="437" y="268" width="16" height="18" fill="#fff" opacity="0.85"/>
<rect x="478" y="258" width="44" height="40" fill="#222" opacity="0.78"/>
<rect x="491" y="268" width="18" height="18" fill="#fff" opacity="0.85"/>
<rect x="535" y="258" width="44" height="40" fill="#222" opacity="0.78"/>
<rect x="548" y="268" width="18" height="18" fill="#fff" opacity="0.85"/>
<rect x="462" y="315" width="76" height="34" fill="#222" opacity="0.78"/>
<rect x="485" y="324" width="30" height="15" fill="#fff" opacity="0.85"/>
<path d="M470,205 V305 M528,205 V305 M420,252 H585 M420,305 H585" stroke="#0b0b0b" stroke-width="6" fill="none"/>
<path d="M95,436 H905" stroke="#0b0b0b" stroke-width="11" fill="none"/>
<path d="M110,436 Q68,436 70,412 Q74,392 98,398 Q112,404 104,418" stroke="#0b0b0b" stroke-width="7" fill="none"/>
<path d="M890,436 Q932,436 930,412 Q926,392 902,398 Q888,404 896,418" stroke="#0b0b0b" stroke-width="7" fill="none"/>
<path d="M255,395 Q185,330 180,195" stroke="#0b0b0b" stroke-width="5" fill="none"/>
<ellipse cx="243" cy="398" rx="12" ry="4" transform="rotate(117 243 398)"/>
<ellipse cx="233" cy="385" rx="12" ry="4" transform="rotate(10 233 385)"/>
<ellipse cx="265" cy="392" rx="12" ry="4" transform="rotate(13 265 392)"/>
<ellipse cx="214" cy="385" rx="12" ry="4" transform="rotate(22 214 385)"/>
<ellipse cx="217" cy="355" rx="12" ry="4" transform="rotate(104 217 355)"/>
<ellipse cx="245" cy="373" rx="12" ry="4" transform="rotate(155 245 373)"/>
<circle cx="231" cy="367" r="6" fill="none" stroke="#0b0b0b" stroke-width="4"/>
<ellipse cx="232" cy="376" rx="12" ry="4" transform="rotate(115 232 376)"/>
<ellipse cx="215" cy="355" rx="12" ry="4" transform="rotate(11 215 355)"/>
<circle cx="207" cy="326" r="6" fill="none" stroke="#0b0b0b" stroke-width="4"/>
<circle cx="200" cy="345" r="6" fill="none" stroke="#0b0b0b" stroke-width="4"/>
<circle cx="215" cy="361" r="6" fill="none" stroke="#0b0b0b" stroke-width="4"/>
<ellipse cx="203" cy="308" rx="12" ry="4" transform="rotate(176 203 308)"/>
<ellipse cx="185" cy="334" rx="12" ry="4" transform="rotate(27 185 334)"/>
<circle cx="226" cy="328" r="6" fill="none" stroke="#0b0b0b" stroke-width="4"/>
<circle cx="208" cy="292" r="6" fill="none" stroke="#0b0b0b" stroke-width="4"/>
<circle cx="182" cy="294" r="6" fill="none" stroke="#0b0b0b" stroke-width="4"/>
<circle cx="177" cy="306" r="6" fill="none" stroke="#0b0b0b" stroke-width="4"/>
<ellipse cx="175" cy="259" rx="12" ry="4" transform="rotate(148 175 259)"/>
<ellipse cx="175" cy="295" rx="12" ry="4" transform="rotate(4 175 295)"/>
<circle cx="197" cy="290" r="6" fill="none" stroke="#0b0b0b" stroke-width="4"/>
<circle cx="196" cy="268" r="6" fill="none" stroke="#0b0b0b" stroke-width="4"/>
<circle cx="202" cy="266" r="6" fill="none" stroke="#0b0b0b" stroke-width="4"/>
<ellipse cx="197" cy="235" rx="12" ry="4" transform="rotate(50 197 235)"/>
<ellipse cx="167" cy="254" rx="12" ry="4" transform="rotate(172 167 254)"/>
<ellipse cx="189" cy="246" rx="12" ry="4" transform="rotate(42 189 246)"/>
<ellipse cx="171" cy="227" rx="12" ry="4" transform="rotate(1 171 227)"/>
<circle cx="167" cy="223" r="6" fill="none" stroke="#0b0b0b" stroke-width="4"/>
<ellipse cx="160" cy="206" rx="12" ry="4" transform="rotate(122 160 206)"/>
<circle cx="200" cy="194" r="6" fill="none" stroke="#0b0b0b" stroke-width="4"/>
<path d="M250,330 Q200,300 150,260" stroke="#0b0b0b" stroke-width="5" fill="none"/>
<circle cx="232" cy="333" r="6" fill="none" stroke="#0b0b0b" stroke-width="4"/>
<ellipse cx="249" cy="328" rx="12" ry="4" transform="rotate(38 249 328)"/>
<ellipse cx="238" cy="331" rx="12" ry="4" transform="rotate(0 238 331)"/>
<circle cx="235" cy="322" r="6" fill="none" stroke="#0b0b0b" stroke-width="4"/>
<ellipse cx="218" cy="309" rx="12" ry="4" transform="rotate(45 218 309)"/>
<circle cx="219" cy="321" r="6" fill="none" stroke="#0b0b0b" stroke-width="4"/>
<ellipse cx="195" cy="306" rx="12" ry="4" transform="rotate(15 195 306)"/>
<ellipse cx="202" cy="312" rx="12" ry="4" transform="rotate(149 202 312)"/>
<ellipse cx="229" cy="306" rx="12" ry="4" transform="rotate(95 229 306)"/>
<circle cx="185" cy="290" r="6" fill="none" stroke="#0b0b0b" stroke-width="4"/>
<ellipse cx="203" cy="278" rx="12" ry="4" transform="rotate(47 203 278)"/>
<circle cx="201" cy="308" r="6" fill="none" stroke="#0b0b0b" stroke-width="4"/>
<circle cx="170" cy="288" r="6" fill="none" stroke="#0b0b0b" stroke-width="4"/>
<circle cx="186" cy="264" r="6" fill="none" stroke="#0b0b0b" stroke-width="4"/>
<ellipse cx="177" cy="294" rx="12" ry="4" transform="rotate(64 177 294)"/>
<circle cx="169" cy="269" r="6" fill="none" stroke="#0b0b0b" stroke-width="4"/>
<circle cx="171" cy="263" r="6" fill="none" stroke="#0b0b0b" stroke-width="4"/>
<ellipse cx="170" cy="263" rx="12" ry="4" transform="rotate(40 170 263)"/>
<path d="M745,395 Q815,330 825,195" stroke="#0b0b0b" stroke-width="5" fill="none"/>
<circle cx="756" cy="400" r="6" fill="none" stroke="#0b0b0b" stroke-width="4"/>
<circle cx="761" cy="373" r="6" fill="none" stroke="#0b0b0b" stroke-width="4"/>
<circle cx="770" cy="399" r="6" fill="none" stroke="#0b0b0b" stroke-width="4"/>
<circle cx="765" cy="356" r="6" fill="none" stroke="#0b0b0b" stroke-width="4"/>
<ellipse cx="753" cy="395" rx="12" ry="4" transform="rotate(175 753 395)"/>
<ellipse cx="743" cy="390" rx="12" ry="4" transform="rotate(130 743 390)"/>
<circle cx="784" cy="366" r="6" fill="none" stroke="#0b0b0b" stroke-width="4"/>
<circle cx="791" cy="378" r="6" fill="none" stroke="#0b0b0b" stroke-width="4"/>
<ellipse cx="765" cy="374" rx="12" ry="4" transform="rotate(24 765 374)"/>
<circle cx="807" cy="337" r="6" fill="none" stroke="#0b0b0b" stroke-width="4"/>
<ellipse cx="763" cy="351" rx="12" ry="4" transform="rotate(149 763 351)"/>
<circle cx="786" cy="355" r="6" fill="none" stroke="#0b0b0b" stroke-width="4"/>
<circle cx="795" cy="339" r="6" fill="none" stroke="#0b0b0b" stroke-width="4"/>
<circle cx="785" cy="336" r="6" fill="none" stroke="#0b0b0b" stroke-width="4"/>
<ellipse cx="773" cy="335" rx="12" ry="4" transform="rotate(90 773 335)"/>
<ellipse cx="795" cy="301" rx="12" ry="4" transform="rotate(79 795 301)"/>
<ellipse cx="828" cy="303" rx="12" ry="4" transform="rotate(31 828 303)"/>
<ellipse cx="801" cy="283" rx="12" ry="4" transform="rotate(59 801 283)"/>
<circle cx="788" cy="273" r="6" fill="none" stroke="#0b0b0b" stroke-width="4"/>
<ellipse cx="811" cy="295" rx="12" ry="4" transform="rotate(139 811 295)"/>
<ellipse cx="789" cy="272" rx="12" ry="4" transform="rotate(164 789 272)"/>
<circle cx="802" cy="246" r="6" fill="none" stroke="#0b0b0b" stroke-width="4"/>
<circle cx="798" cy="264" r="6" fill="none" stroke="#0b0b0b" stroke-width="4"/>
<ellipse cx="808" cy="234" rx="12" ry="4" transform="rotate(170 808 234)"/>
<ellipse cx="796" cy="224" rx="12" ry="4" transform="rotate(151 796 224)"/>
<ellipse cx="833" cy="246" rx="12" ry="4" transform="rotate(13 833 246)"/>
<circle cx="840" cy="243" r="6" fill="none" stroke="#0b0b0b" stroke-width="4"/>
<ellipse cx="837" cy="227" rx="12" ry="4" transform="rotate(119 837 227)"/>
<circle cx="844" cy="190" r="6" fill="none" stroke="#0b0b0b" stroke-width="4"/>
<circle cx="809" cy="219" r="6" fill="none" stroke="#0b0b0b" stroke-width="4"/>
<path d="M750,330 Q800,300 855,260" stroke="#0b0b0b" stroke-width="5" fill="none"/>
<ellipse cx="765" cy="336" rx="12" ry="4" transform="rotate(93 765 336)"/>
<ellipse cx="762" cy="336" rx="12" ry="4" transform="rotate(130 762 336)"/>
<ellipse cx="746" cy="320" rx="12" ry="4" transform="rotate(3 746 320)"/>
<circle cx="765" cy="304" r="6" fill="none" stroke="#0b0b0b" stroke-width="4"/>
<ellipse cx="780" cy="293" rx="12" ry="4" transform="rotate(19 780 293)"/>
<ellipse cx="793" cy="319" rx="12" ry="4" transform="rotate(49 793 319)"/>
<ellipse cx="774" cy="313" rx="12" ry="4" transform="rotate(147 774 313)"/>
<circle cx="805" cy="320" r="6" fill="none" stroke="#0b0b0b" stroke-width="4"/>
<ellipse cx="799" cy="307" rx="12" ry="4" transform="rotate(124 799 307)"/>
<circle cx="829" cy="301" r="6" fill="none" stroke="#0b0b0b" stroke-width="4"/>
<circle cx="827" cy="302" r="6" fill="none" stroke="#0b0b0b" stroke-width="4"/>
<circle cx="799" cy="295" r="6" fill="none" stroke="#0b0b0b" stroke-width="4"/>
<ellipse cx="827" cy="288" rx="12" ry="4" transform="rotate(95 827 288)"/>
<ellipse cx="835" cy="285" rx="12" ry="4" transform="rotate(9 835 285)"/>
<ellipse cx="824" cy="290" rx="12" ry="4" transform="rotate(137 824 290)"/>
<ellipse cx="837" cy="267" rx="12" ry="4" transform="rotate(62 837 267)"/>
<circle cx="846" cy="273" r="6" fill="none" stroke="#0b0b0b" stroke-width="4"/>
<ellipse cx="851" cy="280" rx="12" ry="4" transform="rotate(168 851 280)"/>
<path d="M400,470 Q250,465 100,510" stroke="#0b0b0b" stroke-width="5" fill="none"/>
<circle cx="396" cy="455" r="6" fill="none" stroke="#0b0b0b" stroke-width="4"/>
<circle cx="376" cy="480" r="6" fill="none" stroke="#0b0b0b" stroke-width="4"/>
<circle cx="377" cy="489" r="6" fill="none" stroke="#0b0b0b" stroke-width="4"/>
<ellipse cx="356" cy="477" rx="12" ry="4" transform="rotate(10 356 477)"/>
<ellipse cx="387" cy="479" rx="12" ry="4" transform="rotate(46 387 479)"/>
<circle cx="388" cy="481" r="6" fill="none" stroke="#0b0b0b" stroke-width="4"/>
<ellipse cx="344" cy="482" rx="12" ry="4" transform="rotate(53 344 482)"/>
<circle cx="355" cy="483" r="6" fill="none" stroke="#0b0b0b" stroke-width="4"/>
<circle cx="364" cy="467" r="6" fill="none" stroke="#0b0b0b" stroke-width="4"/>
<ellipse cx="320" cy="484" rx="12" ry="4" transform="rotate(0 320 484)"/>
<ellipse cx="308" cy="473" rx="12" ry="4" transform="rotate(36 308 473)"/>
<ellipse cx="338" cy="471" rx="12" ry="4" transform="rotate(16 338 471)"/>
<ellipse cx="312" cy="474" rx="12" ry="4" transform="rotate(55 312 474)"/>
<circle cx="289" cy="463" r="6" fill="none" stroke="#0b0b0b" stroke-width="4"/>
<ellipse cx="299" cy="449" rx="12" ry="4" transform="rotate(70 299 449)"/>
<circle cx="293" cy="473" r="6" fill="none" stroke="#0b0b0b" stroke-width="4"/>
<circle cx="304" cy="480" r="6" fill="none" stroke="#0b0b0b" stroke-width="4"/>
<ellipse cx="280" cy="451" rx="12" ry="4" transform="rotate(25 280 451)"/>
<circle cx="238" cy="476" r="6" fill="none" stroke="#0b0b0b" stroke-width="4"/>
<circle cx="240" cy="464" r="6" fill="none" stroke="#0b0b0b" stroke-width="4"/>
<ellipse cx="262" cy="484" rx="12" ry="4" transform="rotate(24 262 484)"/>
<circle cx="257" cy="493" r="6" fill="none" stroke="#0b0b0b" stroke-width="4"/>
<ellipse cx="225" cy="465" rx="12" ry="4" transform="rotate(88 225 465)"/>
<ellipse cx="246" cy="459" rx="12" ry="4" transform="rotate(91 246 459)"/>
<ellipse cx="213" cy="475" rx="12" ry="4" transform="rotate(133 213 475)"/>
<ellipse cx="229" cy="488" rx="12" ry="4" transform="rotate(131 229 488)"/>
<ellipse cx="216" cy="457" rx="12" ry="4" transform="rotate(89 216 457)"/>
<circle cx="176" cy="489" r="6" fill="none" stroke="#0b0b0b" stroke-width="4"/>
<ellipse cx="191" cy="479" rx="12" ry="4" transform="rotate(27 191 479)"/>
<ellipse cx="196" cy="473" rx="12" ry="4" transform="rotate(102 196 473)"/>
<circle cx="187" cy="495" r="6" fill="none" stroke="#0b0b0b" stroke-width="4"/>
<ellipse cx="169" cy="479" rx="12" ry="4" transform="rotate(93 169 479)"/>
<ellipse cx="165" cy="493" rx="12" ry="4" transform="rotate(161 165 493)"/>
<ellipse cx="178" cy="492" rx="12" ry="4" transform="rotate(3 178 492)"/>
<ellipse cx="164" cy="473" rx="12" ry="4" transform="rotate(81 164 473)"/>
<circle cx="160" cy="520" r="6" fill="none" stroke="#0b0b0b" stroke-width="4"/>
<ellipse cx="143" cy="514" rx="12" ry="4" transform="rotate(171 143 514)"/>
<circle cx="139" cy="486" r="6" fill="none" stroke="#0b0b0b" stroke-width="4"/>
<ellipse cx="135" cy="525" rx="12" ry="4" transform="rotate(88 135 525)"/>
<ellipse cx="127" cy="507" rx="12" ry="4" transform="rotate(81 127 507)"/>
<circle cx="120" cy="518" r="6" fill="none" stroke="#0b0b0b" stroke-width="4"/>
<ellipse cx="132" cy="507" rx="12" ry="4" transform="rotate(151 132 507)"/>
<path d="M600,470 Q750,465 895,510" stroke="#0b0b0b" stroke-width="5" fill="none"/>
<ellipse cx="629" cy="460" rx="12" ry="4" transform="rotate(162 629 460)"/>
<circle cx="600" cy="480" r="6" fill="none" stroke="#0b0b0b" stroke-width="4"/>
<ellipse cx="601" cy="482" rx="12" ry="4" transform="rotate(50 601 482)"/>
<circle cx="651" cy="483" r="6" fill="none" stroke="#0b0b0b" stroke-width="4"/>
<ellipse cx="632" cy="482" rx="12" ry="4" transform="rotate(92 632 482)"/>
<circle cx="614" cy="488" r="6" fill="none" stroke="#0b0b0b" stroke-width="4"/>
<ellipse cx="637" cy="452" rx="12" ry="4" transform="rotate(169 637 452)"/>
<ellipse cx="652" cy="461" rx="12" ry="4" transform="rotate(132 652 461)"/>
<ellipse cx="654" cy="450" rx="12" ry="4" transform="rotate(52 654 450)"/>
<ellipse cx="684" cy="466" rx="12" ry="4" transform="rotate(85 684 466)"/>
<ellipse cx="668" cy="491" rx="12" ry="4" transform="rotate(176 668 491)"/>
<ellipse cx="667" cy="460" rx="12" ry="4" transform="rotate(100 667 460)"/>
<circle cx="701" cy="481" r="6" fill="none" stroke="#0b0b0b" stroke-width="4"/>
<circle cx="684" cy="472" r="6" fill="none" stroke="#0b0b0b" stroke-width="4"/>
<ellipse cx="686" cy="475" rx="12" ry="4" transform="rotate(35 686 475)"/>
<ellipse cx="712" cy="482" rx="12" ry="4" transform="rotate(43 712 482)"/>
<ellipse cx="695" cy="464" rx="12" ry="4" transform="rotate(135 695 464)"/>
<ellipse cx="702" cy="483" rx="12" ry="4" transform="rotate(68 702 483)"/>
<ellipse cx="750" cy="481" rx="12" ry="4" transform="rotate(174 750 481)"/>
<ellipse cx="719" cy="476" rx="12" ry="4" transform="rotate(155 719 476)"/>
<ellipse cx="737" cy="488" rx="12" ry="4" transform="rotate(72 737 488)"/>
<ellipse cx="782" cy="472" rx="12" ry="4" transform="rotate(157 782 472)"/>
<ellipse cx="780" cy="483" rx="12" ry="4" transform="rotate(161 780 483)"/>
<circle cx="753" cy="475" r="6" fill="none" stroke="#0b0b0b" stroke-width="4"/>
<ellipse cx="791" cy="462" rx="12" ry="4" transform="rotate(175 791 462)"/>
<circle cx="789" cy="489" r="6" fill="none" stroke="#0b0b0b" stroke-width="4"/>
<circle cx="800" cy="475" r="6" fill="none" stroke="#0b0b0b" stroke-width="4"/>
<circle cx="784" cy="491" r="6" fill="none" stroke="#0b0b0b" stroke-width="4"/>
<ellipse cx="804" cy="511" rx="12" ry="4" transform="rotate(116 804 511)"/>
<circle cx="810" cy="495" r="6" fill="none" stroke="#0b0b0b" stroke-width="4"/>
<circle cx="829" cy="497" r="6" fill="none" stroke="#0b0b0b" stroke-width="4"/>
<ellipse cx="813" cy="498" rx="12" ry="4" transform="rotate(108 813 498)"/>
<circle cx="817" cy="506" r="6" fill="none" stroke="#0b0b0b" stroke-width="4"/>
<ellipse cx="855" cy="485" rx="12" ry="4" transform="rotate(42 855 485)"/>
<ellipse cx="863" cy="490" rx="12" ry="4" transform="rotate(55 863 490)"/>
<ellipse cx="823" cy="496" rx="12" ry="4" transform="rotate(76 823 496)"/>
<ellipse cx="852" cy="480" rx="12" ry="4" transform="rotate(41 852 480)"/>
<ellipse cx="856" cy="514" rx="12" ry="4" transform="rotate(123 856 514)"/>
<ellipse cx="870" cy="481" rx="12" ry="4" transform="rotate(91 870 481)"/>
<ellipse cx="898" cy="504" rx="12" ry="4" transform="rotate(148 898 504)"/>
<circle cx="888" cy="528" r="6" fill="none" stroke="#0b0b0b" stroke-width="4"/>
<ellipse cx="873" cy="507" rx="12" ry="4" transform="rotate(40 873 507)"/>
<path d="M330,500 Q250,540 150,560" stroke="#0b0b0b" stroke-width="5" fill="none"/>
<ellipse cx="309" cy="484" rx="12" ry="4" transform="rotate(26 309 484)"/>
<ellipse cx="326" cy="527" rx="12" ry="4" transform="rotate(26 326 527)"/>
<circle cx="334" cy="509" r="6" fill="none" stroke="#0b0b0b" stroke-width="4"/>
<ellipse cx="300" cy="489" rx="12" ry="4" transform="rotate(168 300 489)"/>
<ellipse cx="312" cy="534" rx="12" ry="4" transform="rotate(134 312 534)"/>
<ellipse cx="296" cy="501" rx="12" ry="4" transform="rotate(67 296 501)"/>
<ellipse cx="288" cy="527" rx="12" ry="4" transform="rotate(50 288 527)"/>
<ellipse cx="293" cy="518" rx="12" ry="4" transform="rotate(174 293 518)"/>
<ellipse cx="271" cy="537" rx="12" ry="4" transform="rotate(148 271 537)"/>
<circle cx="279" cy="533" r="6" fill="none" stroke="#0b0b0b" stroke-width="4"/>
<ellipse cx="269" cy="541" rx="12" ry="4" transform="rotate(161 269 541)"/>
<ellipse cx="247" cy="539" rx="12" ry="4" transform="rotate(138 247 539)"/>
<ellipse cx="253" cy="537" rx="12" ry="4" transform="rotate(166 253 537)"/>
<ellipse cx="245" cy="513" rx="12" ry="4" transform="rotate(61 245 513)"/>
<circle cx="262" cy="530" r="6" fill="none" stroke="#0b0b0b" stroke-width="4"/>
<circle cx="220" cy="552" r="6" fill="none" stroke="#0b0b0b" stroke-width="4"/>
<ellipse cx="240" cy="532" rx="12" ry="4" transform="rotate(170 240 532)"/>
<circle cx="226" cy="557" r="6" fill="none" stroke="#0b0b0b" stroke-width="4"/>
<ellipse cx="195" cy="555" rx="12" ry="4" transform="rotate(77 195 555)"/>
<circle cx="213" cy="543" r="6" fill="none" stroke="#0b0b0b" stroke-width="4"/>
<ellipse cx="213" cy="529" rx="12" ry="4" transform="rotate(109 213 529)"/>
<ellipse cx="177" cy="565" rx="12" ry="4" transform="rotate(141 177 565)"/>
<ellipse cx="189" cy="572" rx="12" ry="4" transform="rotate(45 189 572)"/>
<circle cx="199" cy="556" r="6" fill="none" stroke="#0b0b0b" stroke-width="4"/>
<ellipse cx="179" cy="542" rx="12" ry="4" transform="rotate(48 179 542)"/>
<ellipse cx="174" cy="567" rx="12" ry="4" transform="rotate(128 174 567)"/>
<circle cx="162" cy="572" r="6" fill="none" stroke="#0b0b0b" stroke-width="4"/>
<path d="M670,500 Q750,540 850,560" stroke="#0b0b0b" stroke-width="5" fill="none"/>
<ellipse cx="679" cy="483" rx="12" ry="4" transform="rotate(120 679 483)"/>
<ellipse cx="686" cy="494" rx="12" ry="4" transform="rotate(102 686 494)"/>
<ellipse cx="678" cy="494" rx="12" ry="4" transform="rotate(45 678 494)"/>
<ellipse cx="710" cy="531" rx="12" ry="4" transform="rotate(104 710 531)"/>
<ellipse cx="678" cy="527" rx="12" ry="4" transform="rotate(91 678 527)"/>
<ellipse cx="704" cy="496" rx="12" ry="4" transform="rotate(178 704 496)"/>
<circle cx="695" cy="524" r="6" fill="none" stroke="#0b0b0b" stroke-width="4"/>
<ellipse cx="728" cy="524" rx="12" ry="4" transform="rotate(21 728 524)"/>
<ellipse cx="733" cy="518" rx="12" ry="4" transform="rotate(167 733 518)"/>
<circle cx="745" cy="517" r="6" fill="none" stroke="#0b0b0b" stroke-width="4"/>
<circle cx="744" cy="525" r="6" fill="none" stroke="#0b0b0b" stroke-width="4"/>
<ellipse cx="738" cy="541" rx="12" ry="4" transform="rotate(25 738 541)"/>
<ellipse cx="754" cy="552" rx="12" ry="4" transform="rotate(117 754 552)"/>
<ellipse cx="768" cy="536" rx="12" ry="4" transform="rotate(122 768 536)"/>
<ellipse cx="751" cy="545" rx="12" ry="4" transform="rotate(143 751 545)"/>
<circle cx="783" cy="545" r="6" fill="none" stroke="#0b0b0b" stroke-width="4"/>
<circle cx="770" cy="535" r="6" fill="none" stroke="#0b0b0b" stroke-width="4"/>
<circle cx="765" cy="548" r="6" fill="none" stroke="#0b0b0b" stroke-width="4"/>
<ellipse cx="790" cy="563" rx="12" ry="4" transform="rotate(64 790 563)"/>
<ellipse cx="812" cy="529" rx="12" ry="4" transform="rotate(65 812 529)"/>
<circle cx="795" cy="537" r="6" fill="none" stroke="#0b0b0b" stroke-width="4"/>
<circle cx="799" cy="562" r="6" fill="none" stroke="#0b0b0b" stroke-width="4"/>
<circle cx="808" cy="555" r="6" fill="none" stroke="#0b0b0b" stroke-width="4"/>
<circle cx="803" cy="535" r="6" fill="none" stroke="#0b0b0b" stroke-width="4"/>
<ellipse cx="828" cy="569" rx="12" ry="4" transform="rotate(26 828 569)"/>
<ellipse cx="816" cy="555" rx="12" ry="4" transform="rotate(20 816 555)"/>
<ellipse cx="847" cy="536" rx="12" ry="4" transform="rotate(36 847 536)"/>
<path d="M330,520 Q270,570 235,615" stroke="#0b0b0b" stroke-width="5" fill="none"/>
<ellipse cx="342" cy="520" rx="10" ry="4" transform="rotate(87 342 520)"/>
<circle cx="333" cy="521" r="5" fill="none" stroke="#0b0b0b" stroke-width="4"/>
<ellipse cx="326" cy="519" rx="10" ry="4" transform="rotate(141 326 519)"/>
<ellipse cx="289" cy="552" rx="10" ry="4" transform="rotate(149 289 552)"/>
<ellipse cx="308" cy="554" rx="10" ry="4" transform="rotate(93 308 554)"/>
<circle cx="313" cy="548" r="5" fill="none" stroke="#0b0b0b" stroke-width="4"/>
<ellipse cx="305" cy="559" rx="10" ry="4" transform="rotate(136 305 559)"/>
<circle cx="295" cy="548" r="5" fill="none" stroke="#0b0b0b" stroke-width="4"/>
<circle cx="282" cy="547" r="5" fill="none" stroke="#0b0b0b" stroke-width="4"/>
<ellipse cx="261" cy="576" rx="10" ry="4" transform="rotate(80 261 576)"/>
<ellipse cx="292" cy="571" rx="10" ry="4" transform="rotate(88 292 571)"/>
<ellipse cx="278" cy="550" rx="10" ry="4" transform="rotate(82 278 550)"/>
<ellipse cx="255" cy="584" rx="10" ry="4" transform="rotate(23 255 584)"/>
<ellipse cx="274" cy="590" rx="10" ry="4" transform="rotate(92 274 590)"/>
<circle cx="258" cy="576" r="5" fill="none" stroke="#0b0b0b" stroke-width="4"/>
<ellipse cx="244" cy="595" rx="10" ry="4" transform="rotate(91 244 595)"/>
<circle cx="259" cy="593" r="5" fill="none" stroke="#0b0b0b" stroke-width="4"/>
<circle cx="249" cy="576" r="5" fill="none" stroke="#0b0b0b" stroke-width="4"/>
<ellipse cx="219" cy="610" rx="10" ry="4" transform="rotate(165 219 610)"/>
<ellipse cx="245" cy="588" rx="10" ry="4" transform="rotate(12 245 588)"/>
<ellipse cx="240" cy="600" rx="10" ry="4" transform="rotate(161 240 600)"/>
<path d="M670,520 Q730,570 765,615" stroke="#0b0b0b" stroke-width="5" fill="none"/>
<circle cx="682" cy="519" r="5" fill="none" stroke="#0b0b0b" stroke-width="4"/>
<ellipse cx="681" cy="537" rx="10" ry="4" transform="rotate(91 681 537)"/>
<circle cx="688" cy="529" r="5" fill="none" stroke="#0b0b0b" stroke-width="4"/>
<circle cx="686" cy="523" r="5" fill="none" stroke="#0b0b0b" stroke-width="4"/>
<ellipse cx="706" cy="551" rx="10" ry="4" transform="rotate(115 706 551)"/>
<circle cx="705" cy="530" r="5" fill="none" stroke="#0b0b0b" stroke-width="4"/>
<ellipse cx="727" cy="568" rx="10" ry="4" transform="rotate(113 727 568)"/>
<circle cx="713" cy="545" r="5" fill="none" stroke="#0b0b0b" stroke-width="4"/>
<ellipse cx="698" cy="569" rx="10" ry="4" transform="rotate(80 698 569)"/>
<ellipse cx="723" cy="561" rx="10" ry="4" transform="rotate(148 723 561)"/>
<circle cx="710" cy="552" r="5" fill="none" stroke="#0b0b0b" stroke-width="4"/>
<ellipse cx="721" cy="575" rx="10" ry="4" transform="rotate(6 721 575)"/>
<circle cx="727" cy="573" r="5" fill="none" stroke="#0b0b0b" stroke-width="4"/>
<ellipse cx="744" cy="590" rx="10" ry="4" transform="rotate(118 744 590)"/>
<ellipse cx="749" cy="582" rx="10" ry="4" transform="rotate(19 749 582)"/>
<ellipse cx="751" cy="611" rx="10" ry="4" transform="rotate(106 751 611)"/>
<circle cx="739" cy="586" r="5" fill="none" stroke="#0b0b0b" stroke-width="4"/>
<circle cx="749" cy="604" r="5" fill="none" stroke="#0b0b0b" stroke-width="4"/>
<ellipse cx="773" cy="595" rx="10" ry="4" transform="rotate(72 773 595)"/>
<ellipse cx="776" cy="610" rx="10" ry="4" transform="rotate(101 776 610)"/>
<circle cx="752" cy="598" r="5" fill="none" stroke="#0b0b0b" stroke-width="4"/>
<path d="M115,395 Q180,365 255,378" stroke="#0b0b0b" stroke-width="5" fill="none"/>
<ellipse cx="126" cy="409" rx="10" ry="4" transform="rotate(8 126 409)"/>
<circle cx="118" cy="395" r="5" fill="none" stroke="#0b0b0b" stroke-width="4"/>
<ellipse cx="140" cy="391" rx="10" ry="4" transform="rotate(169 140 391)"/>
<circle cx="153" cy="396" r="5" fill="none" stroke="#0b0b0b" stroke-width="4"/>
<ellipse cx="151" cy="375" rx="10" ry="4" transform="rotate(56 151 375)"/>
<circle cx="166" cy="388" r="5" fill="none" stroke="#0b0b0b" stroke-width="4"/>
<ellipse cx="189" cy="378" rx="10" ry="4" transform="rotate(134 189 378)"/>
<ellipse cx="170" cy="365" rx="10" ry="4" transform="rotate(41 170 365)"/>
<circle cx="172" cy="384" r="5" fill="none" stroke="#0b0b0b" stroke-width="4"/>
<ellipse cx="188" cy="358" rx="10" ry="4" transform="rotate(128 188 358)"/>
<ellipse cx="183" cy="371" rx="10" ry="4" transform="rotate(142 183 371)"/>
<ellipse cx="193" cy="390" rx="10" ry="4" transform="rotate(174 193 390)"/>
<ellipse cx="223" cy="370" rx="10" ry="4" transform="rotate(47 223 370)"/>
<ellipse cx="217" cy="355" rx="10" ry="4" transform="rotate(134 217 355)"/>
<circle cx="226" cy="367" r="5" fill="none" stroke="#0b0b0b" stroke-width="4"/>
<circle cx="232" cy="365" r="5" fill="none" stroke="#0b0b0b" stroke-width="4"/>
<circle cx="225" cy="380" r="5" fill="none" stroke="#0b0b0b" stroke-width="4"/>
<ellipse cx="228" cy="382" rx="10" ry="4" transform="rotate(103 228 382)"/>
<path d="M885,395 Q820,365 745,378" stroke="#0b0b0b" stroke-width="5" fill="none"/>
<circle cx="878" cy="405" r="5" fill="none" stroke="#0b0b0b" stroke-width="4"/>
<circle cx="878" cy="395" r="5" fill="none" stroke="#0b0b0b" stroke-width="4"/>
<ellipse cx="870" cy="397" rx="10" ry="4" transform="rotate(5 870 397)"/>
<circle cx="847" cy="369" r="5" fill="none" stroke="#0b0b0b" stroke-width="4"/>
<circle cx="865" cy="388" r="5" fill="none" stroke="#0b0b0b" stroke-width="4"/>
<circle cx="860" cy="366" r="5" fill="none" stroke="#0b0b0b" stroke-width="4"/>
<ellipse cx="846" cy="368" rx="10" ry="4" transform="rotate(19 846 368)"/>
<circle cx="834" cy="382" r="5" fill="none" stroke="#0b0b0b" stroke-width="4"/>
<ellipse cx="817" cy="364" rx="10" ry="4" transform="rotate(114 817 364)"/>
<ellipse cx="812" cy="379" rx="10" ry="4" transform="rotate(136 812 379)"/>
<ellipse cx="801" cy="385" rx="10" ry="4" transform="rotate(4 801 385)"/>
<ellipse cx="803" cy="390" rx="10" ry="4" transform="rotate(66 803 390)"/>
<circle cx="795" cy="371" r="5" fill="none" stroke="#0b0b0b" stroke-width="4"/>
<circle cx="793" cy="376" r="5" fill="none" stroke="#0b0b0b" stroke-width="4"/>
<ellipse cx="773" cy="387" rx="10" ry="4" transform="rotate(97 773 387)"/>
<ellipse cx="762" cy="371" rx="10" ry="4" transform="rotate(148 762 371)"/>
<circle cx="766" cy="376" r="5" fill="none" stroke="#0b0b0b" stroke-width="4"/>
<circle cx="770" cy="376" r="5" fill="none" stroke="#0b0b0b" stroke-width="4"/>
<path d="M500,380 Q480,450 420,510" stroke="#0b0b0b" stroke-width="5" fill="none"/>
<circle cx="504" cy="407" r="6" fill="none" stroke="#0b0b0b" stroke-width="4"/>
<ellipse cx="495" cy="417" rx="12" ry="4" transform="rotate(51 495 417)"/>
<circle cx="491" cy="373" r="6" fill="none" stroke="#0b0b0b" stroke-width="4"/>
<circle cx="510" cy="421" r="6" fill="none" stroke="#0b0b0b" stroke-width="4"/>
<ellipse cx="479" cy="398" rx="12" ry="4" transform="rotate(72 479 398)"/>
<ellipse cx="497" cy="403" rx="12" ry="4" transform="rotate(160 497 403)"/>
<ellipse cx="484" cy="442" rx="12" ry="4" transform="rotate(162 484 442)"/>
<ellipse cx="462" cy="446" rx="12" ry="4" transform="rotate(42 462 446)"/>
<circle cx="458" cy="424" r="6" fill="none" stroke="#0b0b0b" stroke-width="4"/>
<circle cx="461" cy="460" r="6" fill="none" stroke="#0b0b0b" stroke-width="4"/>
<ellipse cx="458" cy="428" rx="12" ry="4" transform="rotate(31 458 428)"/>
<ellipse cx="473" cy="428" rx="12" ry="4" transform="rotate(23 473 428)"/>
<ellipse cx="468" cy="457" rx="12" ry="4" transform="rotate(34 468 457)"/>
<ellipse cx="451" cy="442" rx="12" ry="4" transform="rotate(28 451 442)"/>
<ellipse cx="458" cy="481" rx="12" ry="4" transform="rotate(94 458 481)"/>
<circle cx="438" cy="495" r="6" fill="none" stroke="#0b0b0b" stroke-width="4"/>
<ellipse cx="466" cy="500" rx="12" ry="4" transform="rotate(18 466 500)"/>
<ellipse cx="468" cy="481" rx="12" ry="4" transform="rotate(132 468 481)"/>
<ellipse cx="435" cy="521" rx="12" ry="4" transform="rotate(19 435 521)"/>
<circle cx="421" cy="507" r="6" fill="none" stroke="#0b0b0b" stroke-width="4"/>
<ellipse cx="422" cy="484" rx="12" ry="4" transform="rotate(114 422 484)"/>
<path d="M500,380 Q520,450 580,510" stroke="#0b0b0b" stroke-width="5" fill="none"/>
<circle cx="516" cy="406" r="6" fill="none" stroke="#0b0b0b" stroke-width="4"/>
<circle cx="517" cy="381" r="6" fill="none" stroke="#0b0b0b" stroke-width="4"/>
<circle cx="492" cy="396" r="6" fill="none" stroke="#0b0b0b" stroke-width="4"/>
<circle cx="514" cy="388" r="6" fill="none" stroke="#0b0b0b" stroke-width="4"/>
<circle cx="500" cy="396" r="6" fill="none" stroke="#0b0b0b" stroke-width="4"/>
<circle cx="524" cy="419" r="6" fill="none" stroke="#0b0b0b" stroke-width="4"/>
<ellipse cx="510" cy="419" rx="12" ry="4" transform="rotate(76 510 419)"/>
<circle cx="508" cy="417" r="6" fill="none" stroke="#0b0b0b" stroke-width="4"/>
<ellipse cx="528" cy="448" rx="12" ry="4" transform="rotate(140 528 448)"/>
<ellipse cx="503" cy="449" rx="12" ry="4" transform="rotate(7 503 449)"/>
<ellipse cx="543" cy="468" rx="12" ry="4" transform="rotate(169 543 468)"/>
<circle cx="546" cy="459" r="6" fill="none" stroke="#0b0b0b" stroke-width="4"/>
<ellipse cx="521" cy="464" rx="12" ry="4" transform="rotate(149 521 464)"/>
<circle cx="519" cy="480" r="6" fill="none" stroke="#0b0b0b" stroke-width="4"/>
<circle cx="524" cy="480" r="6" fill="none" stroke="#0b0b0b" stroke-width="4"/>
<ellipse cx="550" cy="491" rx="12" ry="4" transform="rotate(49 550 491)"/>
<circle cx="573" cy="485" r="6" fill="none" stroke="#0b0b0b" stroke-width="4"/>
<circle cx="548" cy="495" r="6" fill="none" stroke="#0b0b0b" stroke-width="4"/>
<circle cx="589" cy="494" r="6" fill="none" stroke="#0b0b0b" stroke-width="4"/>
<circle cx="562" cy="509" r="6" fill="none" stroke="#0b0b0b" stroke-width="4"/>
<circle cx="579" cy="482" r="6" fill="none" stroke="#0b0b0b" stroke-width="4"/>
<path d="M400,405 Q440,380 470,402" stroke="#0b0b0b" stroke-width="5" fill="none"/>
<circle cx="415" cy="411" r="4" fill="none" stroke="#0b0b0b" stroke-width="4"/>
<ellipse cx="418" cy="387" rx="9" ry="3" transform="rotate(84 418 387)"/>
<ellipse cx="408" cy="396" rx="9" ry="3" transform="rotate(150 408 396)"/>
<ellipse cx="442" cy="386" rx="9" ry="3" transform="rotate(68 442 386)"/>
<circle cx="432" cy="394" r="4" fill="none" stroke="#0b0b0b" stroke-width="4"/>
<ellipse cx="436" cy="398" rx="9" ry="3" transform="rotate(54 436 398)"/>
<ellipse cx="450" cy="401" rx="9" ry="3" transform="rotate(119 450 401)"/>
<circle cx="471" cy="391" r="4" fill="none" stroke="#0b0b0b" stroke-width="4"/>
<circle cx="470" cy="389" r="4" fill="none" stroke="#0b0b0b" stroke-width="4"/>
<path d="M600,405 Q560,380 530,402" stroke="#0b0b0b" stroke-width="5" fill="none"/>
<circle cx="584" cy="395" r="4" fill="none" stroke="#0b0b0b" stroke-width="4"/>
<ellipse cx="583" cy="392" rx="9" ry="3" transform="rotate(18 583 392)"/>
<ellipse cx="588" cy="410" rx="9" ry="3" transform="rotate(62 588 410)"/>
<circle cx="572" cy="385" r="4" fill="none" stroke="#0b0b0b" stroke-width="4"/>
<circle cx="553" cy="384" r="4" fill="none" stroke="#0b0b0b" stroke-width="4"/>
<circle cx="565" cy="380" r="4" fill="none" stroke="#0b0b0b" stroke-width="4"/>
<circle cx="529" cy="394" r="4" fill="none" stroke="#0b0b0b" stroke-width="4"/>
<ellipse cx="534" cy="394" rx="9" ry="3" transform="rotate(42 534 394)"/>
<ellipse cx="536" cy="396" rx="9" ry="3" transform="rotate(84 536 396)"/>
<path d="M500,385 V560" stroke="#0b0b0b" stroke-width="9" fill="none"/>
<path d="M430,470 Q420,500 450,500 Q470,490 455,475 M570,470 Q580,500 550,500 Q530,490 545,475" stroke="#0b0b0b" stroke-width="7" fill="none"/>
<path d="M335,562 Q500,548 665,562 L665,600 Q500,586 335,600 Z" fill="#fff" stroke="#0b0b0b" stroke-width="8"/>
<text x="500" y="594" font-family="Liberation Serif, serif" font-weight="bold" font-size="36" text-anchor="middle" textLength="290" lengthAdjust="spacingAndGlyphs" fill="#0b0b0b">AUSTRALIA</text>
<circle cx="335" cy="540" r="16" fill="none" stroke="#0b0b0b" stroke-width="8"/><circle cx="665" cy="540" r="16" fill="none" stroke="#0b0b0b" stroke-width="8"/>
<path d="M395,645 L480,615 M605,645 L520,615 M440,662 L490,612 M560,662 L510,612 M470,668 L500,610 L530,668" stroke="#0b0b0b" stroke-width="9" fill="none"/>
<ellipse cx="500" cy="625" rx="34" ry="22"/>
</g>
</svg>
<div class="t" style="left:92.00px;top:581.98px;font-size:22px;letter-spacing:0.772px;font-family:'Liberation Sans',sans-serif;font-weight:normal;">Chance of exceeding the median rainfall for</div>
<div class="t" style="left:144.00px;top:605.18px;font-size:22px;letter-spacing:0.786px;font-family:'Liberation Sans',sans-serif;font-weight:normal;">December 2021 to February 2022</div>
<div class="t" style="left:11.20px;top:690.59px;font-size:12.3px;letter-spacing:-0.259px;font-family:'Liberation Sans',sans-serif;font-weight:normal;">Model: ACCESS-S2</div>
<div class="t" style="left:11.20px;top:709.59px;font-size:12.3px;letter-spacing:0.281px;font-family:'Liberation Sans',sans-serif;font-weight:normal;">Base period: 1981-2018</div>
<div class="t" style="left:944.20px;top:691.09px;font-size:12.3px;letter-spacing:0.406px;font-family:'Liberation Sans',sans-serif;font-weight:normal;">Model run: 22/11/2021</div>
<div class="t" style="left:964.60px;top:709.59px;font-size:12.3px;letter-spacing:0.369px;font-family:'Liberation Sans',sans-serif;font-weight:normal;">Issued: 25/11/2021</div>
<div class="t" style="left:29.30px;top:87.87px;font-size:19.5px;font-family:'Liberation Serif',serif;font-weight:bold;transform-origin:0 0;transform:scaleX(0.9216);color:#0b0b0b">Australian Government</div>
<div class="t" style="left:40.20px;top:119.71px;font-size:17.3px;font-family:'Liberation Serif',serif;font-weight:bold;transform-origin:0 0;transform:scaleX(0.9448);color:#0b0b0b">Bureau of Meteorology</div>
<div style="position:absolute;left:29px;top:112.5px;width:183.5px;height:1.2px;background:#111"></div>
<div class="t" style="left:970.60px;top:115.75px;font-size:16.6px;letter-spacing:-0.864px;font-family:'Liberation Sans',sans-serif;font-weight:normal;">80</div>
<div class="t" style="left:970.60px;top:154.91px;font-size:16.6px;letter-spacing:-0.864px;font-family:'Liberation Sans',sans-serif;font-weight:normal;">75</div>
<div class="t" style="left:970.60px;top:194.08px;font-size:16.6px;letter-spacing:-0.864px;font-family:'Liberation Sans',sans-serif;font-weight:normal;">70</div>
<div class="t" style="left:970.60px;top:233.25px;font-size:16.6px;letter-spacing:-0.864px;font-family:'Liberation Sans',sans-serif;font-weight:normal;">65</div>
<div class="t" style="left:970.60px;top:272.41px;font-size:16.6px;letter-spacing:-0.864px;font-family:'Liberation Sans',sans-serif;font-weight:normal;">60</div>
<div class="t" style="left:970.60px;top:311.58px;font-size:16.6px;letter-spacing:-0.864px;font-family:'Liberation Sans',sans-serif;font-weight:normal;">55</div>
<div class="t" style="left:970.60px;top:350.75px;font-size:16.6px;letter-spacing:-0.864px;font-family:'Liberation Sans',sans-serif;font-weight:normal;">50</div>
<div class="t" style="left:970.60px;top:389.91px;font-size:16.6px;letter-spacing:-0.864px;font-family:'Liberation Sans',sans-serif;font-weight:normal;">45</div>
<div class="t" style="left:970.60px;top:429.08px;font-size:16.6px;letter-spacing:-0.864px;font-family:'Liberation Sans',sans-serif;font-weight:normal;">40</div>
<div class="t" style="left:970.60px;top:468.25px;font-size:16.6px;letter-spacing:-0.864px;font-family:'Liberation Sans',sans-serif;font-weight:normal;">35</div>
<div class="t" style="left:970.60px;top:507.41px;font-size:16.6px;letter-spacing:-0.864px;font-family:'Liberation Sans',sans-serif;font-weight:normal;">30</div>
<div class="t" style="left:970.60px;top:546.58px;font-size:16.6px;letter-spacing:-0.864px;font-family:'Liberation Sans',sans-serif;font-weight:normal;">25</div>
<div class="t" style="left:970.60px;top:585.75px;font-size:16.6px;letter-spacing:-0.864px;font-family:'Liberation Sans',sans-serif;font-weight:normal;">20</div>
<div class="t" style="left:1014.3px;top:548px;font-size:19.2px;letter-spacing:0.729px;transform-origin:0 0;transform:rotate(-90deg) translate(0,-16.25px);">Chance of exceeding median rainfall (%)</div>
</body></html>
